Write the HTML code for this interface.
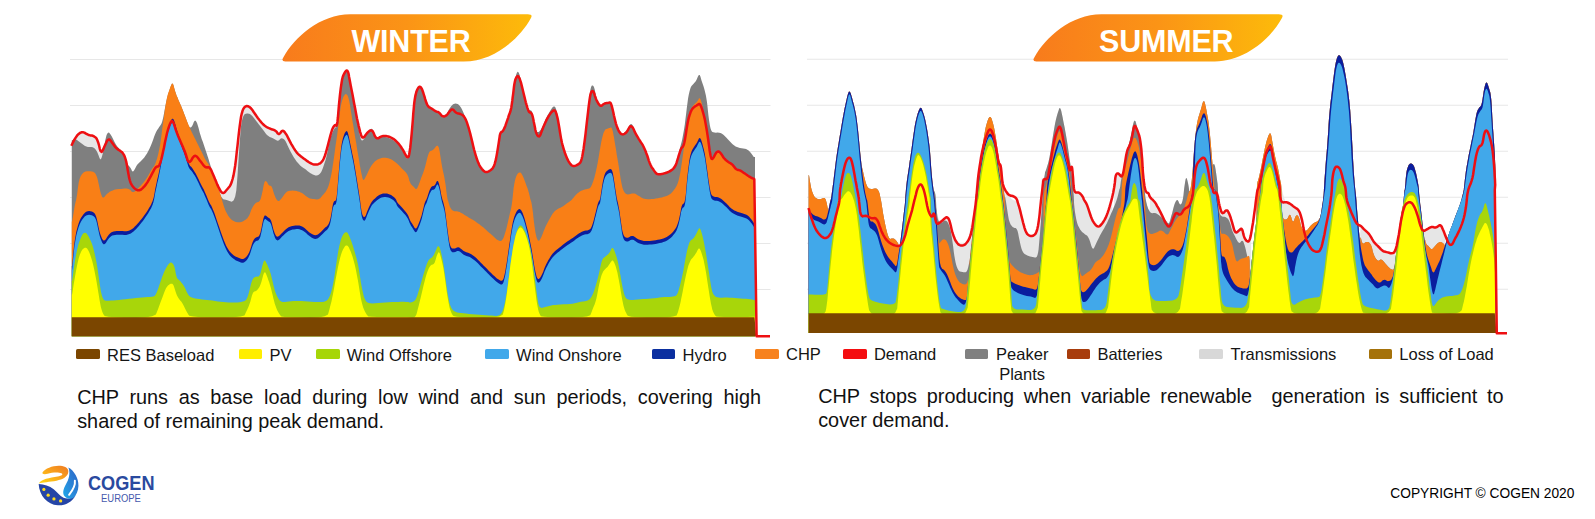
<!DOCTYPE html>
<html><head><meta charset="utf-8"><title>CHP seasonal dispatch</title>
<style>
html,body{margin:0;padding:0;background:#fff;}
body{width:1595px;height:519px;position:relative;overflow:hidden;font-family:"Liberation Sans",sans-serif;color:#111;}
svg{position:absolute;left:0;top:0;}
.ttl{position:absolute;color:#fff;font-weight:bold;font-size:30.5px;line-height:1;white-space:nowrap;letter-spacing:-0.2px;}
.sw{position:absolute;width:23.4px;height:9.4px;border-radius:1.6px;}
.lt{position:absolute;font-size:16.5px;line-height:1;white-space:nowrap;color:#151515;}
.para{position:absolute;font-size:19.88px;line-height:24.1px;text-align:justify;color:#111;}
.para span{display:block;text-align:justify;text-align-last:justify;white-space:nowrap;}
.para span.last{text-align-last:left;}
.cogen{position:absolute;left:88.2px;top:472.6px;font-size:20.3px;font-weight:bold;color:#2a4a9f;line-height:1;transform-origin:0 0;transform:scaleX(0.894);}
.europe{position:absolute;left:101.4px;top:493.6px;font-size:10px;color:#4558ad;line-height:1;transform-origin:0 0;transform:scaleX(0.945);}
.copy{position:absolute;left:1390.3px;top:487.2px;font-size:13.76px;line-height:1;color:#000;white-space:nowrap;}
</style></head><body>
<svg width="1595" height="519" viewBox="0 0 1595 519">
<line x1="70" x2="770.5" y1="59.5" y2="59.5" stroke="#e7e7e7" stroke-width="1.1"/>
<line x1="807" x2="1508" y1="59.2" y2="59.2" stroke="#e7e7e7" stroke-width="1.1"/>
<line x1="70" x2="770.5" y1="105.5" y2="105.5" stroke="#e7e7e7" stroke-width="1.1"/>
<line x1="807" x2="1508" y1="105.2" y2="105.2" stroke="#e7e7e7" stroke-width="1.1"/>
<line x1="70" x2="770.5" y1="151.5" y2="151.5" stroke="#e7e7e7" stroke-width="1.1"/>
<line x1="807" x2="1508" y1="151.2" y2="151.2" stroke="#e7e7e7" stroke-width="1.1"/>
<line x1="70" x2="770.5" y1="197.5" y2="197.5" stroke="#e7e7e7" stroke-width="1.1"/>
<line x1="807" x2="1508" y1="197.2" y2="197.2" stroke="#e7e7e7" stroke-width="1.1"/>
<line x1="70" x2="770.5" y1="243.5" y2="243.5" stroke="#e7e7e7" stroke-width="1.1"/>
<line x1="807" x2="1508" y1="243.2" y2="243.2" stroke="#e7e7e7" stroke-width="1.1"/>
<line x1="70" x2="770.5" y1="289.5" y2="289.5" stroke="#e7e7e7" stroke-width="1.1"/>
<line x1="807" x2="1508" y1="289.2" y2="289.2" stroke="#e7e7e7" stroke-width="1.1"/>
<g id="winter">
<polygon points="71.8,336.2 71.8,146.3 71.8,146.3 71.8,145.7 72.2,144.5 73.1,142.6 74.4,140.2 75.7,138.1 77.0,136.2 78.4,134.7 79.9,133.5 81.4,132.8 82.9,132.7 84.4,133.1 86.0,134.1 87.5,134.9 88.9,135.5 90.3,135.9 91.7,136.0 92.9,136.3 94.1,136.9 95.2,137.7 96.3,138.7 97.2,140.4 98.1,142.7 99.0,145.7 99.8,149.3 100.6,151.6 101.5,152.4 102.3,151.8 103.2,149.9 104.1,147.8 105.0,145.8 106.0,143.7 107.0,141.5 108.0,140.3 109.0,139.9 110.0,140.4 111.1,141.8 112.1,143.2 113.1,144.6 114.1,146.0 115.1,147.3 116.2,148.5 117.5,149.6 118.8,150.5 120.3,151.4 121.7,152.4 122.9,153.8 123.9,155.4 124.8,157.3 125.6,159.8 126.4,162.9 127.1,166.7 127.8,171.0 128.5,174.8 129.1,178.1 129.8,180.8 130.5,182.9 131.4,184.9 132.6,186.8 134.0,188.4 135.7,189.9 137.4,190.7 139.1,190.8 140.8,190.2 142.4,188.9 144.1,187.2 145.8,185.1 147.5,182.6 149.2,179.6 150.7,176.9 152.0,174.4 153.2,172.2 154.2,170.1 155.2,168.6 156.1,167.6 157.0,167.1 157.9,167.1 158.8,166.4 159.6,165.0 160.4,162.9 161.3,160.0 162.1,156.6 163.0,152.6 164.0,148.0 165.0,142.8 166.0,138.3 166.9,134.3 167.8,130.8 168.7,128.0 169.5,125.6 170.3,123.8 171.0,122.4 171.7,121.6 172.4,121.6 173.1,122.6 173.9,124.5 174.8,127.2 175.7,130.1 176.8,133.1 178.0,136.2 179.4,139.4 180.6,142.3 181.8,145.0 182.9,147.6 183.9,149.9 184.9,152.3 185.8,155.0 186.7,157.8 187.6,160.8 188.6,162.3 189.8,162.4 191.1,161.1 192.6,158.4 194.0,156.8 195.4,156.3 196.8,157.0 198.2,158.8 199.5,160.6 200.9,162.3 202.2,164.1 203.6,165.9 204.8,167.1 206.0,167.8 207.1,168.0 208.2,167.6 209.2,168.0 210.2,169.0 211.2,170.6 212.2,172.9 213.2,175.2 214.2,177.6 215.2,180.1 216.3,182.6 217.3,185.1 218.4,187.4 219.6,189.6 220.8,191.8 222.0,193.1 223.2,193.5 224.3,193.1 225.5,191.8 226.6,190.5 227.7,189.2 228.7,188.0 229.8,186.7 230.8,184.9 231.7,182.5 232.6,179.5 233.5,175.9 234.3,171.5 235.2,166.0 236.0,159.6 236.8,152.2 237.6,145.3 238.3,138.7 239.0,132.5 239.7,126.6 240.4,121.7 241.0,117.5 241.7,114.3 242.4,111.8 243.1,109.9 244.0,108.4 244.9,107.4 245.9,106.8 246.9,106.6 247.9,106.7 248.9,107.2 250.0,107.9 251.1,109.0 252.3,110.4 253.5,112.2 254.9,114.2 256.3,116.3 257.8,118.4 259.4,120.5 261.1,122.6 262.8,124.5 264.5,126.0 266.2,127.2 267.8,128.2 269.5,128.9 271.0,129.5 272.4,130.0 273.7,130.3 274.9,130.9 276.0,131.7 276.9,132.7 277.8,134.0 278.6,134.5 279.4,134.4 280.3,133.6 281.2,132.2 282.1,131.4 283.0,131.3 284.0,131.9 285.0,133.1 286.1,134.7 287.3,136.7 288.5,139.1 289.9,141.8 291.2,144.3 292.6,146.7 293.9,148.9 295.3,151.0 296.6,152.8 298.0,154.3 299.3,155.6 300.7,156.7 302.1,157.8 303.6,158.9 305.2,160.1 307.0,161.4 308.6,162.5 310.1,163.4 311.5,164.1 312.9,164.7 314.2,165.0 315.6,165.1 316.9,165.0 318.2,164.7 319.5,164.2 320.6,163.4 321.7,162.3 322.8,160.9 323.8,159.0 324.8,156.5 325.8,153.4 326.8,149.8 327.8,146.1 328.7,142.5 329.6,139.0 330.5,135.5 331.4,132.5 332.2,130.0 333.0,128.2 333.9,126.8 334.6,125.9 335.3,125.5 335.9,125.6 336.4,126.2 336.9,125.1 337.4,122.4 337.9,118.0 338.4,111.9 338.9,105.9 339.5,100.0 340.1,94.2 340.8,88.4 341.5,83.7 342.1,80.0 342.8,77.3 343.5,75.5 344.2,74.1 344.9,72.8 345.7,71.8 346.6,71.0 347.3,71.2 348.0,72.3 348.6,74.4 349.1,77.5 349.7,80.6 350.3,83.8 350.9,87.1 351.6,90.5 352.4,94.4 353.2,98.8 354.1,103.8 355.2,109.3 356.1,114.3 357.0,118.9 357.9,123.0 358.7,126.6 359.5,129.8 360.2,132.6 360.9,134.9 361.6,136.9 362.4,137.9 363.3,138.0 364.4,137.2 365.6,135.5 366.8,133.9 368.0,132.7 369.2,131.6 370.5,130.9 371.6,130.9 372.7,131.8 373.7,133.6 374.7,136.2 375.8,137.9 377.0,138.8 378.4,138.7 380.0,137.6 381.6,136.9 383.2,136.5 384.8,136.4 386.5,136.6 388.2,137.0 389.9,137.5 391.5,138.3 393.3,139.3 394.9,140.5 396.6,142.1 398.3,143.9 400.0,146.0 401.6,148.3 403.1,150.7 404.5,153.3 405.9,156.0 407.0,157.5 408.0,157.8 408.7,156.9 409.2,154.7 409.7,151.7 410.3,147.7 410.8,142.9 411.4,137.2 411.9,131.4 412.4,125.5 412.9,119.6 413.3,113.6 413.8,108.4 414.2,103.9 414.7,100.2 415.2,97.2 415.8,94.6 416.4,92.3 417.2,90.3 418.1,88.7 418.9,87.6 419.7,87.2 420.4,87.4 421.1,88.1 421.8,89.3 422.4,90.8 423.1,92.7 423.8,95.0 424.5,97.2 425.1,99.4 425.8,101.5 426.5,103.6 427.2,105.3 428.1,106.6 429.0,107.6 430.1,108.2 431.1,108.8 432.1,109.4 433.1,110.1 434.1,110.8 435.1,111.4 436.0,111.9 436.9,112.2 437.8,112.4 438.7,112.9 439.5,113.5 440.3,114.4 441.2,115.6 442.0,116.4 442.9,116.8 443.9,116.9 444.9,116.7 445.9,116.2 446.8,115.5 447.7,114.5 448.6,113.3 449.4,112.2 450.2,111.3 450.9,110.6 451.6,110.0 452.3,109.9 453.0,110.1 453.8,110.8 454.6,111.8 455.5,112.7 456.4,113.3 457.3,113.7 458.4,113.9 459.4,114.2 460.4,114.5 461.4,115.0 462.4,115.5 463.4,116.4 464.3,117.5 465.1,118.9 466.0,120.6 466.8,122.6 467.6,125.1 468.5,127.8 469.4,131.0 470.3,134.4 471.2,138.1 472.2,142.1 473.2,146.5 474.2,150.5 475.2,154.1 476.2,157.5 477.3,160.6 478.2,163.1 479.2,165.3 480.1,167.0 481.0,168.2 481.8,169.3 482.7,170.3 483.5,171.2 484.3,171.9 485.2,172.4 486.1,172.6 487.0,172.5 488.1,172.1 489.1,171.6 490.1,171.0 491.1,170.3 492.1,169.4 493.0,168.2 493.9,166.6 494.6,164.6 495.3,162.2 496.0,159.4 496.6,156.1 497.3,152.2 498.0,147.9 498.6,144.1 499.1,140.8 499.5,138.2 499.8,136.0 500.2,134.4 500.7,133.2 501.3,132.4 502.0,132.2 502.7,131.6 503.3,130.7 504.0,129.4 504.7,127.9 505.4,126.2 506.0,124.4 506.7,122.4 507.4,120.3 508.1,118.3 508.7,116.3 509.4,114.5 510.1,112.8 510.7,110.7 511.3,108.0 511.8,104.8 512.3,101.2 512.7,97.6 513.2,94.1 513.6,90.6 514.0,87.2 514.4,84.4 514.9,82.1 515.3,80.3 515.8,79.1 516.3,78.1 516.7,77.4 517.2,76.9 517.7,76.7 518.2,76.8 518.7,77.4 519.2,78.3 519.8,79.6 520.3,81.1 520.9,82.8 521.4,84.8 521.9,86.9 522.5,89.2 523.1,91.7 523.7,94.3 524.4,97.1 525.1,100.0 525.8,102.8 526.6,105.7 527.5,108.6 528.3,110.8 529.1,112.3 529.9,113.0 530.7,113.1 531.4,113.8 532.1,115.1 532.7,117.1 533.3,119.8 533.8,122.5 534.4,125.2 534.9,127.8 535.4,130.5 536.0,132.7 536.7,134.5 537.4,135.8 538.2,136.7 539.0,136.9 539.7,136.4 540.4,135.3 541.1,133.4 541.9,131.4 542.7,129.3 543.6,126.9 544.7,124.5 545.7,122.2 546.7,120.1 547.7,118.3 548.7,116.6 549.7,115.1 550.6,113.8 551.4,112.8 552.3,111.9 553.0,111.3 553.7,111.0 554.3,110.9 554.8,111.0 555.4,111.7 556.0,113.1 556.6,115.0 557.3,117.6 558.0,120.7 558.6,124.2 559.3,128.3 560.0,132.8 560.7,136.9 561.3,140.4 562.0,143.5 562.7,146.2 563.5,148.8 564.3,151.5 565.2,154.3 566.3,157.0 567.3,159.4 568.3,161.4 569.3,163.1 570.3,164.4 571.2,165.4 572.1,166.1 573.0,166.4 573.8,166.5 574.6,166.4 575.5,166.2 576.3,165.9 577.2,165.4 578.1,164.9 578.9,164.3 579.6,163.7 580.3,163.0 581.0,161.6 581.6,159.5 582.3,156.7 582.9,153.2 583.6,149.2 584.2,144.6 584.9,139.5 585.6,133.9 586.2,128.4 586.8,123.1 587.4,118.0 588.0,113.0 588.5,108.5 589.0,104.4 589.5,100.6 590.0,97.4 590.5,94.8 591.1,93.0 591.7,91.9 592.4,91.6 593.0,91.8 593.6,92.6 594.2,93.9 594.7,95.8 595.3,97.5 595.9,99.2 596.5,100.6 597.2,102.0 597.9,103.2 598.5,104.3 599.2,105.2 599.9,105.9 600.6,106.3 601.3,106.3 602.1,105.9 603.0,105.1 603.8,104.5 604.7,104.0 605.7,103.7 606.7,103.6 607.6,103.5 608.5,103.3 609.2,103.1 609.9,102.9 610.6,103.5 611.2,104.8 611.9,107.0 612.6,109.9 613.3,112.8 613.9,115.8 614.6,118.7 615.3,121.6 616.0,124.3 616.8,126.7 617.6,128.9 618.5,130.8 619.3,132.3 620.2,133.5 621.0,134.3 621.9,134.7 622.7,134.9 623.6,134.7 624.6,134.3 625.6,133.6 626.5,132.6 627.4,131.5 628.1,130.2 628.8,128.8 629.5,127.7 630.1,127.0 630.8,126.8 631.5,126.9 632.2,127.4 632.8,128.2 633.5,129.5 634.2,131.1 634.9,132.7 635.8,134.3 636.7,136.0 637.7,137.6 638.7,139.3 639.7,140.9 640.7,142.5 641.8,144.1 642.8,145.7 643.7,147.5 644.6,149.5 645.5,151.5 646.3,153.7 647.2,156.0 648.0,158.5 648.8,161.1 649.7,163.4 650.6,165.5 651.5,167.4 652.6,168.9 653.5,170.3 654.4,171.6 655.1,172.6 655.8,173.5 656.5,174.1 657.4,174.6 658.3,174.8 659.3,174.8 660.4,174.7 661.6,174.6 662.8,174.3 664.2,173.9 665.5,173.5 666.9,173.0 668.2,172.5 669.6,171.9 670.8,171.1 672.0,170.3 673.1,169.3 674.1,168.2 675.0,166.8 675.9,165.1 676.6,163.2 677.3,160.9 678.0,158.7 678.6,156.5 679.3,154.3 680.0,152.1 680.7,150.3 681.3,149.0 682.0,148.0 682.7,147.4 683.3,146.4 683.9,144.8 684.4,142.8 684.9,140.2 685.4,137.4 685.9,134.2 686.4,130.8 687.0,127.1 687.6,123.7 688.2,120.7 688.8,118.1 689.5,115.8 690.2,113.8 690.8,112.1 691.5,110.7 692.2,109.6 692.9,108.7 693.8,107.9 694.7,107.1 695.7,106.5 696.6,106.0 697.5,105.4 698.2,104.9 698.9,104.5 699.6,104.6 700.2,105.2 700.9,106.5 701.6,108.3 702.3,110.3 702.9,112.5 703.6,115.0 704.3,117.6 705.0,120.7 705.6,124.1 706.3,127.9 707.0,132.1 707.6,136.1 708.2,140.0 708.7,143.8 709.2,147.5 709.6,150.7 710.1,153.4 710.5,155.7 710.9,157.4 711.3,158.7 711.8,159.4 712.2,159.5 712.7,159.1 713.2,158.5 713.8,157.6 714.4,156.4 715.1,155.0 715.8,153.9 716.4,153.0 717.1,152.4 717.8,152.1 718.5,152.0 719.1,152.2 719.8,152.7 720.5,153.5 721.2,154.4 721.8,155.3 722.5,156.4 723.2,157.5 723.9,158.5 724.8,159.5 725.7,160.4 726.7,161.3 727.7,162.1 728.7,162.8 729.7,163.4 730.8,163.9 731.8,164.7 732.8,165.7 733.8,166.8 734.8,168.2 735.8,169.3 736.8,170.0 737.8,170.5 738.9,170.6 739.9,170.9 740.9,171.4 741.9,172.0 742.9,172.7 743.9,173.4 744.9,174.1 745.9,174.8 747.0,175.5 748.0,176.2 748.9,176.8 749.8,177.3 750.7,177.9 751.5,178.3 752.2,178.7 752.8,178.9 753.3,179.1 753.7,179.3 754.0,179.4 754.1,179.4 755.0,179.4 755.0,336.2" fill="#e6e6e6" />
<polygon points="71.8,336.2 71.8,140.9 71.8,140.9 71.8,140.8 71.8,140.6 72.1,140.3 72.7,140.0 73.3,139.7 73.9,139.5 74.5,139.3 75.2,139.3 76.0,139.6 77.0,140.1 78.2,140.9 79.6,142.1 80.9,143.1 82.3,144.1 83.6,145.0 85.0,145.9 86.4,146.5 87.9,146.9 89.5,147.1 91.2,146.9 92.7,147.2 94.1,147.9 95.2,148.9 96.3,150.4 97.2,152.0 98.0,153.9 98.8,155.9 99.5,158.1 100.2,159.2 100.8,159.2 101.5,158.1 102.1,155.9 102.8,153.3 103.4,150.3 104.1,146.9 104.8,143.0 105.4,139.8 106.0,137.2 106.6,135.1 107.2,133.7 107.8,132.9 108.5,132.6 109.2,132.8 110.0,133.7 110.9,134.9 111.8,136.4 112.7,138.3 113.8,140.6 114.9,142.8 116.1,144.7 117.3,146.4 118.7,147.9 119.9,149.4 121.1,150.7 122.2,152.0 123.2,153.2 124.1,154.7 125.0,156.5 125.7,158.6 126.4,161.0 127.1,163.0 127.9,164.6 128.6,165.7 129.5,166.5 130.2,167.4 130.9,168.5 131.5,169.7 132.0,171.1 132.7,171.6 133.4,171.2 134.3,170.0 135.4,167.9 136.4,166.1 137.4,164.6 138.4,163.5 139.4,162.6 140.5,161.5 141.7,160.3 142.9,158.9 144.3,157.4 145.6,155.5 147.0,153.4 148.3,151.0 149.7,148.2 150.9,145.4 152.1,142.5 153.2,139.6 154.2,136.6 155.2,134.0 156.2,131.7 157.2,129.9 158.3,128.4 159.2,127.1 160.1,125.8 160.8,124.7 161.5,123.6 162.2,121.4 163.1,118.1 164.0,113.5 165.0,107.9 166.0,102.8 167.0,98.3 168.0,94.5 169.1,91.2 170.0,88.5 170.7,86.4 171.4,84.8 171.9,83.7 172.5,83.5 173.1,84.3 173.7,86.0 174.4,88.7 175.1,91.2 175.9,93.5 176.6,95.7 177.5,97.6 178.3,99.7 179.2,101.8 180.2,104.0 181.2,106.3 182.2,108.7 183.2,111.2 184.2,113.9 185.3,116.7 186.2,119.2 187.0,121.5 187.8,123.5 188.4,125.3 189.1,126.5 189.7,127.3 190.4,127.5 191.1,127.3 191.8,126.6 192.4,125.5 193.1,124.0 193.8,122.0 194.5,120.9 195.1,120.5 195.8,120.9 196.5,122.0 197.2,123.6 197.8,125.5 198.5,127.8 199.2,130.5 199.9,133.2 200.8,136.0 201.7,138.9 202.8,141.8 203.8,144.8 204.8,147.8 205.8,150.8 206.8,153.8 207.7,156.6 208.6,159.2 209.3,161.7 210.0,163.9 210.7,166.2 211.3,168.4 212.0,170.7 212.7,172.9 213.4,175.2 214.3,177.7 215.2,180.2 216.3,182.8 217.3,185.6 218.3,188.4 219.3,191.4 220.3,194.4 221.3,196.7 222.3,198.3 223.3,199.2 224.4,199.4 225.7,199.7 227.4,200.2 229.4,200.9 231.8,201.8 233.7,200.3 235.2,196.5 236.3,190.4 237.0,181.9 237.7,172.8 238.3,163.2 239.0,153.0 239.7,142.2 240.4,133.4 241.0,126.6 241.7,121.8 242.4,118.9 243.1,116.7 244.0,115.1 244.9,114.1 245.9,113.8 246.9,113.6 247.9,113.6 248.9,113.8 250.0,114.1 251.1,114.9 252.3,116.0 253.5,117.4 254.9,119.2 256.2,121.0 257.6,122.8 258.9,124.5 260.3,126.3 261.6,128.0 263.0,129.8 264.3,131.6 265.7,133.4 267.0,134.9 268.4,136.1 269.7,136.9 271.1,137.4 272.4,138.0 273.8,138.7 275.1,139.5 276.4,140.3 277.6,140.7 278.6,140.6 279.4,140.0 280.1,139.0 280.9,138.4 281.7,138.2 282.6,138.4 283.7,139.0 284.7,140.1 285.7,141.6 286.7,143.4 287.7,145.7 288.8,148.1 290.0,150.4 291.2,152.8 292.6,155.2 293.9,157.5 295.3,159.5 296.6,161.4 298.0,163.1 299.3,164.6 300.7,165.9 302.0,167.0 303.4,167.9 304.7,168.8 306.1,169.8 307.4,170.9 308.8,172.0 310.1,172.9 311.5,173.8 312.8,174.5 314.2,175.1 315.4,175.4 316.6,175.5 317.7,175.2 318.7,174.7 319.6,174.0 320.5,173.1 321.2,171.9 321.9,170.5 322.6,168.7 323.5,166.3 324.4,163.5 325.5,160.2 326.4,156.7 327.2,153.2 328.0,149.5 328.7,145.7 329.4,142.4 330.0,139.5 330.7,137.1 331.4,135.2 332.1,133.5 332.7,131.9 333.4,130.4 334.1,129.2 334.7,128.2 335.3,127.6 335.9,127.2 336.4,127.2 336.9,125.7 337.4,122.7 337.9,118.2 338.4,112.2 338.8,106.6 339.2,101.3 339.6,96.4 340.0,91.8 340.5,87.7 341.2,84.0 342.0,80.8 343.0,78.0 344.0,75.5 344.9,73.5 345.7,71.9 346.6,70.7 347.4,70.6 348.1,71.7 348.9,73.9 349.6,77.2 350.4,80.9 351.1,84.8 351.9,89.0 352.8,93.5 353.6,97.9 354.3,102.2 355.0,106.4 355.7,110.4 356.4,114.6 357.0,118.8 357.7,123.1 358.4,127.5 359.1,131.3 359.7,134.6 360.4,137.4 361.0,139.6 361.9,140.6 362.9,140.3 364.0,138.9 365.4,136.2 366.7,133.9 368.0,131.9 369.2,130.3 370.5,129.0 371.6,128.7 372.6,129.4 373.5,131.2 374.3,134.0 375.3,136.0 376.6,137.3 378.0,137.7 379.8,137.3 381.4,137.0 383.1,137.0 384.8,137.1 386.5,137.3 388.2,137.8 389.9,138.4 391.5,139.2 393.3,140.2 394.9,141.4 396.6,143.0 398.3,144.8 400.0,146.8 401.6,149.1 403.1,151.7 404.5,154.4 405.9,157.3 407.0,158.5 408.0,157.8 408.7,155.3 409.2,151.0 409.7,146.4 410.3,141.5 410.8,136.3 411.4,130.8 411.9,125.2 412.4,119.5 412.9,113.6 413.3,107.5 413.8,102.4 414.2,98.3 414.7,95.2 415.2,93.1 415.8,91.2 416.4,89.5 417.2,88.2 418.1,87.0 418.9,86.4 419.7,86.2 420.4,86.4 421.1,87.1 421.8,88.2 422.4,89.7 423.1,91.6 423.8,93.9 424.5,96.1 425.1,98.3 425.8,100.3 426.5,102.3 427.2,104.0 428.1,105.4 429.0,106.4 430.1,107.1 431.1,107.8 432.1,108.5 433.1,109.2 434.1,109.8 435.1,110.4 436.0,110.8 436.9,111.0 437.8,111.2 438.7,111.7 439.5,112.7 440.3,114.0 441.2,115.8 442.0,116.9 442.9,117.3 443.9,117.0 444.9,115.9 445.9,114.8 446.8,113.4 447.7,111.9 448.6,110.2 449.4,108.7 450.3,107.4 451.1,106.3 451.9,105.4 452.8,104.6 453.7,104.1 454.6,103.8 455.7,103.6 456.6,103.7 457.6,104.0 458.5,104.6 459.4,105.4 460.2,106.4 461.1,107.7 461.9,109.2 462.7,111.0 463.5,112.8 464.3,114.7 465.1,116.8 466.0,118.9 466.8,121.3 467.6,124.0 468.5,127.0 469.4,130.3 470.3,133.9 471.2,137.7 472.2,141.7 473.2,146.0 474.2,150.0 475.2,153.6 476.2,157.0 477.3,160.1 478.2,162.6 479.2,164.8 480.1,166.5 481.0,167.7 481.8,168.8 482.7,169.8 483.5,170.7 484.3,171.4 485.2,171.9 486.1,172.1 487.0,172.0 488.1,171.6 489.1,171.1 490.1,170.5 491.1,169.8 492.1,168.9 493.0,167.7 493.9,166.1 494.6,164.1 495.3,161.7 496.0,158.9 496.6,155.6 497.3,151.7 498.0,147.4 498.6,143.6 499.1,140.3 499.5,137.7 499.8,135.5 500.2,133.9 500.7,132.7 501.3,131.9 502.0,131.7 502.7,131.1 503.3,130.2 504.0,128.9 504.7,127.4 505.4,125.7 506.0,123.9 506.7,121.9 507.4,119.8 508.1,117.8 508.7,115.9 509.4,114.1 510.1,112.5 510.7,110.2 511.3,107.3 511.8,103.8 512.3,99.6 512.8,95.5 513.3,91.4 513.8,87.4 514.4,83.4 515.0,79.9 515.6,76.9 516.2,74.5 516.9,72.7 517.6,71.8 518.2,71.9 518.9,72.9 519.6,75.0 520.2,77.2 520.8,79.7 521.4,82.3 521.9,85.2 522.5,88.0 523.1,90.7 523.7,93.5 524.4,96.2 525.1,99.0 525.8,101.7 526.6,104.4 527.5,107.2 528.3,109.1 529.1,110.3 529.9,110.6 530.7,110.2 531.4,110.7 532.1,112.0 532.7,114.3 533.3,117.5 533.8,120.5 534.4,123.3 534.9,125.9 535.4,128.4 536.0,130.2 536.6,131.5 537.2,132.1 537.9,132.1 538.6,131.9 539.3,131.4 540.1,130.6 540.9,129.5 541.8,128.1 542.7,126.3 543.6,124.1 544.7,121.5 545.7,119.1 546.7,117.0 547.7,115.1 548.7,113.4 549.7,111.7 550.7,110.1 551.7,108.6 552.8,107.1 553.7,106.4 554.5,106.5 555.3,107.3 556.0,109.0 556.6,110.9 557.1,113.1 557.5,115.6 557.8,118.2 558.2,121.3 558.7,124.8 559.3,128.6 560.0,132.8 560.7,136.6 561.3,140.0 562.0,143.0 562.7,145.7 563.5,148.3 564.3,151.0 565.2,153.8 566.3,156.5 567.3,158.9 568.3,160.9 569.3,162.6 570.3,163.9 571.2,164.9 572.1,165.6 573.0,165.9 573.8,166.0 574.6,165.9 575.5,165.7 576.3,165.4 577.2,164.9 578.1,164.4 578.9,163.8 579.6,163.2 580.3,162.5 581.0,161.1 581.6,159.0 582.3,156.2 582.9,152.7 583.6,148.7 584.2,144.2 584.9,139.1 585.6,133.5 586.2,128.0 586.8,122.6 587.4,117.3 588.0,112.1 588.5,107.0 589.0,102.1 589.5,97.3 590.0,92.7 590.5,89.2 591.2,86.8 591.9,85.6 592.7,85.5 593.4,86.1 594.1,87.5 594.7,89.6 595.3,92.5 595.8,95.1 596.4,97.3 596.9,99.3 597.4,100.9 598.0,102.3 598.6,103.4 599.2,104.3 599.9,105.0 600.6,105.3 601.3,105.3 602.1,104.8 603.0,104.0 603.8,103.4 604.7,102.9 605.7,102.7 606.7,102.6 607.6,102.5 608.5,102.3 609.2,102.1 609.9,101.8 610.6,102.4 611.2,103.8 611.9,106.1 612.6,109.2 613.3,112.3 613.9,115.3 614.6,118.3 615.3,121.2 616.0,123.8 616.8,126.2 617.6,128.2 618.5,129.9 619.3,131.3 620.2,132.4 621.0,133.2 621.9,133.6 622.7,133.6 623.6,133.3 624.6,132.6 625.6,131.5 626.6,130.3 627.5,128.9 628.4,127.3 629.3,125.5 630.1,124.4 631.0,124.0 631.8,124.3 632.6,125.3 633.3,126.4 633.9,127.7 634.3,129.2 634.7,130.8 635.2,132.5 635.9,134.1 636.7,135.7 637.7,137.3 638.7,138.8 639.7,140.4 640.7,142.0 641.8,143.6 642.8,145.2 643.7,147.0 644.6,149.0 645.5,151.0 646.3,153.2 647.2,155.5 648.0,158.0 648.8,160.6 649.7,162.9 650.6,165.0 651.5,166.9 652.6,168.4 653.5,169.8 654.4,171.1 655.1,172.1 655.8,173.0 656.5,173.6 657.4,174.1 658.3,174.3 659.3,174.3 660.4,174.2 661.6,174.1 662.8,173.8 664.2,173.4 665.5,173.0 666.9,172.5 668.2,172.0 669.6,171.4 670.8,170.7 672.0,169.8 673.1,168.9 674.1,167.8 675.0,166.4 675.9,164.6 676.6,162.4 677.3,159.8 677.9,157.5 678.4,155.3 678.8,153.3 679.2,151.5 679.6,149.6 680.1,147.4 680.7,145.2 681.4,142.7 682.1,139.9 682.7,136.7 683.4,133.0 684.1,129.0 684.8,124.4 685.4,119.4 686.1,113.9 686.8,107.9 687.5,102.7 688.1,98.2 688.8,94.4 689.5,91.4 690.2,89.0 690.8,87.2 691.5,85.9 692.2,85.2 692.9,84.5 693.6,83.7 694.4,82.8 695.2,81.9 696.0,80.7 696.8,79.3 697.5,77.6 698.3,75.8 699.0,74.9 699.7,75.0 700.3,76.2 700.9,78.3 701.5,80.4 702.2,82.4 702.8,84.3 703.5,86.2 704.1,88.2 704.7,90.5 705.3,92.9 705.9,95.4 706.4,98.6 707.0,102.3 707.5,106.6 708.0,111.5 708.5,115.9 709.0,119.7 709.5,123.1 710.0,125.9 710.5,128.2 711.1,130.0 711.7,131.2 712.4,131.9 713.3,132.3 714.5,132.6 715.9,132.7 717.6,132.6 719.1,132.7 720.5,133.0 721.6,133.5 722.7,134.2 723.7,135.0 724.7,135.9 725.7,136.9 726.7,138.0 727.8,139.2 729.0,140.4 730.2,141.8 731.6,143.3 732.9,144.5 734.3,145.5 735.6,146.4 737.0,147.0 738.4,147.5 739.9,147.9 741.6,148.2 743.2,148.4 744.8,148.7 746.1,149.1 747.3,149.7 748.3,150.3 749.3,151.2 750.3,152.2 751.3,153.5 752.4,154.9 753.1,156.0 753.6,156.7 753.9,157.1 755.0,157.1 755.0,336.2" fill="#7f7f7f" />
<polygon points="71.8,336.2 71.8,221.6 72.1,221.6 72.2,221.1 72.4,220.1 72.6,218.6 73.0,216.6 73.3,214.4 73.7,212.2 74.1,209.8 74.5,207.3 74.9,205.1 75.3,203.2 75.7,201.6 76.1,200.3 76.5,198.1 77.0,195.1 77.5,191.3 78.1,186.6 78.7,182.5 79.5,179.3 80.4,176.7 81.4,174.9 82.6,173.4 83.9,172.3 85.5,171.6 87.2,171.3 88.8,171.2 90.3,171.2 91.7,171.4 93.1,171.8 94.3,172.5 95.3,173.5 96.1,174.9 96.8,176.6 97.5,178.7 98.1,181.3 98.8,184.4 99.5,187.9 100.2,190.9 100.8,193.3 101.5,195.3 102.1,196.7 102.9,197.4 103.7,197.4 104.6,196.7 105.7,195.3 106.9,194.0 108.2,192.9 109.7,191.8 111.4,190.9 113.2,190.2 115.0,189.6 116.9,189.3 119.0,189.1 120.9,188.9 122.8,188.7 124.6,188.6 126.2,188.5 127.8,188.7 129.1,189.3 130.3,190.1 131.3,191.3 132.3,192.0 133.3,192.1 134.3,191.8 135.4,190.9 136.4,190.0 137.4,189.1 138.4,188.1 139.4,187.1 140.5,185.9 141.7,184.6 142.9,183.2 144.3,181.6 145.6,179.7 147.0,177.7 148.3,175.4 149.7,172.9 150.9,170.7 152.1,168.8 153.2,167.2 154.2,165.9 155.2,164.0 156.2,161.3 157.2,157.9 158.3,153.8 159.2,149.5 160.1,144.9 160.8,140.0 161.5,134.9 162.2,129.3 163.1,123.1 164.0,116.4 165.0,109.1 166.0,102.9 167.0,97.8 168.0,93.8 169.1,90.8 170.0,88.3 170.7,86.3 171.4,84.8 171.9,83.7 172.5,83.5 173.1,84.3 173.7,86.0 174.4,88.7 175.1,91.2 175.9,93.5 176.6,95.7 177.5,97.6 178.3,99.7 179.2,101.8 180.2,104.0 181.2,106.3 182.2,108.7 183.2,111.2 184.2,113.9 185.3,116.7 186.3,119.4 187.3,122.0 188.3,124.4 189.3,126.8 190.3,129.0 191.3,131.2 192.3,133.3 193.3,135.3 194.4,137.4 195.6,139.7 196.8,142.3 198.2,145.0 199.5,147.7 200.9,150.4 202.2,153.1 203.6,155.9 204.8,158.4 206.0,160.5 207.1,162.3 208.2,163.8 209.2,165.5 210.2,167.5 211.2,169.7 212.2,172.1 213.2,174.7 214.2,177.2 215.2,179.8 216.3,182.5 217.2,185.2 218.2,187.9 219.1,190.6 220.0,193.3 220.7,195.6 221.3,197.5 221.7,198.9 222.0,199.9 222.3,201.1 222.7,202.4 223.2,204.0 223.7,205.8 224.4,207.7 225.1,209.7 226.0,211.7 227.1,213.8 228.2,215.7 229.3,217.3 230.6,218.7 231.9,219.9 233.2,220.8 234.6,221.5 235.9,222.0 237.3,222.2 238.6,222.3 240.0,222.2 241.3,221.9 242.7,221.4 243.9,220.8 245.1,220.0 246.2,219.2 247.3,218.3 248.2,217.1 249.1,215.6 249.8,213.9 250.5,211.9 251.2,210.1 252.1,208.3 253.0,206.6 254.0,205.0 255.0,203.7 256.1,202.8 257.2,202.2 258.4,202.0 259.4,201.3 260.2,200.0 260.9,198.2 261.5,195.8 262.0,193.4 262.6,190.9 263.1,188.3 263.6,185.6 264.1,183.5 264.6,182.0 265.1,181.2 265.6,181.0 266.1,181.2 266.7,181.7 267.3,182.6 268.0,183.9 268.7,184.9 269.3,185.5 270.0,185.8 270.7,185.8 271.4,186.3 272.0,187.5 272.7,189.3 273.4,191.7 274.1,194.0 274.9,196.0 275.7,197.9 276.6,199.5 277.4,200.6 278.3,201.1 279.1,201.0 279.9,200.3 280.8,199.3 281.9,197.9 283.1,196.2 284.5,194.2 285.8,192.7 287.2,191.6 288.5,190.9 289.9,190.8 291.2,190.7 292.6,190.6 293.9,190.7 295.3,190.8 296.6,191.1 298.0,191.4 299.3,191.8 300.7,192.4 302.0,193.1 303.4,194.0 304.7,195.0 306.1,196.2 307.4,197.1 308.8,197.9 310.1,198.4 311.5,198.7 312.8,198.9 314.2,199.1 315.5,199.3 316.9,199.4 318.1,199.2 319.3,198.7 320.4,197.9 321.4,196.7 322.4,195.6 323.4,194.4 324.4,193.2 325.5,192.0 326.4,190.6 327.2,189.0 328.0,187.2 328.7,185.3 329.4,182.9 330.0,180.3 330.7,177.2 331.4,173.9 332.1,170.1 332.7,165.9 333.4,161.4 334.1,156.4 334.8,151.6 335.4,146.8 336.1,142.1 336.8,137.5 337.5,132.5 338.1,127.2 338.8,121.6 339.5,115.6 340.2,110.5 340.8,106.3 341.5,102.9 342.2,100.3 342.9,98.2 343.6,96.5 344.4,95.2 345.2,94.3 346.0,94.1 346.7,94.4 347.4,95.3 348.1,96.8 348.7,98.9 349.3,101.5 349.9,104.7 350.5,108.4 351.1,112.2 351.7,116.0 352.3,120.0 353.0,124.0 353.7,128.1 354.3,132.1 355.0,136.2 355.7,140.2 356.4,144.3 357.0,148.4 357.7,152.5 358.4,156.6 359.1,160.6 359.7,164.4 360.4,168.0 361.0,171.4 361.6,174.3 362.1,176.5 362.5,178.2 362.9,179.3 363.3,179.9 363.8,179.8 364.4,179.2 365.1,178.0 365.8,176.6 366.7,174.9 367.6,172.9 368.6,170.7 369.7,168.6 370.9,166.6 372.1,164.8 373.5,163.0 374.8,161.6 376.2,160.4 377.5,159.5 378.9,158.9 380.2,158.4 381.6,158.1 382.9,157.8 384.3,157.7 385.6,157.7 387.0,157.9 388.3,158.2 389.7,158.7 391.0,159.3 392.4,160.1 393.7,161.0 395.1,162.0 396.4,163.1 397.8,164.3 399.1,165.6 400.5,167.0 401.8,168.4 403.2,169.8 404.5,171.1 405.9,172.5 407.0,174.1 408.0,175.9 408.7,177.9 409.2,180.2 409.9,182.1 410.6,183.6 411.5,184.8 412.5,185.7 413.4,186.5 414.3,187.4 415.0,188.2 415.7,189.1 416.4,189.0 417.3,188.0 418.2,186.0 419.3,183.2 420.3,180.4 421.3,177.6 422.3,175.0 423.3,172.4 424.3,169.4 425.3,165.9 426.3,162.0 427.4,157.6 428.4,154.3 429.4,152.0 430.4,150.9 431.4,150.7 432.4,150.3 433.4,149.5 434.4,148.4 435.5,147.0 436.4,146.1 437.1,145.7 437.8,145.8 438.3,146.5 438.9,148.1 439.5,150.7 440.1,154.3 440.8,158.8 441.5,163.2 442.2,167.3 443.0,171.2 443.9,174.9 444.6,178.8 445.3,182.9 445.9,187.1 446.4,191.6 446.9,195.1 447.3,197.7 447.6,199.4 447.9,200.2 448.2,201.1 448.5,202.2 448.9,203.5 449.3,205.0 449.8,206.4 450.4,207.7 451.1,208.8 451.9,209.9 452.8,210.6 453.7,211.1 454.6,211.3 455.7,211.2 456.7,211.3 457.7,211.4 458.7,211.7 459.7,212.1 460.8,212.7 462.0,213.3 463.2,214.1 464.6,214.9 465.9,215.8 467.3,216.6 468.6,217.4 470.0,218.2 471.3,219.0 472.7,219.8 474.0,220.6 475.4,221.5 476.7,222.4 478.1,223.4 479.4,224.3 480.8,225.4 482.1,226.4 483.5,227.6 484.8,228.7 486.2,230.0 487.5,231.2 488.9,232.4 490.2,233.5 491.6,234.7 492.8,235.8 494.0,236.9 495.1,237.9 496.1,238.9 497.1,239.7 498.1,240.3 499.1,240.8 500.2,241.1 501.1,240.9 501.9,240.3 502.7,239.3 503.4,237.9 504.1,236.2 504.7,234.3 505.4,232.1 506.1,229.7 506.8,227.1 507.4,224.3 508.1,221.3 508.8,218.2 509.4,215.4 510.0,212.8 510.6,210.5 511.1,208.5 511.6,205.7 512.1,202.1 512.6,197.8 513.1,192.8 513.6,188.3 514.2,184.5 514.8,181.2 515.5,178.6 516.2,176.4 517.0,174.7 517.8,173.5 518.7,172.8 519.5,172.5 520.3,172.6 521.0,173.1 521.7,174.0 522.4,175.2 523.0,176.5 523.7,178.1 524.4,179.9 525.1,181.8 525.8,183.8 526.6,186.0 527.5,188.3 528.2,190.5 528.8,192.5 529.3,194.5 529.7,196.3 530.1,197.9 530.4,199.2 530.7,200.2 531.0,201.0 531.3,202.1 531.6,203.5 531.9,205.2 532.2,207.3 532.6,209.9 533.0,213.1 533.4,217.0 533.9,221.5 534.4,225.5 534.9,229.1 535.4,232.2 536.0,235.0 536.5,237.2 537.1,238.8 537.6,240.0 538.1,240.6 538.7,240.7 539.3,240.5 539.9,239.7 540.6,238.6 541.3,237.2 542.0,235.5 542.8,233.5 543.6,231.3 544.5,229.2 545.4,227.1 546.3,225.0 547.4,223.0 548.4,221.1 549.4,219.2 550.4,217.4 551.4,215.7 552.4,214.1 553.4,212.7 554.4,211.6 555.5,210.6 556.6,209.7 557.8,208.9 559.0,208.3 560.4,207.7 561.7,207.1 563.1,206.3 564.4,205.3 565.8,204.3 567.0,203.3 568.2,202.5 569.3,201.7 570.3,201.0 571.3,200.2 572.3,199.1 573.3,197.9 574.4,196.6 575.5,195.3 576.7,194.1 577.9,193.0 579.3,192.0 580.6,191.1 582.0,190.4 583.3,189.9 584.6,189.6 585.9,189.2 587.0,189.0 588.1,188.7 589.2,188.5 590.2,187.7 591.2,186.2 592.2,184.1 593.2,181.3 594.2,178.2 595.1,174.7 596.0,170.9 596.9,166.7 597.8,162.2 598.6,157.5 599.4,152.6 600.3,147.4 601.1,142.8 601.9,138.9 602.7,135.7 603.5,133.1 604.3,131.2 605.2,129.8 606.0,129.0 606.9,128.9 607.8,128.6 608.6,128.3 609.5,127.9 610.4,127.4 611.2,127.6 611.8,128.3 612.4,129.7 612.9,131.8 613.4,134.4 614.0,137.5 614.6,141.2 615.3,145.4 616.0,149.6 616.6,153.7 617.3,157.8 618.0,161.8 618.7,166.0 619.3,170.2 620.0,174.5 620.7,178.9 621.4,182.7 622.0,185.8 622.7,188.4 623.4,190.3 624.1,191.8 625.0,193.0 625.9,193.8 626.9,194.2 628.0,194.4 629.2,194.3 630.4,194.1 631.8,193.6 633.1,193.5 634.5,193.6 635.8,194.1 637.2,195.0 638.5,195.8 639.9,196.6 641.2,197.4 642.6,198.2 644.1,198.7 645.8,199.1 647.6,199.3 649.7,199.2 651.7,199.1 653.7,198.9 655.7,198.6 657.8,198.2 659.8,197.8 661.8,197.4 663.8,196.8 665.9,196.3 667.7,195.5 669.4,194.5 670.9,193.4 672.3,192.1 673.5,190.6 674.7,189.0 675.8,187.3 676.8,185.5 677.7,183.2 678.6,180.6 679.3,177.5 680.0,174.0 680.7,170.2 681.3,166.0 682.0,161.4 682.7,156.4 683.4,151.5 684.0,146.6 684.7,141.7 685.4,136.9 686.1,132.2 686.7,127.6 687.4,123.1 688.1,118.7 688.9,114.9 689.7,111.9 690.6,109.5 691.7,107.8 692.7,106.2 693.7,105.0 694.7,103.9 695.7,103.1 696.6,102.2 697.5,101.1 698.2,99.9 698.9,98.6 699.6,98.2 700.2,98.8 700.9,100.3 701.6,102.7 702.3,105.4 702.9,108.3 703.6,111.5 704.3,114.9 705.0,118.6 705.6,122.5 706.3,126.8 707.0,131.3 707.6,135.5 708.2,139.6 708.7,143.4 709.2,147.0 709.6,150.2 710.1,152.9 710.5,155.2 710.9,156.9 711.3,158.2 711.8,158.9 712.2,159.0 712.7,158.6 713.2,158.0 713.8,157.1 714.4,155.9 715.1,154.5 715.8,153.4 716.4,152.5 717.1,151.9 717.8,151.6 718.5,151.5 719.1,151.7 719.8,152.2 720.5,153.0 721.2,153.9 721.8,154.8 722.5,155.9 723.2,157.0 723.9,158.0 724.8,159.0 725.7,159.9 726.7,160.8 727.7,161.6 728.7,162.3 729.7,162.9 730.8,163.4 731.8,164.2 732.8,165.2 733.8,166.3 734.8,167.7 735.8,168.8 736.8,169.5 737.8,170.0 738.9,170.1 739.9,170.4 740.9,170.9 741.9,171.5 742.9,172.2 743.9,172.9 744.9,173.6 745.9,174.3 747.0,175.0 748.0,175.7 748.9,176.3 749.8,176.8 750.7,177.4 751.5,177.8 752.2,178.2 752.8,178.4 753.3,178.6 753.7,178.8 754.0,178.9 754.1,178.9 755.0,178.9 755.0,336.2" fill="#f97f16" />
<polygon points="71.8,336.2 71.8,266.1 72.1,266.1 72.3,264.4 72.6,260.9 73.1,255.6 73.8,248.6 74.5,242.3 75.4,236.7 76.3,231.8 77.4,227.5 78.5,223.8 79.7,220.6 80.9,218.0 82.3,215.9 83.5,214.2 84.7,212.9 85.8,212.0 86.8,211.5 87.9,211.2 89.1,211.1 90.3,211.2 91.7,211.5 92.9,212.0 93.9,212.7 94.7,213.6 95.4,214.7 96.1,216.4 96.7,218.6 97.4,221.6 98.1,225.1 98.8,228.3 99.4,231.1 100.1,233.5 100.8,235.6 101.5,237.3 102.1,238.7 102.8,239.8 103.5,240.5 104.2,240.6 105.1,240.1 106.0,239.0 107.0,237.3 108.0,235.8 109.0,234.5 110.0,233.5 111.1,232.6 112.2,231.9 113.6,231.5 115.1,231.2 116.8,231.0 118.5,231.0 120.4,231.0 122.3,231.1 124.4,231.2 126.2,231.2 127.9,230.9 129.4,230.4 130.8,229.8 132.1,228.9 133.5,227.9 134.8,226.6 136.2,225.2 137.5,223.8 138.9,222.2 140.2,220.6 141.6,218.9 142.9,217.2 144.3,215.3 145.6,213.4 147.0,211.4 148.2,209.5 149.3,207.6 150.3,205.9 151.2,204.2 151.9,202.6 152.5,201.2 153.0,199.8 153.4,198.5 153.8,196.9 154.2,195.0 154.6,192.8 155.0,190.3 155.6,187.3 156.4,183.8 157.2,179.8 158.3,175.2 159.3,170.4 160.3,165.3 161.3,159.8 162.3,154.1 163.3,148.7 164.3,143.7 165.3,139.0 166.4,134.6 167.3,130.9 168.2,127.9 168.9,125.4 169.6,123.7 170.2,122.1 170.8,120.9 171.4,119.8 171.9,119.0 172.4,118.7 172.9,118.7 173.4,119.2 173.9,120.1 174.4,121.4 175.0,123.2 175.6,125.3 176.3,128.0 177.1,130.6 177.9,133.2 178.8,135.8 179.9,138.4 180.9,141.0 181.9,143.6 182.9,146.2 183.9,148.8 184.9,151.5 185.8,154.4 186.7,157.3 187.6,160.3 188.4,162.7 189.3,164.6 190.1,165.9 190.9,166.6 191.8,167.6 192.7,168.8 193.6,170.2 194.7,171.9 195.7,173.6 196.7,175.5 197.7,177.5 198.7,179.6 199.7,181.7 200.7,183.7 201.7,185.7 202.8,187.7 203.8,189.6 204.7,191.7 205.6,193.7 206.5,195.8 207.2,197.5 207.8,199.0 208.3,200.2 208.6,201.0 209.1,202.0 209.6,203.1 210.3,204.3 211.2,205.6 212.0,207.3 212.9,209.4 213.9,211.8 214.9,214.6 215.9,217.4 216.9,220.4 217.9,223.4 219.0,226.5 220.0,229.5 221.0,232.5 222.0,235.3 223.0,238.1 224.0,240.7 225.0,243.1 226.0,245.4 227.1,247.5 228.2,249.3 229.3,251.0 230.6,252.5 231.9,253.8 233.2,254.9 234.6,255.9 235.9,256.7 237.3,257.3 238.5,257.8 239.7,258.3 240.8,258.7 241.9,259.0 242.9,259.0 243.9,258.7 244.9,258.1 245.9,257.2 246.8,256.2 247.7,255.0 248.4,253.8 249.1,252.4 249.8,250.8 250.4,249.0 251.1,246.9 251.8,244.6 252.5,242.6 253.1,241.0 253.8,239.7 254.5,238.8 255.2,238.0 256.1,237.4 257.0,237.0 258.1,236.7 259.0,235.9 259.7,234.6 260.4,232.8 260.9,230.6 261.5,228.1 262.0,225.3 262.6,222.3 263.3,219.1 263.9,216.9 264.7,215.6 265.5,215.4 266.4,216.1 267.2,216.8 268.1,217.4 268.9,218.0 269.7,218.4 270.4,219.4 271.1,220.8 271.7,222.7 272.3,225.1 272.9,227.4 273.4,229.5 274.1,231.4 274.7,233.3 275.4,234.7 276.0,235.8 276.7,236.4 277.4,236.7 278.1,236.6 279.0,236.1 279.9,235.3 281.0,234.1 282.1,232.9 283.3,231.7 284.5,230.5 285.9,229.2 287.2,228.2 288.6,227.3 289.9,226.7 291.3,226.3 292.6,225.9 294.0,225.7 295.3,225.5 296.7,225.4 298.0,225.4 299.4,225.6 300.7,226.0 302.1,226.6 303.4,227.3 304.8,228.3 306.1,229.4 307.5,230.7 308.8,231.9 310.2,232.9 311.5,233.8 312.9,234.6 314.1,235.0 315.3,235.2 316.4,235.1 317.4,234.7 318.5,234.1 319.7,233.1 320.9,231.9 322.3,230.5 323.5,229.2 324.7,228.1 325.8,227.1 326.8,226.4 327.7,225.3 328.6,223.9 329.3,222.3 330.0,220.3 330.6,217.8 331.2,214.8 331.8,211.2 332.4,207.1 333.0,204.0 333.7,202.0 334.4,201.0 335.2,201.0 335.9,200.0 336.5,197.9 336.9,194.8 337.3,190.6 337.7,185.9 338.1,180.6 338.6,174.8 339.1,168.4 339.6,162.6 340.1,157.3 340.6,152.5 341.1,148.3 341.6,144.6 342.2,141.4 342.8,138.7 343.5,136.4 344.2,134.6 344.8,133.1 345.5,132.0 346.2,131.2 346.8,131.1 347.4,131.7 347.9,133.0 348.4,134.9 348.9,137.0 349.4,139.4 349.9,142.0 350.5,144.8 351.1,147.7 351.7,150.7 352.3,153.9 353.0,157.1 353.7,160.6 354.3,164.3 355.0,168.2 355.7,172.4 356.3,176.3 356.9,180.1 357.5,183.7 358.0,187.0 358.5,190.0 358.9,192.5 359.2,194.6 359.5,196.2 359.7,197.9 360.0,199.5 360.2,201.3 360.4,203.0 360.6,204.9 360.9,206.9 361.2,209.0 361.5,211.2 361.9,213.1 362.4,214.7 363.0,216.0 363.7,216.9 364.4,217.1 365.0,216.6 365.7,215.4 366.4,213.6 367.1,211.6 368.0,209.5 368.9,207.3 370.0,205.0 371.0,203.0 372.0,201.4 373.0,200.2 374.0,199.3 375.0,198.4 376.0,197.5 377.0,196.6 378.1,195.7 379.2,195.0 380.4,194.4 381.6,193.9 383.0,193.6 384.3,193.4 385.7,193.4 387.0,193.5 388.4,193.9 389.7,194.4 391.1,195.0 392.4,195.9 393.8,196.9 394.9,198.0 395.7,199.0 396.3,200.0 396.6,201.0 397.1,202.0 397.8,203.0 398.6,204.1 399.7,205.1 400.8,206.3 402.2,207.8 403.7,209.5 405.4,211.4 406.8,213.3 407.9,215.0 408.7,216.7 409.2,218.2 409.8,219.6 410.4,220.9 411.0,222.0 411.7,223.0 412.4,224.0 413.1,225.2 413.9,226.5 414.7,227.9 415.5,228.5 416.4,228.2 417.2,227.0 418.1,225.1 418.9,223.1 419.7,221.1 420.4,219.0 421.1,217.0 421.8,214.7 422.4,212.2 423.1,209.5 423.8,206.5 424.4,204.1 425.0,202.3 425.5,201.0 426.0,200.3 426.5,199.3 427.0,198.0 427.5,196.4 428.1,194.5 428.7,192.8 429.3,191.1 429.9,189.6 430.6,188.2 431.3,187.1 432.0,186.4 432.8,186.1 433.6,186.0 434.4,185.6 435.1,184.7 435.8,183.4 436.5,181.7 437.1,180.9 437.7,180.9 438.3,181.7 438.9,183.4 439.4,185.4 440.0,187.8 440.5,190.5 441.0,193.5 441.5,196.0 442.0,198.0 442.4,199.6 442.8,200.7 443.2,202.0 443.6,203.5 444.0,205.2 444.5,207.1 444.9,209.6 445.4,212.7 445.9,216.4 446.4,220.7 446.9,224.9 447.4,228.8 447.9,232.6 448.4,236.2 448.9,239.3 449.3,242.0 449.8,244.1 450.3,245.7 450.9,247.0 451.5,247.9 452.3,248.5 453.2,248.6 454.1,248.6 455.0,248.4 456.0,248.0 457.0,247.4 458.1,247.3 459.3,247.6 460.5,248.4 461.9,249.6 463.3,250.7 464.8,251.6 466.4,252.3 468.1,252.8 469.8,253.4 471.3,254.2 472.7,255.2 474.1,256.2 475.4,257.3 476.8,258.6 478.1,259.9 479.5,261.3 480.8,262.7 482.2,264.1 483.5,265.4 484.9,266.8 486.2,268.1 487.6,269.5 488.9,270.9 490.3,272.3 491.6,273.6 493.0,274.9 494.3,276.1 495.6,277.3 496.9,278.4 498.2,279.3 499.4,280.1 500.7,280.8 501.7,280.8 502.6,280.2 503.4,278.9 504.0,276.9 504.6,274.4 505.3,271.3 505.9,267.6 506.6,263.4 507.3,259.0 507.9,254.4 508.6,249.7 509.3,244.7 510.0,240.0 510.6,235.4 511.3,230.9 512.0,226.6 512.7,222.8 513.5,219.5 514.3,216.7 515.2,214.4 516.1,212.5 516.9,211.1 517.8,210.0 518.7,209.3 519.5,209.1 520.3,209.4 521.0,210.0 521.7,211.2 522.4,212.5 523.0,214.1 523.7,215.9 524.4,218.0 525.1,220.4 525.8,223.1 526.6,226.2 527.5,229.5 528.3,233.1 529.1,236.8 529.9,240.7 530.7,244.7 531.5,248.8 532.2,253.0 532.9,257.2 533.6,261.5 534.2,265.4 534.8,268.8 535.4,271.8 536.0,274.3 536.5,276.3 537.1,277.7 537.6,278.6 538.1,279.0 538.7,278.9 539.4,278.5 540.1,277.7 540.9,276.5 541.7,275.1 542.4,273.6 543.1,271.9 543.8,270.0 544.5,268.1 545.4,266.1 546.3,264.1 547.4,262.0 548.4,260.1 549.4,258.4 550.4,256.7 551.4,255.3 552.5,253.8 553.7,252.5 554.9,251.3 556.3,250.1 557.7,248.9 559.2,247.7 560.9,246.4 562.6,245.0 564.2,243.7 565.9,242.5 567.6,241.3 569.3,240.3 571.0,239.1 572.7,238.0 574.4,236.7 576.1,235.4 577.7,234.3 579.2,233.3 580.6,232.5 581.9,231.8 583.2,231.2 584.6,230.8 585.9,230.6 587.3,230.5 588.5,230.1 589.5,229.6 590.3,228.9 591.0,227.9 591.7,226.6 592.3,224.8 593.0,222.7 593.7,220.2 594.4,217.6 595.0,214.9 595.7,212.2 596.4,209.4 597.0,207.0 597.5,205.1 597.9,203.6 598.3,202.6 598.6,201.8 599.0,201.1 599.3,200.6 599.6,200.3 600.0,199.3 600.4,197.4 600.8,194.8 601.3,191.4 601.8,188.2 602.3,185.0 602.8,182.0 603.4,179.2 604.0,176.7 604.6,174.8 605.2,173.2 605.9,172.1 606.6,171.2 607.5,170.4 608.4,169.7 609.4,169.2 610.3,169.0 611.0,169.2 611.6,169.7 612.1,170.7 612.6,172.3 613.1,174.6 613.6,177.5 614.2,181.2 614.7,184.8 615.2,188.2 615.7,191.5 616.2,194.6 616.6,197.2 617.0,199.1 617.3,200.5 617.5,201.2 617.8,202.5 618.2,204.2 618.6,206.4 619.1,209.1 619.6,212.0 620.0,215.2 620.5,218.6 621.0,222.3 621.5,225.6 621.9,228.5 622.4,231.0 622.9,233.1 623.5,234.8 624.1,236.1 624.9,237.0 625.8,237.6 626.8,237.8 627.9,237.7 629.1,237.2 630.5,236.3 631.8,236.0 633.2,236.1 634.5,236.7 635.9,237.8 637.3,238.7 638.8,239.5 640.4,240.1 642.1,240.6 643.9,241.0 645.7,241.1 647.6,241.1 649.7,240.9 651.7,240.7 653.7,240.5 655.7,240.2 657.8,239.8 659.7,239.4 661.6,239.0 663.4,238.4 665.1,237.8 666.7,237.0 668.2,236.1 669.6,235.1 670.9,234.0 672.2,232.7 673.3,231.4 674.4,230.1 675.5,228.6 676.4,227.0 677.2,225.0 678.0,222.8 678.7,220.4 679.3,217.8 679.9,215.0 680.5,212.0 681.0,208.9 681.6,206.5 682.3,204.8 683.0,203.8 683.9,203.6 684.6,201.8 685.3,198.6 685.9,193.8 686.4,187.6 686.9,181.8 687.4,176.6 687.9,171.9 688.4,167.7 688.9,163.9 689.3,160.7 689.8,157.9 690.3,155.5 690.9,153.4 691.5,151.5 692.3,149.8 693.2,148.3 694.0,147.0 694.8,145.8 695.5,144.7 696.2,143.7 696.9,142.7 697.5,141.4 698.2,140.1 698.9,138.6 699.6,138.0 700.2,138.2 700.9,139.3 701.6,141.2 702.3,143.4 702.9,145.9 703.6,148.6 704.3,151.5 705.0,155.0 705.6,159.1 706.3,163.7 707.0,168.8 707.7,173.7 708.3,178.5 709.0,183.1 709.7,187.5 710.4,191.0 711.0,193.5 711.7,195.1 712.4,195.8 713.2,196.3 714.2,196.7 715.4,197.0 716.8,197.1 718.0,197.3 719.1,197.7 720.1,198.2 721.0,198.7 721.7,199.3 722.3,199.7 722.7,200.1 723.0,200.4 723.4,200.8 724.0,201.3 724.7,202.0 725.6,202.8 726.5,203.6 727.4,204.6 728.4,205.6 729.4,206.7 730.5,207.8 731.7,208.7 732.9,209.6 734.3,210.4 735.7,211.1 737.2,211.7 738.8,212.2 740.6,212.7 742.2,213.2 743.7,213.7 745.1,214.2 746.5,214.8 747.7,215.6 748.9,216.6 750.0,217.7 751.0,219.0 751.9,220.1 752.7,221.2 753.3,222.2 753.9,223.0 754.3,223.7 754.6,224.1 754.7,224.3 755.0,224.3 755.0,336.2" fill="#0a1e9e" />
<polygon points="71.8,336.2 71.8,269.8 72.1,269.8 72.3,268.1 72.6,264.6 73.1,259.3 73.8,252.3 74.5,246.0 75.4,240.4 76.3,235.5 77.4,231.2 78.5,227.5 79.7,224.3 80.9,221.7 82.3,219.6 83.5,217.9 84.7,216.6 85.8,215.7 86.8,215.2 87.9,214.9 89.1,214.8 90.3,214.9 91.7,215.2 92.9,215.7 93.9,216.4 94.7,217.3 95.4,218.4 96.1,220.1 96.7,222.3 97.4,225.3 98.1,228.8 98.8,232.0 99.4,234.8 100.1,237.2 100.8,239.3 101.5,241.0 102.1,242.4 102.8,243.5 103.5,244.2 104.2,244.3 105.1,243.8 106.0,242.7 107.0,241.0 108.0,239.5 109.0,238.2 110.0,237.2 111.1,236.3 112.2,235.6 113.6,235.2 115.1,234.9 116.8,234.7 118.5,234.7 120.4,234.7 122.3,234.8 124.4,234.9 126.2,234.9 127.9,234.6 129.4,234.1 130.8,233.5 132.1,232.6 133.5,231.6 134.8,230.3 136.2,228.9 137.5,227.5 138.9,225.9 140.2,224.3 141.6,222.6 142.9,220.9 144.3,219.0 145.6,217.1 147.0,215.1 148.2,213.2 149.3,211.3 150.3,209.6 151.2,207.9 151.9,206.3 152.5,204.9 153.0,203.5 153.4,202.2 153.8,200.6 154.2,198.7 154.6,196.5 155.0,194.0 155.6,191.0 156.4,187.5 157.2,183.5 158.3,178.9 159.3,174.1 160.3,169.0 161.3,163.5 162.3,157.8 163.3,152.4 164.3,147.4 165.3,142.7 166.4,138.3 167.3,134.6 168.2,131.6 168.9,129.1 169.6,127.4 170.2,125.8 170.8,124.6 171.4,123.5 171.9,122.7 172.4,122.4 172.9,122.4 173.4,122.9 173.9,123.8 174.4,125.1 175.0,126.9 175.6,129.0 176.3,131.7 177.1,134.3 177.9,136.9 178.8,139.5 179.9,142.1 180.9,144.7 181.9,147.3 182.9,149.9 183.9,152.5 184.9,155.2 185.8,158.1 186.7,161.0 187.6,164.0 188.4,166.4 189.3,168.3 190.1,169.6 190.9,170.3 191.8,171.3 192.7,172.5 193.6,173.9 194.7,175.6 195.7,177.3 196.7,179.2 197.7,181.2 198.7,183.3 199.7,185.4 200.7,187.4 201.7,189.4 202.8,191.4 203.8,193.3 204.7,195.4 205.6,197.4 206.5,199.5 207.2,201.2 207.8,202.7 208.3,203.9 208.6,204.7 209.1,205.7 209.6,206.8 210.3,208.0 211.2,209.3 212.0,211.0 212.9,213.1 213.9,215.5 214.9,218.3 215.9,221.1 216.9,224.1 217.9,227.1 219.0,230.2 220.0,233.2 221.0,236.2 222.0,239.0 223.0,241.8 224.0,244.4 225.0,246.8 226.0,249.1 227.1,251.2 228.2,253.0 229.3,254.7 230.6,256.2 231.9,257.5 233.2,258.6 234.6,259.6 235.9,260.4 237.3,261.0 238.5,261.5 239.7,262.0 240.8,262.4 241.9,262.7 242.9,262.7 243.9,262.4 244.9,261.8 245.9,260.9 246.8,259.9 247.7,258.7 248.4,257.5 249.1,256.1 249.8,254.5 250.4,252.7 251.1,250.6 251.8,248.3 252.5,246.3 253.1,244.7 253.8,243.4 254.5,242.5 255.2,241.7 256.1,241.1 257.0,240.7 258.1,240.4 259.0,239.6 259.7,238.3 260.4,236.5 260.9,234.3 261.5,231.8 262.0,229.0 262.6,226.0 263.3,222.8 263.9,220.6 264.7,219.3 265.5,219.1 266.4,219.8 267.2,220.5 268.1,221.1 268.9,221.7 269.7,222.1 270.4,223.1 271.1,224.5 271.7,226.4 272.3,228.8 272.9,231.1 273.4,233.2 274.1,235.1 274.7,237.0 275.4,238.4 276.0,239.5 276.7,240.1 277.4,240.4 278.1,240.3 279.0,239.8 279.9,239.0 281.0,237.8 282.1,236.6 283.3,235.4 284.5,234.2 285.9,232.9 287.2,231.9 288.6,231.0 289.9,230.4 291.3,230.0 292.6,229.6 294.0,229.4 295.3,229.2 296.7,229.1 298.0,229.1 299.4,229.3 300.7,229.7 302.1,230.3 303.4,231.0 304.8,232.0 306.1,233.1 307.5,234.4 308.8,235.6 310.2,236.6 311.5,237.5 312.9,238.3 314.1,238.7 315.3,238.9 316.4,238.8 317.4,238.4 318.5,237.8 319.7,236.8 320.9,235.6 322.3,234.2 323.5,232.9 324.7,231.8 325.8,230.8 326.8,230.1 327.7,229.0 328.6,227.6 329.3,226.0 330.0,224.0 330.6,221.5 331.2,218.5 331.8,214.9 332.4,210.8 333.0,207.7 333.7,205.7 334.4,204.7 335.2,204.7 335.9,203.7 336.5,201.6 336.9,198.5 337.3,194.3 337.7,189.6 338.1,184.3 338.6,178.5 339.1,172.1 339.6,166.3 340.1,161.0 340.6,156.2 341.1,152.0 341.6,148.3 342.2,145.1 342.8,142.4 343.5,140.1 344.2,138.3 344.8,136.8 345.5,135.7 346.2,134.9 346.8,134.8 347.4,135.4 347.9,136.7 348.4,138.6 348.9,140.7 349.4,143.1 349.9,145.7 350.5,148.5 351.1,151.4 351.7,154.4 352.3,157.6 353.0,160.8 353.7,164.3 354.3,168.0 355.0,171.9 355.7,176.1 356.3,180.0 356.9,183.8 357.5,187.4 358.0,190.7 358.5,193.7 358.9,196.2 359.2,198.3 359.5,199.9 359.7,201.6 360.0,203.2 360.2,205.0 360.4,206.7 360.6,208.6 360.9,210.6 361.2,212.7 361.5,214.9 361.9,216.8 362.4,218.4 363.0,219.7 363.7,220.6 364.4,220.8 365.0,220.3 365.7,219.1 366.4,217.3 367.1,215.3 368.0,213.2 368.9,211.0 370.0,208.7 371.0,206.7 372.0,205.1 373.0,203.9 374.0,203.0 375.0,202.1 376.0,201.2 377.0,200.3 378.1,199.4 379.2,198.7 380.4,198.1 381.6,197.6 383.0,197.3 384.3,197.1 385.7,197.1 387.0,197.2 388.4,197.6 389.7,198.1 391.1,198.7 392.4,199.6 393.8,200.6 394.9,201.7 395.7,202.7 396.3,203.7 396.6,204.7 397.1,205.7 397.8,206.7 398.6,207.8 399.7,208.8 400.8,210.0 402.2,211.5 403.7,213.2 405.4,215.1 406.8,217.0 407.9,218.7 408.7,220.4 409.2,221.9 409.8,223.3 410.4,224.6 411.0,225.7 411.7,226.7 412.4,227.7 413.1,228.9 413.9,230.2 414.7,231.6 415.5,232.2 416.4,231.9 417.2,230.7 418.1,228.8 418.9,226.8 419.7,224.8 420.4,222.7 421.1,220.7 421.8,218.4 422.4,215.9 423.1,213.2 423.8,210.2 424.4,207.8 425.0,206.0 425.5,204.7 426.0,204.0 426.5,203.0 427.0,201.7 427.5,200.1 428.1,198.2 428.7,196.5 429.3,194.8 429.9,193.3 430.6,191.9 431.3,190.8 432.0,190.1 432.8,189.8 433.6,189.7 434.4,189.3 435.1,188.4 435.8,187.1 436.5,185.4 437.1,184.6 437.7,184.6 438.3,185.4 438.9,187.1 439.4,189.1 440.0,191.5 440.5,194.2 441.0,197.2 441.5,199.7 442.0,201.7 442.4,203.3 442.8,204.4 443.2,205.7 443.6,207.2 444.0,208.9 444.5,210.8 444.9,213.3 445.4,216.4 445.9,220.1 446.4,224.4 446.9,228.6 447.4,232.5 447.9,236.3 448.4,239.9 448.9,243.0 449.3,245.7 449.8,247.8 450.3,249.4 450.9,250.7 451.5,251.6 452.3,252.2 453.2,252.3 454.1,252.3 455.0,252.1 456.0,251.7 457.0,251.1 458.1,251.0 459.3,251.3 460.5,252.1 461.9,253.3 463.3,254.4 464.8,255.3 466.4,256.0 468.1,256.5 469.8,257.1 471.3,257.9 472.7,258.9 474.1,259.9 475.4,261.0 476.8,262.3 478.1,263.6 479.5,265.0 480.8,266.4 482.2,267.8 483.5,269.1 484.9,270.5 486.2,271.8 487.6,273.2 488.9,274.6 490.3,276.0 491.6,277.3 493.0,278.6 494.3,279.8 495.6,281.0 496.9,282.1 498.2,283.0 499.4,283.8 500.7,284.5 501.7,284.5 502.6,283.9 503.4,282.6 504.0,280.6 504.6,278.1 505.3,275.0 505.9,271.3 506.6,267.1 507.3,262.7 507.9,258.1 508.6,253.4 509.3,248.4 510.0,243.7 510.6,239.1 511.3,234.6 512.0,230.3 512.7,226.5 513.5,223.2 514.3,220.4 515.2,218.1 516.1,216.2 516.9,214.8 517.8,213.7 518.7,213.0 519.5,212.8 520.3,213.1 521.0,213.7 521.7,214.9 522.4,216.2 523.0,217.8 523.7,219.6 524.4,221.7 525.1,224.1 525.8,226.8 526.6,229.9 527.5,233.2 528.3,236.8 529.1,240.5 529.9,244.4 530.7,248.4 531.5,252.5 532.2,256.7 532.9,260.9 533.6,265.2 534.2,269.1 534.8,272.5 535.4,275.5 536.0,278.0 536.5,280.0 537.1,281.4 537.6,282.3 538.1,282.7 538.7,282.6 539.4,282.2 540.1,281.4 540.9,280.2 541.7,278.8 542.4,277.3 543.1,275.6 543.8,273.7 544.5,271.8 545.4,269.8 546.3,267.8 547.4,265.7 548.4,263.8 549.4,262.1 550.4,260.4 551.4,259.0 552.5,257.5 553.7,256.2 554.9,255.0 556.3,253.8 557.7,252.6 559.2,251.4 560.9,250.1 562.6,248.7 564.2,247.4 565.9,246.2 567.6,245.0 569.3,244.0 571.0,242.8 572.7,241.7 574.4,240.4 576.1,239.1 577.7,238.0 579.2,237.0 580.6,236.2 581.9,235.5 583.2,234.9 584.6,234.5 585.9,234.3 587.3,234.2 588.5,233.8 589.5,233.3 590.3,232.6 591.0,231.6 591.7,230.3 592.3,228.5 593.0,226.4 593.7,223.9 594.4,221.3 595.0,218.6 595.7,215.9 596.4,213.1 597.0,210.7 597.5,208.8 597.9,207.3 598.3,206.3 598.6,205.5 599.0,204.8 599.3,204.3 599.6,204.0 600.0,203.0 600.4,201.1 600.8,198.5 601.3,195.1 601.8,191.9 602.3,188.7 602.8,185.7 603.4,182.9 604.0,180.4 604.6,178.5 605.2,176.9 605.9,175.8 606.6,174.9 607.5,174.1 608.4,173.4 609.4,172.9 610.3,172.7 611.0,172.9 611.6,173.4 612.1,174.4 612.6,176.0 613.1,178.3 613.6,181.2 614.2,184.9 614.7,188.5 615.2,191.9 615.7,195.2 616.2,198.3 616.6,200.9 617.0,202.8 617.3,204.2 617.5,204.9 617.8,206.2 618.2,207.9 618.6,210.1 619.1,212.8 619.6,215.7 620.0,218.9 620.5,222.3 621.0,226.0 621.5,229.3 621.9,232.2 622.4,234.7 622.9,236.8 623.5,238.5 624.1,239.8 624.9,240.7 625.8,241.3 626.8,241.5 627.9,241.4 629.1,240.9 630.5,240.0 631.8,239.7 633.2,239.8 634.5,240.4 635.9,241.5 637.3,242.4 638.8,243.2 640.4,243.8 642.1,244.3 643.9,244.7 645.7,244.8 647.6,244.8 649.7,244.6 651.7,244.4 653.7,244.2 655.7,243.9 657.8,243.5 659.7,243.1 661.6,242.7 663.4,242.1 665.1,241.5 666.7,240.7 668.2,239.8 669.6,238.8 670.9,237.7 672.2,236.4 673.3,235.1 674.4,233.8 675.5,232.3 676.4,230.7 677.2,228.7 678.0,226.5 678.7,224.1 679.3,221.5 679.9,218.7 680.5,215.7 681.0,212.6 681.6,210.2 682.3,208.5 683.0,207.5 683.9,207.3 684.6,205.5 685.3,202.3 685.9,197.5 686.4,191.3 686.9,185.5 687.4,180.3 687.9,175.6 688.4,171.4 688.9,167.6 689.3,164.4 689.8,161.6 690.3,159.2 690.9,157.1 691.5,155.2 692.3,153.5 693.2,152.0 694.0,150.7 694.8,149.5 695.5,148.4 696.2,147.4 696.9,146.4 697.5,145.1 698.2,143.8 698.9,142.3 699.6,141.7 700.2,141.9 700.9,143.0 701.6,144.9 702.3,147.1 702.9,149.6 703.6,152.3 704.3,155.2 705.0,158.7 705.6,162.8 706.3,167.4 707.0,172.5 707.7,177.4 708.3,182.2 709.0,186.8 709.7,191.2 710.4,194.7 711.0,197.2 711.7,198.8 712.4,199.5 713.2,200.0 714.2,200.4 715.4,200.7 716.8,200.8 718.0,201.0 719.1,201.4 720.1,201.9 721.0,202.4 721.7,203.0 722.3,203.4 722.7,203.8 723.0,204.1 723.4,204.5 724.0,205.0 724.7,205.7 725.6,206.5 726.5,207.3 727.4,208.3 728.4,209.3 729.4,210.4 730.5,211.5 731.7,212.4 732.9,213.3 734.3,214.1 735.7,214.8 737.2,215.4 738.8,215.9 740.6,216.4 742.2,216.9 743.7,217.4 745.1,217.9 746.5,218.5 747.7,219.3 748.9,220.3 750.0,221.4 751.0,222.7 751.9,223.8 752.7,224.9 753.3,225.9 753.9,226.7 754.3,227.4 754.6,227.8 754.7,228.0 755.0,228.0 755.0,336.2" fill="#41a8ea" />
<polygon points="71.8,336.2 71.8,280.9 72.1,280.9 72.4,279.1 72.9,275.4 73.6,269.9 74.7,262.6 75.8,256.1 77.0,250.3 78.2,245.3 79.6,241.1 80.8,237.7 82.0,235.3 83.1,233.6 84.1,232.9 85.1,232.7 86.1,233.1 87.1,234.2 88.2,235.8 89.2,237.7 90.2,239.8 91.2,242.1 92.2,244.6 93.2,247.8 94.2,251.7 95.2,256.2 96.3,261.4 97.2,266.6 98.0,271.9 98.8,277.2 99.5,282.5 100.2,287.0 100.8,290.9 101.5,293.9 102.1,296.2 102.8,298.0 103.4,299.3 104.1,300.1 104.8,300.5 105.8,300.7 107.1,300.8 108.8,300.8 110.9,300.6 113.2,300.4 115.9,300.2 119.0,299.9 122.3,299.5 125.7,299.2 129.1,298.8 132.5,298.5 135.8,298.1 139.0,297.8 142.1,297.5 145.0,297.3 147.7,297.1 149.9,296.9 151.8,296.7 153.2,296.4 154.2,296.2 155.2,295.2 156.2,293.6 157.2,291.2 158.3,288.2 159.3,285.2 160.3,282.3 161.3,279.4 162.3,276.5 163.3,273.9 164.3,271.5 165.3,269.4 166.4,267.5 167.3,265.9 168.3,264.6 169.2,263.5 170.1,262.8 170.9,262.5 171.8,262.7 172.6,263.4 173.4,264.5 174.1,266.1 174.8,268.2 175.3,270.7 175.8,273.7 176.4,276.1 177.0,277.9 177.8,279.1 178.7,279.8 179.6,280.6 180.6,281.6 181.5,282.7 182.6,283.9 183.6,285.5 184.6,287.3 185.6,289.3 186.6,291.7 187.6,293.6 188.6,295.2 189.6,296.3 190.6,297.0 191.9,297.6 193.4,298.1 195.1,298.5 197.2,298.8 199.4,299.1 201.7,299.4 204.2,299.7 207.0,299.9 209.7,300.2 212.3,300.5 215.0,300.9 217.8,301.4 220.5,301.8 223.2,302.1 225.9,302.3 228.5,302.4 231.1,302.5 233.4,302.5 235.6,302.5 237.7,302.4 239.5,302.2 241.2,301.9 242.7,301.6 244.1,301.3 245.3,300.6 246.3,299.5 247.1,298.1 247.8,296.3 248.5,294.0 249.2,291.4 250.0,288.3 250.8,284.8 251.6,281.9 252.5,279.8 253.3,278.3 254.2,277.6 255.1,277.0 256.0,276.7 257.0,276.6 258.1,276.7 259.0,276.1 259.9,274.8 260.6,272.7 261.3,270.0 261.9,267.5 262.5,265.3 263.1,263.3 263.6,261.7 264.2,260.8 264.8,260.6 265.4,261.1 266.1,262.4 266.8,263.8 267.6,265.4 268.3,267.2 269.2,269.2 269.9,271.4 270.7,273.8 271.4,276.5 272.1,279.4 272.8,282.2 273.4,284.9 274.1,287.5 274.7,290.0 275.5,292.4 276.3,294.6 277.2,296.6 278.3,298.4 279.3,299.9 280.3,300.9 281.3,301.6 282.3,301.9 283.6,302.0 285.1,301.9 286.8,301.8 288.9,301.4 291.1,301.2 293.4,301.1 295.9,301.0 298.6,301.0 301.5,301.1 304.6,301.2 307.8,301.4 311.1,301.7 314.3,301.9 317.1,302.0 319.7,302.1 322.1,302.0 324.1,301.7 325.8,301.1 327.1,300.2 328.2,299.0 329.2,297.3 330.2,294.9 331.2,291.9 332.2,288.2 333.2,283.6 334.2,278.0 335.2,271.3 336.3,263.7 337.3,256.9 338.3,251.1 339.3,246.1 340.3,242.0 341.3,238.6 342.4,236.0 343.5,234.0 344.7,232.7 345.8,232.2 346.8,232.3 347.7,233.1 348.6,234.7 349.5,236.6 350.4,238.9 351.4,241.6 352.5,244.7 353.5,248.0 354.5,251.3 355.5,254.7 356.5,258.3 357.4,262.1 358.3,266.1 359.0,270.3 359.7,274.7 360.4,278.9 361.0,282.9 361.7,286.7 362.4,290.2 363.1,293.3 363.7,295.9 364.4,297.9 365.1,299.6 365.8,300.9 366.7,301.9 367.6,302.6 368.6,303.1 370.2,303.3 372.4,303.4 375.2,303.2 378.5,302.9 381.9,302.7 385.3,302.4 388.7,302.2 392.0,302.1 395.2,301.9 398.3,301.9 401.1,301.8 403.9,301.8 406.0,301.9 407.6,302.0 408.7,302.1 409.2,302.4 409.9,302.5 410.6,302.5 411.5,302.3 412.5,302.0 413.4,301.6 414.3,301.0 415.0,300.2 415.7,299.3 416.4,297.7 417.3,295.5 418.2,292.6 419.3,289.0 420.3,285.5 421.3,281.9 422.3,278.4 423.3,274.9 424.3,271.7 425.2,268.7 426.1,265.9 427.0,263.4 427.9,261.4 428.9,259.8 430.0,258.7 431.2,258.1 432.2,257.2 433.1,256.1 433.9,254.8 434.6,253.3 435.3,251.8 435.9,250.2 436.6,248.7 437.3,247.0 438.0,246.2 438.6,246.3 439.3,247.1 440.0,248.8 440.7,251.0 441.3,253.5 442.0,256.6 442.7,260.0 443.4,263.9 444.0,268.1 444.7,272.8 445.4,277.9 446.1,282.7 446.7,287.4 447.4,291.9 448.1,296.2 448.8,299.8 449.4,302.7 450.1,305.1 450.8,306.7 451.5,308.2 452.4,309.4 453.3,310.4 454.3,311.2 455.6,311.8 457.1,312.4 458.8,312.8 460.9,313.0 463.2,313.3 465.9,313.6 469.0,313.9 472.3,314.2 475.7,314.5 479.1,314.8 482.5,315.0 485.8,315.2 488.9,315.4 491.6,315.5 493.9,315.7 496.0,315.9 497.7,315.7 499.1,315.3 500.3,314.6 501.2,313.6 502.0,312.3 502.7,310.7 503.4,308.8 504.0,306.7 504.6,304.0 505.3,300.9 505.9,297.3 506.6,293.2 507.3,288.7 507.9,284.0 508.6,279.0 509.3,273.7 510.0,268.5 510.6,263.6 511.3,259.0 512.0,254.5 512.7,250.3 513.3,246.3 514.0,242.7 514.7,239.2 515.4,236.2 516.0,233.6 516.7,231.5 517.4,229.8 518.0,228.3 518.6,227.2 519.2,226.3 519.8,225.7 520.4,225.5 521.0,225.5 521.6,225.9 522.3,226.6 523.0,227.7 523.8,229.0 524.6,230.7 525.5,232.6 526.4,235.0 527.3,237.7 528.2,240.8 529.2,244.3 530.1,248.1 530.9,252.1 531.7,256.5 532.4,261.2 533.1,266.0 533.8,271.0 534.5,276.1 535.2,281.4 535.8,286.4 536.4,291.0 537.0,295.4 537.6,299.5 538.1,302.6 538.7,304.9 539.2,306.3 539.7,306.9 540.2,307.3 540.7,307.6 541.1,307.8 541.5,307.9 542.3,307.8 543.5,307.6 545.1,307.1 547.2,306.5 549.2,305.9 551.2,305.5 553.2,305.1 555.3,304.9 557.6,304.7 560.3,304.5 563.4,304.3 566.7,304.2 569.8,304.0 572.5,303.7 574.8,303.2 576.9,302.7 578.9,302.2 580.9,301.8 582.9,301.5 585.0,301.3 586.7,300.8 588.2,300.2 589.5,299.3 590.5,298.2 591.5,296.8 592.4,295.0 593.3,292.9 594.2,290.5 595.0,287.9 595.9,285.1 596.7,282.2 597.6,279.1 598.4,275.8 599.2,272.4 600.0,268.7 600.8,264.9 601.6,261.8 602.5,259.6 603.3,258.1 604.2,257.5 605.1,256.7 606.0,256.0 607.0,255.2 608.1,254.3 609.0,253.2 609.9,251.9 610.6,250.5 611.3,248.9 612.0,248.0 612.6,247.9 613.3,248.5 614.0,249.8 614.7,251.5 615.4,253.5 616.2,255.8 617.0,258.5 617.8,261.5 618.5,264.8 619.2,268.4 619.9,272.4 620.6,276.3 621.2,280.1 621.9,283.8 622.6,287.4 623.3,290.5 623.9,293.2 624.6,295.3 625.3,296.9 626.1,298.2 627.0,299.1 628.1,299.6 629.3,299.8 630.9,299.9 632.8,299.9 635.1,299.8 637.9,299.5 640.5,299.3 643.2,299.1 645.9,299.0 648.6,298.8 651.4,298.5 654.1,298.3 656.8,297.9 659.5,297.6 662.1,297.3 664.6,297.1 667.0,296.9 669.4,296.9 671.4,296.8 673.1,296.6 674.4,296.3 675.5,296.0 676.4,295.2 677.2,294.0 678.0,292.3 678.7,290.1 679.4,287.6 680.1,284.9 680.9,281.8 681.7,278.5 682.5,274.7 683.4,270.4 684.2,265.7 685.1,260.5 686.0,255.9 686.8,251.7 687.7,248.1 688.6,245.1 689.4,242.6 690.3,240.9 691.1,239.9 692.0,239.5 692.8,238.9 693.6,238.0 694.4,237.0 695.2,235.7 696.0,234.3 696.8,232.8 697.5,231.2 698.3,229.4 699.0,228.4 699.7,228.3 700.3,229.0 700.9,230.6 701.5,232.4 702.1,234.4 702.6,236.6 703.2,239.0 703.8,241.8 704.4,244.8 705.0,248.2 705.7,252.0 706.4,255.9 707.0,260.1 707.7,264.4 708.4,269.0 709.1,273.4 709.7,277.7 710.4,281.9 711.0,285.9 711.7,289.2 712.3,291.7 713.0,293.6 713.7,294.7 714.5,295.6 715.3,296.4 716.2,297.0 717.3,297.3 718.6,297.6 720.3,297.7 722.3,297.8 724.7,297.6 727.1,297.6 729.6,297.7 732.2,297.8 734.9,298.1 737.6,298.3 740.4,298.5 743.1,298.7 745.8,298.8 748.1,299.0 750.0,299.3 751.6,299.5 752.9,299.8 753.8,300.1 754.4,300.2 754.7,300.3 755.0,300.3 755.0,336.2" fill="#a8d60a" />
<polygon points="71.8,336.2 71.8,294.4 72.1,294.4 72.4,292.8 72.9,289.6 73.6,284.8 74.7,278.4 75.7,272.6 76.7,267.3 77.7,262.5 78.7,258.3 79.8,254.7 81.0,251.9 82.2,249.8 83.6,248.4 84.8,247.7 86.0,247.8 87.1,248.6 88.2,250.2 89.2,252.3 90.2,254.7 91.2,257.7 92.2,261.1 93.2,265.0 94.2,269.5 95.2,274.6 96.3,280.2 97.2,285.6 98.0,290.6 98.8,295.3 99.5,299.8 100.2,303.6 100.8,306.8 101.5,309.3 102.1,311.2 102.8,312.9 103.4,314.2 104.1,315.3 104.8,316.1 108.3,316.8 114.7,317.3 124.0,317.7 136.2,317.9 145.5,317.5 152.1,316.3 155.9,314.5 156.9,312.0 157.9,309.4 158.9,306.7 159.9,304.0 161.0,301.1 162.0,298.4 163.0,295.7 164.0,293.0 165.0,290.5 166.0,288.3 167.0,286.7 168.0,285.5 169.1,284.7 170.0,284.1 170.8,283.8 171.6,283.7 172.3,283.7 173.0,284.4 173.6,285.6 174.3,287.4 175.0,289.8 175.7,292.0 176.3,293.8 177.0,295.4 177.7,296.7 178.4,298.0 179.3,299.2 180.2,300.5 181.2,301.6 182.2,303.1 183.2,304.8 184.2,306.8 185.3,309.0 186.3,311.0 187.3,312.8 188.3,314.4 189.3,315.7 193.3,316.6 200.4,317.3 210.5,317.6 223.7,317.6 233.7,317.3 240.6,316.6 244.4,315.6 245.1,314.2 245.8,312.6 246.7,310.8 247.6,308.7 248.6,306.4 249.5,304.0 250.4,301.5 251.1,298.8 251.8,296.0 252.6,293.8 253.4,292.3 254.3,291.4 255.4,291.3 256.4,290.7 257.4,289.8 258.4,288.6 259.4,286.9 260.4,284.8 261.3,282.2 262.2,279.1 263.1,275.5 263.9,273.2 264.7,272.2 265.4,272.4 266.1,274.0 266.8,275.8 267.6,277.8 268.3,279.9 269.2,282.3 269.9,284.7 270.7,287.3 271.4,290.1 272.1,293.0 272.8,295.7 273.4,298.4 274.1,301.0 274.7,303.5 275.5,305.8 276.3,308.1 277.2,310.2 278.3,312.2 279.2,313.8 280.1,315.0 280.8,315.9 281.5,316.4 284.8,316.9 290.7,317.2 299.2,317.6 310.3,317.9 318.8,317.4 324.7,316.3 328.0,314.5 328.7,312.0 329.4,309.4 330.0,306.9 330.7,304.3 331.4,301.7 332.1,298.3 333.0,294.1 333.9,289.2 334.9,283.5 335.9,278.0 336.9,272.7 337.9,267.5 339.0,262.5 340.0,258.3 341.0,254.7 342.0,251.8 343.0,249.6 343.9,247.9 344.8,246.6 345.5,245.8 346.2,245.4 346.9,245.4 347.5,245.8 348.2,246.5 348.9,247.6 349.6,249.2 350.5,251.1 351.4,253.6 352.5,256.5 353.5,259.9 354.5,263.8 355.5,268.1 356.5,273.0 357.4,277.8 358.3,282.4 359.0,287.0 359.7,291.4 360.4,295.4 361.0,298.9 361.7,302.1 362.4,304.8 363.1,307.3 364.0,309.5 364.9,311.5 365.9,313.3 366.8,314.7 367.7,315.8 368.4,316.4 369.1,316.6 372.0,316.8 377.0,316.9 384.3,316.9 393.7,316.9 401.3,316.9 406.9,317.1 410.7,317.4 412.6,317.7 414.2,317.4 415.4,316.3 416.4,314.5 417.1,312.0 417.8,309.1 418.7,305.8 419.6,302.0 420.6,297.9 421.6,293.7 422.6,289.4 423.6,285.2 424.7,280.9 425.7,277.1 426.7,273.7 427.7,270.9 428.7,268.5 429.7,266.7 430.7,265.5 431.7,264.8 432.8,264.6 433.7,263.9 434.6,262.7 435.3,260.8 436.0,258.4 436.6,256.3 437.2,254.7 437.8,253.4 438.3,252.6 438.8,252.3 439.3,252.7 439.8,253.6 440.3,255.2 440.8,257.0 441.4,259.2 442.0,261.8 442.7,264.7 443.4,268.1 444.0,272.1 444.7,276.6 445.4,281.8 446.1,286.7 446.7,291.4 447.4,295.9 448.1,300.1 448.8,303.8 449.4,306.9 450.1,309.4 450.8,311.2 451.5,312.9 452.1,314.2 452.8,315.3 453.5,316.1 456.9,316.8 463.2,317.3 472.2,317.7 484.0,317.9 493.0,317.5 499.3,316.5 502.7,314.8 503.4,312.6 504.1,309.8 504.7,306.6 505.4,302.9 506.1,298.8 506.8,294.3 507.4,289.3 508.1,284.0 508.8,278.3 509.5,272.7 510.1,267.5 510.8,262.4 511.5,257.5 512.2,253.1 512.8,249.0 513.5,245.2 514.2,241.9 514.9,238.9 515.5,236.3 516.2,234.0 516.9,232.1 517.6,230.6 518.2,229.4 518.9,228.5 519.6,227.9 520.3,227.6 520.9,227.6 521.6,227.9 522.3,228.6 523.0,229.5 523.7,230.8 524.5,232.3 525.3,234.2 526.1,236.4 527.0,238.9 527.8,241.8 528.7,245.0 529.5,248.6 530.3,252.7 531.0,257.2 531.7,262.2 532.4,267.3 533.0,272.6 533.7,278.0 534.4,283.6 535.0,288.7 535.6,293.3 536.1,297.3 536.6,300.9 537.1,304.1 537.6,306.8 538.1,309.2 538.6,311.2 539.2,312.9 539.8,314.3 540.4,315.4 541.1,316.2 544.5,316.8 550.8,317.3 559.8,317.6 571.6,317.7 580.6,317.3 586.9,316.5 590.3,315.2 591.0,313.4 591.8,311.5 592.6,309.3 593.5,307.0 594.6,304.6 595.5,301.8 596.4,298.6 597.1,295.2 597.8,291.4 598.5,287.8 599.2,284.3 600.0,281.0 600.8,277.8 601.6,275.1 602.5,273.0 603.3,271.3 604.2,270.2 605.0,269.3 605.8,268.4 606.5,267.7 607.2,267.2 607.9,266.5 608.5,265.6 609.2,264.6 609.9,263.5 610.5,262.5 611.1,261.7 611.6,261.1 612.1,260.6 612.6,260.5 613.1,260.8 613.6,261.5 614.2,262.5 614.8,263.9 615.4,265.5 616.0,267.5 616.7,269.9 617.4,272.6 618.0,275.7 618.7,279.2 619.4,283.1 620.1,287.0 620.7,291.0 621.4,294.9 622.1,298.9 622.8,302.3 623.4,305.3 624.1,307.7 624.7,309.7 625.4,311.5 626.2,313.1 626.9,314.5 627.8,315.7 631.3,316.7 637.5,317.3 646.5,317.7 658.1,317.8 667.0,317.4 673.2,316.6 676.6,315.4 677.3,313.8 678.0,311.9 678.6,309.7 679.3,307.2 680.0,304.4 680.7,301.5 681.3,298.3 682.0,295.0 682.7,291.4 683.4,287.7 684.2,283.8 685.0,279.8 685.9,275.5 686.8,271.7 687.6,268.4 688.4,265.6 689.3,263.3 690.1,261.4 690.9,259.8 691.7,258.7 692.5,257.9 693.3,257.0 694.0,256.1 694.7,255.2 695.4,254.1 696.1,253.0 696.7,251.9 697.4,250.6 698.1,249.3 698.7,248.6 699.3,248.5 699.9,249.0 700.5,250.2 701.1,251.7 701.7,253.4 702.3,255.4 703.0,257.7 703.7,260.3 704.3,263.4 705.0,266.9 705.7,270.7 706.4,274.7 707.0,279.0 707.7,283.4 708.4,288.0 709.1,292.4 709.7,296.4 710.4,300.3 711.0,303.8 711.7,306.8 712.3,309.4 713.0,311.4 713.7,313.0 714.4,314.3 715.0,315.3 715.7,316.0 716.4,316.5 719.2,316.8 724.2,317.0 731.4,317.0 740.7,316.9 747.7,316.9 752.4,316.8 754.7,316.8 755.0,316.8 755.0,336.2" fill="#ffff00" />
<polygon points="71.8,317.3 754.5,317.3 756.2,336.2 71.8,336.2" fill="#7b4600"/>
<polyline points="71.3,145.8 71.6,145.2 72.2,144.0 73.1,142.1 74.4,139.7 75.7,137.6 77.0,135.7 78.4,134.2 79.9,133.0 81.4,132.3 82.9,132.2 84.4,132.6 86.0,133.6 87.5,134.4 88.9,135.0 90.3,135.4 91.7,135.5 92.9,135.8 94.1,136.4 95.2,137.2 96.3,138.2 97.2,139.9 98.1,142.2 99.0,145.2 99.8,148.8 100.6,151.1 101.5,151.9 102.3,151.3 103.2,149.4 104.1,147.3 105.0,145.3 106.0,143.2 107.0,141.0 108.0,139.8 109.0,139.4 110.0,139.9 111.1,141.3 112.1,142.7 113.1,144.1 114.1,145.5 115.1,146.8 116.2,148.0 117.5,149.1 118.8,150.0 120.3,150.9 121.7,151.9 122.9,153.3 123.9,154.9 124.8,156.8 125.6,159.3 126.4,162.4 127.1,166.2 127.8,170.5 128.5,174.3 129.1,177.6 129.8,180.3 130.5,182.4 131.4,184.4 132.6,186.3 134.0,187.9 135.7,189.4 137.4,190.2 139.1,190.3 140.8,189.7 142.4,188.4 144.1,186.7 145.8,184.6 147.5,182.1 149.2,179.1 150.7,176.4 152.0,173.9 153.2,171.7 154.2,169.6 155.2,168.1 156.1,167.1 157.0,166.6 157.9,166.6 158.8,165.9 159.6,164.5 160.4,162.4 161.3,159.5 162.1,156.1 163.0,152.1 164.0,147.5 165.0,142.3 166.0,137.8 166.9,133.8 167.8,130.3 168.7,127.5 169.5,125.1 170.3,123.3 171.0,121.9 171.7,121.1 172.4,121.1 173.1,122.1 173.9,124.0 174.8,126.7 175.7,129.6 176.8,132.6 178.0,135.7 179.4,138.9 180.6,141.8 181.8,144.5 182.9,147.1 183.9,149.4 184.9,151.8 185.8,154.5 186.7,157.3 187.6,160.3 188.6,161.8 189.8,161.9 191.1,160.6 192.6,157.9 194.0,156.3 195.4,155.8 196.8,156.5 198.2,158.3 199.5,160.1 200.9,161.8 202.2,163.6 203.6,165.4 204.8,166.6 206.0,167.3 207.1,167.5 208.2,167.1 209.2,167.5 210.2,168.5 211.2,170.1 212.2,172.4 213.2,174.7 214.2,177.1 215.2,179.6 216.3,182.1 217.3,184.6 218.4,186.9 219.6,189.1 220.8,191.3 222.0,192.6 223.2,193.0 224.3,192.6 225.5,191.3 226.6,190.0 227.7,188.7 228.7,187.5 229.8,186.2 230.8,184.4 231.7,182.0 232.6,179.0 233.5,175.4 234.3,171.0 235.2,165.5 236.0,159.1 236.8,151.7 237.6,144.8 238.3,138.2 239.0,132.0 239.7,126.1 240.4,121.2 241.0,117.0 241.7,113.8 242.4,111.3 243.1,109.4 244.0,107.9 244.9,106.9 245.9,106.3 246.9,106.1 247.9,106.2 248.9,106.7 250.0,107.4 251.1,108.5 252.3,109.9 253.5,111.7 254.9,113.7 256.3,115.8 257.8,117.9 259.4,120.0 261.1,122.1 262.8,124.0 264.5,125.5 266.2,126.7 267.8,127.7 269.5,128.4 271.0,129.0 272.4,129.5 273.7,129.8 274.9,130.4 276.0,131.2 276.9,132.2 277.8,133.5 278.6,134.0 279.4,133.9 280.3,133.1 281.2,131.7 282.1,130.9 283.0,130.8 284.0,131.4 285.0,132.6 286.1,134.2 287.3,136.2 288.5,138.6 289.9,141.3 291.2,143.8 292.6,146.2 293.9,148.4 295.3,150.5 296.6,152.3 298.0,153.8 299.3,155.1 300.7,156.2 302.1,157.3 303.6,158.4 305.2,159.6 307.0,160.9 308.6,162.0 310.1,162.9 311.5,163.6 312.9,164.2 314.2,164.5 315.6,164.6 316.9,164.5 318.2,164.2 319.5,163.7 320.6,162.9 321.7,161.8 322.8,160.4 323.8,158.5 324.8,156.0 325.8,152.9 326.8,149.3 327.8,145.6 328.7,142.0 329.6,138.5 330.5,135.0 331.4,132.0 332.2,129.5 333.0,127.7 333.9,126.3 334.6,125.4 335.3,125.0 335.9,125.1 336.4,125.7 336.9,124.6 337.4,121.9 337.9,117.5 338.4,111.4 338.9,105.4 339.5,99.5 340.1,93.7 340.8,87.9 341.5,83.2 342.1,79.5 342.8,76.8 343.5,75.0 344.2,73.6 344.9,72.3 345.7,71.3 346.6,70.5 347.3,70.7 348.0,71.8 348.6,73.9 349.1,77.0 349.7,80.1 350.3,83.3 350.9,86.6 351.6,90.0 352.4,93.9 353.2,98.3 354.1,103.3 355.2,108.8 356.1,113.8 357.0,118.4 357.9,122.5 358.7,126.1 359.5,129.3 360.2,132.1 360.9,134.4 361.6,136.4 362.4,137.4 363.3,137.5 364.4,136.7 365.6,135.0 366.8,133.4 368.0,132.2 369.2,131.1 370.5,130.4 371.6,130.4 372.7,131.3 373.7,133.1 374.7,135.7 375.8,137.4 377.0,138.3 378.4,138.2 380.0,137.1 381.6,136.4 383.2,136.0 384.8,135.9 386.5,136.1 388.2,136.5 389.9,137.0 391.5,137.8 393.3,138.8 394.9,140.0 396.6,141.6 398.3,143.4 400.0,145.5 401.6,147.8 403.1,150.2 404.5,152.8 405.9,155.5 407.0,157.0 408.0,157.3 408.7,156.4 409.2,154.2 409.7,151.2 410.3,147.2 410.8,142.4 411.4,136.7 411.9,130.9 412.4,125.0 412.9,119.1 413.3,113.1 413.8,107.9 414.2,103.4 414.7,99.7 415.2,96.7 415.8,94.1 416.4,91.8 417.2,89.8 418.1,88.2 418.9,87.1 419.7,86.7 420.4,86.9 421.1,87.6 421.8,88.8 422.4,90.3 423.1,92.2 423.8,94.5 424.5,96.7 425.1,98.9 425.8,101.0 426.5,103.1 427.2,104.8 428.1,106.1 429.0,107.1 430.1,107.7 431.1,108.3 432.1,108.9 433.1,109.6 434.1,110.3 435.1,110.9 436.0,111.4 436.9,111.7 437.8,111.9 438.7,112.4 439.5,113.0 440.3,113.9 441.2,115.1 442.0,115.9 442.9,116.3 443.9,116.4 444.9,116.2 445.9,115.7 446.8,115.0 447.7,114.0 448.6,112.8 449.4,111.7 450.2,110.8 450.9,110.1 451.6,109.5 452.3,109.4 453.0,109.6 453.8,110.3 454.6,111.3 455.5,112.2 456.4,112.8 457.3,113.2 458.4,113.4 459.4,113.7 460.4,114.0 461.4,114.5 462.4,115.0 463.4,115.9 464.3,117.0 465.1,118.4 466.0,120.1 466.8,122.1 467.6,124.6 468.5,127.3 469.4,130.5 470.3,133.9 471.2,137.6 472.2,141.6 473.2,146.0 474.2,150.0 475.2,153.6 476.2,157.0 477.3,160.1 478.2,162.6 479.2,164.8 480.1,166.5 481.0,167.7 481.8,168.8 482.7,169.8 483.5,170.7 484.3,171.4 485.2,171.9 486.1,172.1 487.0,172.0 488.1,171.6 489.1,171.1 490.1,170.5 491.1,169.8 492.1,168.9 493.0,167.7 493.9,166.1 494.6,164.1 495.3,161.7 496.0,158.9 496.6,155.6 497.3,151.7 498.0,147.4 498.6,143.6 499.1,140.3 499.5,137.7 499.8,135.5 500.2,133.9 500.7,132.7 501.3,131.9 502.0,131.7 502.7,131.1 503.3,130.2 504.0,128.9 504.7,127.4 505.4,125.7 506.0,123.9 506.7,121.9 507.4,119.8 508.1,117.8 508.7,115.8 509.4,114.0 510.1,112.3 510.7,110.2 511.3,107.5 511.8,104.3 512.3,100.7 512.7,97.1 513.2,93.6 513.6,90.1 514.0,86.7 514.4,83.9 514.9,81.6 515.3,79.8 515.8,78.6 516.3,77.6 516.7,76.9 517.2,76.4 517.7,76.2 518.2,76.3 518.7,76.9 519.2,77.8 519.8,79.1 520.3,80.6 520.9,82.3 521.4,84.3 521.9,86.4 522.5,88.7 523.1,91.2 523.7,93.8 524.4,96.6 525.1,99.5 525.8,102.3 526.6,105.2 527.5,108.1 528.3,110.3 529.1,111.8 529.9,112.5 530.7,112.6 531.4,113.3 532.1,114.6 532.7,116.6 533.3,119.3 533.8,122.0 534.4,124.7 534.9,127.3 535.4,130.0 536.0,132.2 536.7,134.0 537.4,135.3 538.2,136.2 539.0,136.4 539.7,135.9 540.4,134.8 541.1,132.9 541.9,130.9 542.7,128.8 543.6,126.4 544.7,124.0 545.7,121.7 546.7,119.6 547.7,117.8 548.7,116.1 549.7,114.6 550.6,113.3 551.4,112.3 552.3,111.4 553.0,110.8 553.7,110.5 554.3,110.4 554.8,110.5 555.4,111.2 556.0,112.6 556.6,114.5 557.3,117.1 558.0,120.2 558.6,123.7 559.3,127.8 560.0,132.3 560.7,136.4 561.3,139.9 562.0,143.0 562.7,145.7 563.5,148.3 564.3,151.0 565.2,153.8 566.3,156.5 567.3,158.9 568.3,160.9 569.3,162.6 570.3,163.9 571.2,164.9 572.1,165.6 573.0,165.9 573.8,166.0 574.6,165.9 575.5,165.7 576.3,165.4 577.2,164.9 578.1,164.4 578.9,163.8 579.6,163.2 580.3,162.5 581.0,161.1 581.6,159.0 582.3,156.2 582.9,152.7 583.6,148.7 584.2,144.1 584.9,139.0 585.6,133.4 586.2,127.9 586.8,122.6 587.4,117.5 588.0,112.5 588.5,108.0 589.0,103.9 589.5,100.1 590.0,96.9 590.5,94.3 591.1,92.5 591.7,91.4 592.4,91.1 593.0,91.3 593.6,92.1 594.2,93.4 594.7,95.3 595.3,97.0 595.9,98.7 596.5,100.1 597.2,101.5 597.9,102.7 598.5,103.8 599.2,104.7 599.9,105.4 600.6,105.8 601.3,105.8 602.1,105.4 603.0,104.6 603.8,104.0 604.7,103.5 605.7,103.2 606.7,103.1 607.6,103.0 608.5,102.8 609.2,102.6 609.9,102.4 610.6,103.0 611.2,104.3 611.9,106.5 612.6,109.4 613.3,112.3 613.9,115.3 614.6,118.2 615.3,121.1 616.0,123.8 616.8,126.2 617.6,128.4 618.5,130.3 619.3,131.8 620.2,133.0 621.0,133.8 621.9,134.2 622.7,134.4 623.6,134.2 624.6,133.8 625.6,133.1 626.5,132.1 627.4,131.0 628.1,129.7 628.8,128.3 629.5,127.2 630.1,126.5 630.8,126.2 631.5,126.4 632.2,126.9 632.8,127.7 633.5,129.0 634.2,130.6 634.9,132.2 635.8,133.8 636.7,135.5 637.7,137.1 638.7,138.8 639.7,140.4 640.7,142.0 641.8,143.6 642.8,145.2 643.7,147.0 644.6,149.0 645.5,151.0 646.3,153.2 647.2,155.5 648.0,158.0 648.8,160.6 649.7,162.9 650.6,165.0 651.5,166.9 652.6,168.4 653.5,169.8 654.4,171.1 655.1,172.1 655.8,173.0 656.5,173.6 657.4,174.1 658.3,174.3 659.3,174.3 660.4,174.2 661.6,174.1 662.8,173.8 664.2,173.4 665.5,173.0 666.9,172.5 668.2,172.0 669.6,171.4 670.8,170.6 672.0,169.8 673.1,168.8 674.1,167.7 675.0,166.3 675.9,164.6 676.6,162.7 677.3,160.4 678.0,158.2 678.6,156.0 679.3,153.8 680.0,151.6 680.7,149.8 681.3,148.5 682.0,147.5 682.7,146.9 683.3,145.9 683.9,144.3 684.4,142.3 684.9,139.7 685.4,136.9 685.9,133.7 686.4,130.3 687.0,126.6 687.6,123.2 688.2,120.2 688.8,117.6 689.5,115.3 690.2,113.3 690.8,111.6 691.5,110.2 692.2,109.1 692.9,108.2 693.8,107.4 694.7,106.6 695.7,106.0 696.6,105.5 697.5,104.9 698.2,104.4 698.9,104.0 699.6,104.1 700.2,104.7 700.9,106.0 701.6,107.8 702.3,109.8 702.9,112.0 703.6,114.5 704.3,117.1 705.0,120.2 705.6,123.6 706.3,127.4 707.0,131.6 707.6,135.6 708.2,139.5 708.7,143.3 709.2,147.0 709.6,150.2 710.1,152.9 710.5,155.2 710.9,156.9 711.3,158.2 711.8,158.9 712.2,159.0 712.7,158.6 713.2,158.0 713.8,157.1 714.4,155.9 715.1,154.5 715.8,153.4 716.4,152.5 717.1,151.9 717.8,151.6 718.5,151.5 719.1,151.7 719.8,152.2 720.5,153.0 721.2,153.9 721.8,154.8 722.5,155.9 723.2,157.0 723.9,158.0 724.8,159.0 725.7,159.9 726.7,160.8 727.7,161.6 728.7,162.3 729.7,162.9 730.8,163.4 731.8,164.2 732.8,165.2 733.8,166.3 734.8,167.7 735.8,168.8 736.8,169.5 737.8,170.0 738.9,170.1 739.9,170.4 740.9,170.9 741.9,171.5 742.9,172.2 743.9,172.9 744.9,173.6 745.9,174.3 747.0,175.0 748.0,175.7 748.9,176.3 749.8,176.8 750.7,177.4 751.5,177.8 752.2,178.2 752.8,178.4 753.3,178.6 753.7,178.8 754.0,178.9 754.1,178.9 754.3,179.0 756.6,336.2 770.0,336.2" fill="none" stroke="#ee0f12" stroke-width="2.5" stroke-linejoin="round" stroke-linecap="butt"/>
</g>
<g id="summer">
<polygon points="808.6,333.0 808.6,209.4 808.6,209.4 808.6,206.9 808.6,201.8 808.6,194.2 808.6,184.0 808.6,177.6 808.6,174.8 809.1,175.8 809.8,180.5 810.5,184.5 811.1,187.8 811.8,190.5 812.5,192.6 813.2,194.3 813.8,195.6 814.5,196.7 815.2,197.4 815.9,198.0 816.8,198.5 817.7,198.9 818.7,199.2 819.7,199.2 820.7,199.1 821.7,198.8 822.8,198.3 823.6,198.0 824.4,198.1 825.0,198.5 825.5,199.3 826.0,200.4 826.4,201.9 826.9,203.9 827.3,206.3 827.7,208.3 827.9,209.7 828.0,210.7 828.0,211.2 828.0,211.6 828.1,211.7 828.1,211.6 828.2,211.3 828.4,210.5 828.6,209.1 829.0,207.2 829.5,204.7 829.9,202.8 830.2,201.4 830.5,200.5 830.7,200.1 831.0,198.5 831.5,195.7 832.0,191.8 832.7,186.6 833.4,181.4 834.0,176.0 834.7,170.4 835.4,164.8 836.1,159.2 836.9,153.8 837.7,148.4 838.6,143.2 839.4,138.1 840.3,133.0 841.1,128.1 841.9,123.3 842.7,118.6 843.5,114.2 844.3,109.8 845.2,105.7 846.0,102.0 846.8,98.6 847.5,95.6 848.3,92.9 849.0,91.6 849.8,91.7 850.6,93.1 851.4,95.8 852.2,98.5 852.9,101.2 853.6,103.8 854.3,106.4 854.9,109.2 855.5,112.2 856.1,115.3 856.6,118.6 857.1,122.4 857.6,126.5 858.1,131.1 858.6,136.1 859.1,141.2 859.6,146.4 860.1,151.7 860.7,157.1 861.1,161.2 861.4,163.9 861.5,165.2 861.5,165.2 861.6,165.5 861.7,166.2 862.0,167.2 862.3,168.6 862.7,170.1 863.1,171.8 863.5,173.8 864.0,175.9 864.5,178.1 865.1,180.2 865.7,182.4 866.4,184.6 867.1,186.3 868.0,187.6 868.9,188.4 870.0,188.8 871.1,188.9 872.3,189.0 873.5,188.8 874.9,188.6 876.1,188.6 877.1,189.1 877.9,189.9 878.6,191.1 879.2,192.4 879.6,193.7 880.0,195.2 880.2,196.7 880.5,198.0 880.6,199.0 880.8,199.8 881.0,200.3 881.2,201.5 881.5,203.3 881.9,205.9 882.4,209.1 882.9,212.4 883.5,215.7 884.1,219.1 884.8,222.6 885.5,225.9 886.2,229.1 887.0,232.2 887.8,235.1 888.7,237.2 889.5,238.5 890.5,238.9 891.5,238.5 892.5,238.4 893.5,238.6 894.5,239.1 895.6,240.0 896.5,240.9 897.2,241.9 897.8,242.9 898.3,244.0 898.6,245.2 898.9,246.5 899.0,247.9 899.0,249.4 899.0,250.2 899.2,250.2 899.3,249.6 899.5,248.1 899.8,246.0 900.1,243.3 900.6,240.0 901.1,236.0 901.6,231.9 902.1,227.9 902.6,223.8 903.1,219.7 903.5,215.9 903.9,212.3 904.3,209.1 904.7,206.1 904.9,203.7 905.1,201.8 905.2,200.5 905.2,199.7 905.3,198.2 905.4,195.8 905.7,192.8 906.0,188.9 906.4,184.9 906.9,180.7 907.5,176.4 908.2,171.9 908.9,167.4 909.5,162.8 910.2,158.1 910.9,153.4 911.6,148.6 912.2,143.7 912.9,138.8 913.6,133.8 914.3,129.3 914.9,125.3 915.6,121.8 916.3,118.8 917.0,116.0 917.7,113.5 918.5,111.2 919.4,109.1 920.2,108.0 920.9,107.8 921.7,108.6 922.4,110.4 923.1,112.4 923.8,114.6 924.5,117.1 925.2,119.8 925.8,122.7 926.4,125.8 927.0,129.0 927.6,132.4 928.1,135.9 928.6,139.5 929.1,143.3 929.6,147.2 930.0,151.5 930.4,156.2 930.8,161.2 931.1,166.5 931.5,171.5 931.9,176.0 932.3,180.2 932.8,183.9 933.1,186.6 933.4,188.5 933.5,189.4 933.5,189.4 933.6,189.7 933.9,190.5 934.3,191.5 934.9,192.9 935.3,194.6 935.7,196.5 935.9,198.7 936.0,201.2 936.1,203.0 936.2,204.3 936.2,204.9 936.2,204.9 936.3,205.6 936.4,207.2 936.7,209.5 937.0,212.6 937.5,215.3 938.2,217.6 939.0,219.6 940.1,221.2 941.1,221.9 942.1,221.7 943.1,220.7 944.1,218.8 945.1,217.6 946.0,217.1 946.9,217.2 947.8,218.1 948.6,219.4 949.4,221.2 950.1,223.4 950.8,226.1 951.5,228.8 952.2,231.4 953.0,233.9 953.9,236.5 954.7,238.7 955.6,240.7 956.6,242.3 957.6,243.7 958.6,244.7 959.6,245.2 960.6,245.4 961.7,245.1 962.7,244.7 963.7,244.2 964.7,243.6 965.7,242.9 966.6,241.8 967.5,240.2 968.2,238.1 968.9,235.6 969.5,233.0 970.0,230.2 970.4,227.2 970.8,224.2 971.0,223.7 971.2,225.8 971.3,230.5 971.3,237.7 971.3,242.6 971.4,245.2 971.5,245.3 971.6,243.2 971.8,240.4 972.1,237.0 972.5,233.1 973.0,228.5 973.4,223.8 973.9,218.9 974.3,214.0 974.7,208.8 975.0,204.5 975.3,201.1 975.5,198.5 975.6,196.8 975.8,195.0 976.1,192.9 976.4,190.6 976.9,188.2 977.4,185.0 977.9,180.9 978.5,176.1 979.2,170.4 979.9,164.8 980.6,159.3 981.4,153.8 982.2,148.4 983.0,143.4 983.7,138.7 984.4,134.4 985.1,130.5 985.8,126.9 986.7,123.7 987.6,120.8 988.6,118.2 989.6,117.0 990.5,117.0 991.4,118.3 992.3,120.9 993.1,123.8 993.9,127.0 994.6,130.6 995.3,134.4 996.0,138.6 996.6,143.0 997.3,147.7 998.0,152.7 998.6,157.1 999.2,161.1 999.7,164.5 1000.2,167.4 1000.5,169.3 1000.8,170.2 1000.9,170.1 1000.9,169.0 1001.0,169.0 1001.3,170.2 1001.6,172.5 1002.1,176.0 1002.6,179.7 1003.1,183.7 1003.6,188.0 1004.2,192.5 1004.6,195.7 1004.9,197.5 1005.0,198.0 1005.0,197.1 1005.0,196.6 1005.1,196.6 1005.1,196.9 1005.2,197.7 1005.2,197.8 1005.3,197.3 1005.3,196.0 1005.3,194.0 1005.5,192.9 1006.0,192.6 1006.7,193.0 1007.7,194.3 1008.6,195.6 1009.6,196.8 1010.6,197.9 1011.6,199.0 1012.6,199.8 1013.6,200.3 1014.6,200.6 1015.7,200.5 1016.6,201.0 1017.5,202.1 1018.2,203.7 1018.9,205.9 1019.6,208.3 1020.2,210.9 1020.9,213.6 1021.6,216.5 1022.3,219.4 1023.0,222.3 1023.8,225.2 1024.6,228.1 1025.4,230.5 1026.3,232.4 1027.1,233.8 1028.0,234.7 1028.9,235.3 1029.8,235.7 1030.8,236.0 1031.9,236.0 1032.8,235.8 1033.7,235.3 1034.6,234.7 1035.4,233.9 1036.1,232.6 1036.8,230.7 1037.4,228.4 1038.0,225.6 1038.5,222.4 1039.0,218.8 1039.4,214.7 1039.8,210.3 1040.1,208.6 1040.3,209.8 1040.4,213.9 1040.4,220.7 1040.5,225.2 1040.6,227.2 1040.8,226.8 1041.0,224.0 1041.2,219.2 1041.3,212.3 1041.4,203.4 1041.4,192.4 1041.5,184.4 1041.6,179.4 1041.9,177.3 1042.2,178.3 1042.6,178.6 1043.1,178.3 1043.7,177.4 1044.4,175.8 1044.9,174.7 1045.2,173.9 1045.4,173.5 1045.4,173.5 1045.5,173.2 1045.7,172.5 1045.9,171.4 1046.3,170.0 1046.7,168.3 1047.2,166.4 1047.8,164.2 1048.5,161.7 1049.2,158.8 1049.8,155.4 1050.5,151.6 1051.2,147.3 1051.9,143.0 1052.5,138.8 1053.2,134.5 1053.9,130.2 1054.6,126.3 1055.2,122.9 1055.9,119.8 1056.6,117.1 1057.3,114.6 1057.9,112.4 1058.6,110.4 1059.2,108.6 1059.9,108.0 1060.5,108.8 1061.2,110.7 1061.9,114.0 1062.6,117.3 1063.2,120.6 1063.9,123.9 1064.6,127.3 1065.2,130.7 1065.8,134.1 1066.4,137.5 1067.0,140.9 1067.5,144.3 1068.0,147.7 1068.5,151.2 1069.0,154.7 1069.4,157.9 1069.9,161.0 1070.3,163.8 1070.7,166.4 1071.0,168.8 1071.3,170.9 1071.5,172.8 1071.6,174.5 1071.7,175.1 1071.8,174.6 1071.8,173.1 1071.8,170.5 1071.9,169.1 1072.0,168.9 1072.2,169.8 1072.5,172.0 1072.7,174.4 1073.0,177.1 1073.2,180.0 1073.4,183.3 1073.6,186.0 1073.9,188.2 1074.2,189.9 1074.6,191.1 1075.1,192.0 1075.8,192.5 1076.6,192.6 1077.6,192.4 1078.6,192.6 1079.6,193.2 1080.6,194.2 1081.7,195.7 1082.4,196.6 1082.9,196.9 1083.2,196.6 1083.2,195.7 1083.2,195.3 1083.2,195.5 1083.2,196.3 1083.3,197.6 1083.5,198.9 1084.0,200.2 1084.8,201.5 1085.8,202.8 1086.8,204.6 1087.8,207.0 1088.8,210.0 1089.9,213.4 1090.9,216.5 1091.9,219.0 1092.9,221.1 1093.9,222.7 1094.9,224.0 1095.8,225.1 1096.6,225.9 1097.5,226.4 1098.3,226.6 1099.2,226.4 1100.0,225.9 1100.9,225.0 1101.8,223.9 1102.7,222.7 1103.7,221.2 1104.7,219.6 1105.7,217.7 1106.7,215.3 1107.7,212.5 1108.8,209.4 1109.6,206.4 1110.4,203.4 1111.0,200.6 1111.5,197.9 1111.8,197.0 1112.1,198.1 1112.2,201.1 1112.2,206.0 1112.3,209.5 1112.6,211.5 1113.0,212.0 1113.5,211.1 1113.8,208.5 1114.1,204.2 1114.2,198.2 1114.2,190.4 1114.3,184.4 1114.4,180.1 1114.7,177.4 1115.0,176.5 1115.4,175.7 1115.9,174.9 1116.5,174.2 1117.2,173.6 1118.0,173.3 1118.8,173.2 1119.7,173.4 1120.8,173.8 1121.5,174.1 1122.0,174.3 1122.3,174.4 1122.3,174.4 1122.4,174.0 1122.5,173.2 1122.8,172.0 1123.1,170.3 1123.6,168.1 1124.1,165.1 1124.8,161.6 1125.7,157.4 1126.5,153.5 1127.4,149.8 1128.2,146.4 1129.1,143.2 1130.0,139.5 1130.9,135.2 1131.9,130.4 1132.9,124.9 1133.9,121.6 1134.8,120.5 1135.6,121.4 1136.4,124.5 1137.2,127.7 1137.9,130.9 1138.6,134.1 1139.3,137.4 1139.9,141.0 1140.5,145.1 1141.1,149.5 1141.7,154.4 1142.2,159.2 1142.7,164.1 1143.1,169.0 1143.5,173.9 1143.9,178.8 1144.3,183.7 1144.6,188.7 1145.0,193.7 1145.5,198.2 1146.3,202.3 1147.2,206.0 1148.3,209.3 1149.2,210.5 1149.7,209.7 1150.0,206.9 1150.0,202.0 1150.3,198.8 1150.8,197.2 1151.6,197.2 1152.7,198.8 1153.8,200.4 1154.9,202.1 1156.0,203.9 1157.0,205.8 1158.1,207.7 1159.2,209.8 1160.3,212.0 1161.4,214.4 1162.4,216.3 1163.3,217.8 1164.1,218.8 1164.8,219.4 1165.5,220.0 1166.1,220.5 1166.7,221.1 1167.2,221.6 1167.5,221.9 1167.8,222.2 1167.9,222.3 1167.9,222.3 1168.0,222.4 1168.1,222.6 1168.2,222.9 1168.5,223.2 1168.8,223.0 1169.3,222.0 1169.9,220.4 1170.6,218.2 1171.3,215.8 1172.1,213.3 1172.8,210.6 1173.5,207.7 1174.2,205.3 1174.9,203.3 1175.6,201.7 1176.4,200.5 1177.1,200.0 1177.8,200.3 1178.5,201.4 1179.2,203.2 1179.9,204.2 1180.6,204.5 1181.3,204.0 1181.9,202.7 1182.5,200.8 1183.0,198.2 1183.5,195.0 1183.9,191.0 1184.3,187.5 1184.8,184.3 1185.2,181.5 1185.7,179.1 1186.2,178.1 1186.8,178.5 1187.4,180.4 1188.1,183.6 1188.6,186.3 1188.9,188.3 1189.1,189.7 1189.1,190.5 1189.2,191.0 1189.4,191.2 1189.6,191.2 1190.0,190.9 1190.4,189.6 1190.8,187.3 1191.3,184.0 1191.8,179.7 1192.3,174.6 1192.8,168.6 1193.3,161.7 1193.8,154.0 1194.3,146.9 1194.9,140.3 1195.5,134.3 1196.2,128.9 1196.9,124.2 1197.7,120.2 1198.5,116.9 1199.4,114.3 1200.2,111.6 1201.1,108.8 1201.9,105.8 1202.7,102.7 1203.5,101.2 1204.2,101.3 1204.9,103.0 1205.6,106.2 1206.3,109.6 1206.9,113.1 1207.6,116.8 1208.3,120.6 1208.9,125.1 1209.5,130.3 1210.1,136.1 1210.7,142.7 1211.2,148.3 1211.6,153.2 1211.9,157.2 1212.2,160.3 1212.4,162.7 1212.5,164.2 1212.6,165.0 1212.6,165.0 1212.7,164.9 1213.0,164.7 1213.4,164.3 1213.9,163.9 1214.4,164.6 1215.0,166.3 1215.5,169.1 1216.1,173.1 1216.6,176.5 1217.0,179.4 1217.3,181.8 1217.6,183.7 1217.8,186.4 1218.0,189.9 1218.1,194.2 1218.1,199.2 1218.2,203.3 1218.4,206.2 1218.6,208.2 1218.9,209.0 1219.1,209.3 1219.2,208.9 1219.3,207.8 1219.3,206.1 1219.5,205.5 1219.8,206.1 1220.4,207.8 1221.1,210.6 1221.9,212.4 1222.8,213.1 1223.9,212.7 1225.0,211.3 1226.0,210.5 1226.9,210.4 1227.7,210.9 1228.4,212.1 1229.1,213.6 1229.8,215.3 1230.6,217.4 1231.2,219.7 1232.0,222.1 1232.7,224.6 1233.4,227.1 1234.1,229.7 1234.9,231.4 1235.7,232.3 1236.6,232.4 1237.6,231.7 1238.5,230.9 1239.3,230.2 1240.1,229.5 1240.8,228.7 1241.5,228.8 1242.1,229.5 1242.7,231.1 1243.2,233.4 1243.7,235.4 1244.3,237.2 1245.0,238.7 1245.7,239.8 1246.4,240.6 1247.2,241.0 1247.9,241.0 1248.6,240.6 1249.2,239.5 1249.8,237.8 1250.2,235.4 1250.6,232.3 1250.8,232.8 1251.0,236.9 1251.1,244.5 1251.1,255.6 1251.2,263.0 1251.3,266.5 1251.5,266.3 1251.8,262.2 1252.2,257.8 1252.7,253.0 1253.2,248.0 1253.7,242.7 1254.3,238.1 1254.8,234.3 1255.3,231.2 1255.8,228.9 1256.1,224.6 1256.4,218.4 1256.5,210.3 1256.5,200.3 1256.7,192.2 1257.0,186.1 1257.5,182.0 1258.2,180.0 1258.9,177.5 1259.5,174.8 1260.2,171.7 1260.9,168.4 1261.6,165.0 1262.2,161.5 1262.9,158.1 1263.6,154.6 1264.3,151.3 1264.9,148.1 1265.6,145.1 1266.3,142.2 1267.0,139.7 1267.8,137.4 1268.5,135.4 1269.4,133.7 1270.1,133.3 1270.8,134.1 1271.4,136.2 1271.9,139.5 1272.5,142.8 1273.1,146.2 1273.7,149.7 1274.4,153.1 1275.1,156.4 1275.7,159.3 1276.4,162.0 1277.1,164.5 1277.7,167.0 1278.3,169.7 1278.8,172.4 1279.3,175.1 1279.7,177.8 1280.2,180.3 1280.6,182.7 1280.9,184.9 1281.2,186.6 1281.4,187.8 1281.5,188.3 1281.5,188.3 1281.8,189.3 1282.3,191.3 1283.1,194.2 1284.2,198.2 1285.3,201.1 1286.3,203.0 1287.4,203.9 1288.5,203.8 1289.6,204.0 1290.7,204.4 1291.8,205.0 1292.8,205.9 1293.9,206.8 1295.0,207.6 1296.1,208.3 1297.2,209.0 1298.1,209.9 1298.9,211.0 1299.5,212.3 1300.0,213.9 1300.4,215.6 1300.7,217.6 1300.8,219.7 1300.8,222.1 1300.9,224.0 1301.0,225.5 1301.1,226.5 1301.4,227.1 1301.8,227.8 1302.5,228.6 1303.3,229.4 1304.4,230.3 1305.5,230.7 1306.6,230.4 1307.7,229.6 1308.8,228.1 1309.8,226.8 1310.9,225.6 1312.0,224.6 1313.1,223.6 1314.1,222.9 1315.0,222.3 1315.8,221.9 1316.5,221.7 1317.2,221.4 1317.7,221.0 1318.2,220.5 1318.7,219.8 1319.0,219.4 1319.2,219.0 1319.3,218.9 1319.3,218.9 1319.4,218.7 1319.5,218.4 1319.8,218.0 1320.1,217.4 1320.4,216.1 1320.9,214.0 1321.4,211.1 1321.9,207.6 1322.4,204.2 1322.9,201.1 1323.2,198.3 1323.5,195.7 1323.7,193.5 1323.8,191.8 1323.9,190.6 1323.9,189.7 1324.0,187.9 1324.2,184.9 1324.4,180.9 1324.8,175.8 1325.2,170.4 1325.6,164.7 1326.1,158.6 1326.7,152.1 1327.2,145.5 1327.7,138.6 1328.2,131.4 1328.6,124.0 1329.1,117.0 1329.7,110.5 1330.3,104.3 1331.0,98.6 1331.7,93.0 1332.3,87.3 1333.0,81.8 1333.7,76.2 1334.3,71.5 1334.9,67.5 1335.4,64.4 1335.9,62.0 1336.4,59.9 1336.9,58.2 1337.4,56.9 1338.0,55.9 1338.6,55.3 1339.2,55.2 1339.8,55.5 1340.5,56.2 1341.1,57.2 1341.7,58.4 1342.3,59.8 1342.8,61.5 1343.4,63.7 1344.0,66.4 1344.6,69.6 1345.3,73.4 1346.0,77.4 1346.6,81.5 1347.3,85.8 1348.0,90.3 1348.6,95.1 1349.2,100.0 1349.7,105.2 1350.2,110.6 1350.6,116.2 1351.0,122.1 1351.4,128.2 1351.8,134.6 1352.1,141.0 1352.5,147.4 1352.8,153.8 1353.1,160.3 1353.5,166.4 1353.8,172.0 1354.2,177.2 1354.6,182.1 1354.9,185.9 1355.2,188.7 1355.4,190.5 1355.5,191.3 1355.7,192.9 1355.9,195.1 1356.2,198.1 1356.5,201.8 1356.8,205.9 1357.1,210.3 1357.5,215.1 1358.0,220.4 1358.4,225.1 1358.8,229.5 1359.2,233.4 1359.5,236.9 1359.8,239.7 1360.0,242.0 1360.2,243.7 1360.2,244.8 1360.3,244.1 1360.3,241.7 1360.3,237.7 1360.3,231.9 1360.6,228.0 1361.2,226.0 1362.2,225.9 1363.4,227.7 1364.6,229.3 1365.8,230.7 1366.9,231.9 1368.0,232.9 1369.1,234.1 1370.1,235.6 1371.2,237.4 1372.3,239.4 1373.4,241.2 1374.5,242.7 1375.6,243.9 1376.6,244.9 1377.7,245.9 1378.8,247.0 1379.9,248.1 1381.0,249.4 1382.1,250.3 1383.1,251.1 1384.2,251.6 1385.3,251.8 1386.5,252.1 1387.7,252.4 1389.1,252.8 1390.5,253.2 1391.8,253.2 1392.9,252.9 1393.8,252.2 1394.5,251.2 1395.1,250.1 1395.6,248.9 1396.0,247.7 1396.3,246.3 1396.5,245.6 1396.6,245.5 1396.7,246.0 1396.7,247.2 1396.9,246.8 1397.2,244.8 1397.6,241.3 1398.2,236.3 1398.8,231.6 1399.4,227.3 1400.0,223.2 1400.5,219.6 1401.1,216.2 1401.6,213.1 1402.2,210.3 1402.7,207.8 1403.1,205.1 1403.4,202.2 1403.7,199.0 1404.0,195.6 1404.2,193.0 1404.4,191.2 1404.5,190.2 1404.7,190.0 1404.9,188.7 1405.1,186.5 1405.4,183.2 1405.7,178.9 1406.1,175.2 1406.5,172.1 1407.0,169.6 1407.6,167.8 1408.1,166.3 1408.7,165.1 1409.3,164.3 1409.9,163.8 1410.5,163.6 1411.2,163.6 1411.9,163.8 1412.7,164.3 1413.4,165.2 1414.1,166.5 1414.7,168.2 1415.3,170.4 1415.9,172.5 1416.4,174.7 1416.8,176.7 1417.2,178.8 1417.6,180.7 1417.9,182.6 1418.2,184.3 1418.5,185.9 1418.7,187.4 1418.9,188.9 1418.9,190.2 1419.0,191.5 1419.1,193.5 1419.4,196.2 1419.8,199.7 1420.2,203.9 1420.8,208.3 1421.3,212.9 1421.9,217.8 1422.4,222.9 1422.9,227.1 1423.3,230.3 1423.5,232.6 1423.7,233.8 1423.8,234.4 1423.9,234.3 1423.9,233.5 1423.9,232.0 1424.1,230.8 1424.6,230.0 1425.2,229.5 1426.1,229.3 1427.0,229.0 1428.0,228.6 1429.0,228.1 1430.1,227.5 1431.2,227.1 1432.2,227.0 1433.3,227.1 1434.4,227.5 1435.5,227.6 1436.6,227.2 1437.6,226.6 1438.8,225.6 1439.8,225.2 1440.7,225.4 1441.5,226.2 1442.2,227.7 1442.9,229.2 1443.5,230.8 1444.0,232.4 1444.5,234.1 1444.9,235.9 1445.2,237.9 1445.3,240.0 1445.3,242.3 1445.4,243.5 1445.7,243.6 1446.2,242.7 1446.7,240.6 1447.4,238.4 1448.3,235.9 1449.2,233.1 1450.3,230.1 1451.4,227.2 1452.5,224.2 1453.6,221.3 1454.6,218.4 1455.7,215.5 1456.8,212.7 1457.9,209.9 1459.0,207.1 1460.0,204.3 1460.9,201.5 1461.7,198.7 1462.4,195.8 1463.0,193.6 1463.4,191.8 1463.6,190.6 1463.8,190.0 1463.9,188.6 1464.2,186.3 1464.5,183.2 1464.9,179.2 1465.4,175.2 1465.9,171.3 1466.5,167.3 1467.2,163.4 1467.9,159.6 1468.5,156.0 1469.2,152.6 1469.9,149.3 1470.6,146.0 1471.2,142.8 1471.9,139.5 1472.6,136.2 1473.3,132.7 1473.9,128.7 1474.6,124.5 1475.3,120.0 1476.0,116.2 1476.6,113.2 1477.3,111.0 1478.0,109.6 1478.7,108.5 1479.3,107.5 1480.0,106.8 1480.7,106.3 1481.3,104.9 1481.9,102.7 1482.5,99.5 1483.1,95.5 1483.6,91.9 1484.2,88.8 1484.8,86.2 1485.4,84.0 1486.0,82.8 1486.6,82.5 1487.2,83.1 1487.8,84.6 1488.4,86.3 1489.0,88.2 1489.6,90.3 1490.3,92.5 1490.8,95.7 1491.3,99.9 1491.7,105.0 1492.0,111.2 1492.3,117.1 1492.7,122.8 1493.0,128.3 1493.4,133.5 1493.7,138.7 1494.1,143.7 1494.4,148.6 1494.7,153.3 1495.0,158.6 1495.2,164.5 1495.3,170.9 1495.3,177.9 1495.3,183.3 1495.3,187.1 1495.3,189.4 1495.3,190.1 1495.3,191.6 1495.3,194.0 1495.3,197.2 1495.3,201.2 1495.3,204.3 1495.3,206.3 1495.3,207.3 1495.3,207.3 1495.3,333.0" fill="#e6e6e6" />
<polygon points="808.6,333.0 808.6,209.4 808.6,209.4 808.6,206.9 808.6,201.8 808.6,194.2 808.6,184.0 808.6,177.6 808.6,174.8 809.1,175.8 809.8,180.5 810.5,184.5 811.1,187.8 811.8,190.5 812.5,192.6 813.2,194.3 813.8,195.6 814.5,196.7 815.2,197.4 815.9,198.0 816.8,198.5 817.7,198.9 818.7,199.2 819.7,199.2 820.7,199.1 821.7,198.8 822.8,198.3 823.6,198.0 824.4,198.1 825.0,198.5 825.5,199.3 826.0,200.4 826.4,201.9 826.9,203.9 827.3,206.3 827.7,208.3 827.9,209.7 828.0,210.7 828.0,211.2 828.0,211.6 828.1,211.7 828.1,211.6 828.2,211.3 828.4,210.5 828.6,209.1 829.0,207.2 829.5,204.7 829.9,202.8 830.2,201.4 830.5,200.5 830.7,200.1 831.0,198.5 831.5,195.7 832.0,191.8 832.7,186.6 833.4,181.4 834.0,176.0 834.7,170.4 835.4,164.8 836.1,159.2 836.9,153.8 837.7,148.4 838.6,143.2 839.4,138.1 840.3,133.0 841.1,128.1 841.9,123.3 842.7,118.6 843.5,114.2 844.3,109.8 845.2,105.7 846.0,102.0 846.8,98.6 847.5,95.6 848.3,92.9 849.0,91.6 849.8,91.7 850.6,93.1 851.4,95.8 852.2,98.5 852.9,101.2 853.6,103.8 854.3,106.4 854.9,109.2 855.5,112.2 856.1,115.3 856.6,118.6 857.1,122.4 857.6,126.5 858.1,131.1 858.6,136.1 859.1,141.2 859.6,146.4 860.1,151.7 860.7,157.1 861.1,161.2 861.4,163.9 861.5,165.2 861.5,165.2 861.6,165.5 861.7,166.2 862.0,167.2 862.3,168.6 862.7,170.1 863.1,171.8 863.5,173.8 864.0,175.9 864.5,178.1 865.1,180.2 865.7,182.4 866.4,184.6 867.1,186.3 868.0,187.6 868.9,188.4 870.0,188.8 871.1,188.9 872.3,189.0 873.5,188.8 874.9,188.6 876.1,188.6 877.1,189.1 877.9,189.9 878.6,191.1 879.2,192.4 879.6,193.7 880.0,195.2 880.2,196.7 880.5,198.0 880.6,199.0 880.8,199.8 881.0,200.3 881.2,201.5 881.5,203.3 881.9,205.9 882.4,209.1 882.9,212.4 883.5,215.7 884.1,219.1 884.8,222.6 885.5,225.9 886.2,229.1 887.0,232.2 887.8,235.1 888.7,237.2 889.5,238.5 890.5,238.9 891.5,238.5 892.5,238.4 893.5,238.6 894.5,239.1 895.6,240.0 896.5,240.9 897.2,241.9 897.8,242.9 898.3,244.0 898.6,245.2 898.9,246.5 899.0,247.9 899.0,249.4 899.0,250.2 899.2,250.2 899.3,249.6 899.5,248.1 899.8,246.0 900.1,243.3 900.6,240.0 901.1,236.0 901.6,231.9 902.1,227.9 902.6,223.8 903.1,219.7 903.5,215.9 903.9,212.3 904.3,209.1 904.7,206.1 904.9,203.7 905.1,201.8 905.2,200.5 905.2,199.7 905.3,198.2 905.4,195.8 905.7,192.8 906.0,188.9 906.4,184.9 906.9,180.7 907.5,176.4 908.2,171.9 908.9,167.4 909.5,162.8 910.2,158.1 910.9,153.4 911.6,148.6 912.2,143.7 912.9,138.8 913.6,133.8 914.3,129.3 914.9,125.3 915.6,121.8 916.3,118.8 917.0,116.0 917.7,113.5 918.5,111.2 919.4,109.1 920.2,108.0 920.9,107.8 921.7,108.6 922.4,110.4 923.1,112.4 923.8,114.6 924.5,117.1 925.2,119.8 925.8,122.7 926.4,125.8 927.0,129.0 927.6,132.4 928.1,135.9 928.6,139.5 929.1,143.3 929.6,147.2 930.0,151.5 930.4,156.2 930.8,161.2 931.1,166.5 931.5,171.5 931.9,176.0 932.3,180.2 932.8,183.9 933.1,186.6 933.4,188.5 933.5,189.4 933.5,189.4 933.6,189.7 933.9,190.2 934.3,191.1 934.9,192.2 935.4,194.4 935.8,197.8 936.1,202.3 936.3,207.9 936.5,210.6 936.6,210.1 936.7,206.7 936.7,200.2 936.7,196.9 936.7,196.9 936.7,200.2 936.7,206.8 936.9,212.2 937.4,216.4 938.0,219.5 938.9,221.4 939.9,222.5 941.0,222.9 942.2,222.4 943.6,221.1 944.8,220.5 946.0,220.7 947.1,221.6 948.2,223.2 949.1,225.3 950.0,227.9 950.7,231.0 951.4,234.5 952.0,238.3 952.6,242.4 953.2,246.7 953.7,251.3 954.3,255.6 955.0,259.5 955.7,263.0 956.6,266.2 957.5,268.6 958.6,270.4 959.8,271.4 961.2,271.8 962.4,272.1 963.6,272.2 964.7,272.3 965.7,272.2 966.6,271.4 967.5,269.7 968.2,267.2 968.9,264.0 969.4,261.6 969.7,259.9 969.9,259.1 969.9,259.1 970.0,257.9 970.3,255.5 970.6,251.9 971.1,247.1 971.6,242.3 972.0,237.6 972.5,233.0 973.0,228.5 973.4,223.8 973.9,218.9 974.3,214.0 974.7,208.8 975.0,204.5 975.3,201.1 975.5,198.5 975.6,196.8 975.8,195.0 976.1,192.9 976.4,190.6 976.9,188.2 977.4,185.0 977.9,180.9 978.5,176.1 979.2,170.4 979.9,164.8 980.6,159.3 981.4,153.8 982.2,148.4 983.0,143.4 983.7,138.7 984.4,134.4 985.1,130.5 985.8,126.9 986.7,123.7 987.6,120.8 988.6,118.2 989.6,117.0 990.5,117.0 991.4,118.3 992.3,120.9 993.1,123.8 993.9,127.0 994.6,130.6 995.3,134.4 996.0,138.6 996.6,143.0 997.3,147.7 998.0,152.7 998.6,157.1 999.2,161.1 999.7,164.5 1000.2,167.4 1000.5,169.3 1000.8,170.2 1000.9,170.1 1000.9,169.0 1001.0,169.0 1001.3,170.2 1001.6,172.5 1002.1,176.0 1002.6,179.7 1003.1,183.7 1003.6,188.0 1004.2,192.5 1004.6,195.7 1004.9,197.5 1005.0,198.0 1005.0,197.1 1005.1,197.0 1005.3,197.6 1005.5,198.9 1005.9,201.1 1006.3,203.8 1006.8,207.1 1007.4,211.1 1008.1,215.6 1008.8,219.4 1009.7,222.3 1010.6,224.5 1011.6,225.8 1012.6,226.9 1013.6,227.6 1014.6,228.0 1015.7,228.1 1016.6,229.0 1017.5,230.8 1018.2,233.6 1018.9,237.2 1019.6,240.5 1020.2,243.6 1020.9,246.4 1021.6,248.9 1022.4,251.0 1023.4,252.7 1024.6,254.0 1026.0,254.8 1027.3,255.5 1028.7,256.1 1030.0,256.5 1031.4,256.8 1032.6,257.1 1033.8,257.3 1034.9,257.5 1035.9,257.6 1036.8,256.8 1037.5,255.1 1038.1,252.6 1038.6,249.2 1039.2,242.3 1040.1,231.9 1041.1,218.0 1042.3,200.6 1043.4,187.2 1044.3,177.7 1045.1,172.1 1045.8,170.4 1046.5,168.5 1047.1,166.5 1047.8,164.2 1048.5,161.7 1049.2,158.8 1049.8,155.4 1050.5,151.6 1051.2,147.3 1051.9,143.0 1052.5,138.8 1053.2,134.5 1053.9,130.2 1054.6,126.3 1055.2,122.9 1055.9,119.8 1056.6,117.1 1057.3,114.6 1057.9,112.4 1058.6,110.4 1059.2,108.6 1059.9,108.0 1060.5,108.8 1061.2,110.7 1061.9,114.0 1062.6,117.3 1063.2,120.6 1063.9,123.9 1064.6,127.3 1065.2,130.7 1065.8,134.1 1066.4,137.5 1067.0,140.9 1067.5,144.3 1068.0,147.7 1068.5,151.2 1069.0,154.7 1069.4,157.9 1069.9,160.9 1070.3,163.6 1070.7,166.0 1071.1,168.9 1071.5,172.3 1071.9,176.1 1072.3,180.3 1072.7,184.2 1073.0,187.7 1073.3,190.9 1073.6,193.8 1073.8,196.3 1073.9,198.7 1074.0,200.7 1074.0,202.5 1074.2,204.9 1074.5,207.9 1074.9,211.6 1075.6,215.8 1076.3,219.6 1077.1,222.8 1078.0,225.4 1079.1,227.6 1080.1,229.4 1081.1,230.8 1082.1,232.0 1083.1,232.8 1084.1,233.6 1085.1,234.4 1086.1,235.1 1087.2,235.8 1088.2,237.2 1089.2,239.3 1090.2,242.0 1091.2,245.5 1092.1,247.7 1093.0,248.8 1093.7,248.6 1094.4,247.2 1095.2,245.4 1096.2,243.3 1097.4,240.8 1098.8,238.0 1100.1,235.3 1101.5,232.8 1102.8,230.5 1104.2,228.3 1105.5,225.8 1106.9,223.2 1108.2,220.3 1109.6,217.2 1110.9,214.1 1112.3,211.0 1113.6,207.7 1115.0,204.5 1116.2,201.3 1117.2,198.2 1118.0,195.2 1118.7,192.3 1119.2,190.2 1119.5,188.9 1119.7,188.5 1119.7,189.0 1119.8,188.8 1119.9,187.9 1120.2,186.4 1120.5,184.3 1120.8,181.8 1121.3,179.1 1121.9,176.1 1122.6,172.8 1123.3,169.3 1124.0,165.5 1124.8,161.6 1125.7,157.4 1126.5,153.5 1127.4,149.8 1128.2,146.4 1129.1,143.2 1130.0,139.5 1130.9,135.2 1131.9,130.4 1132.9,124.9 1133.9,121.6 1134.8,120.5 1135.6,121.4 1136.4,124.5 1137.2,127.7 1137.9,130.9 1138.6,134.1 1139.3,137.4 1139.9,141.0 1140.5,145.1 1141.1,149.5 1141.7,154.4 1142.2,159.2 1142.7,164.1 1143.1,169.0 1143.5,173.9 1143.9,178.8 1144.3,183.7 1144.6,188.7 1145.0,193.7 1145.5,198.2 1146.3,202.3 1147.2,205.8 1148.3,209.0 1149.5,211.2 1150.8,212.7 1152.2,213.3 1153.6,213.0 1155.1,213.1 1156.5,213.6 1158.0,214.4 1159.4,215.6 1160.8,216.7 1162.0,217.7 1163.2,218.5 1164.3,219.1 1165.3,219.9 1166.2,220.9 1167.0,222.0 1167.7,223.3 1168.4,223.5 1169.2,222.9 1169.9,221.3 1170.6,218.7 1171.3,216.1 1172.1,213.4 1172.8,210.6 1173.5,207.7 1174.2,205.3 1174.9,203.3 1175.6,201.7 1176.4,200.5 1177.1,200.0 1177.8,200.3 1178.5,201.4 1179.2,203.2 1179.9,204.2 1180.6,204.5 1181.3,204.0 1181.9,202.7 1182.5,200.8 1183.0,198.2 1183.5,195.0 1183.9,191.0 1184.3,187.5 1184.8,184.3 1185.2,181.5 1185.7,179.1 1186.2,178.1 1186.8,178.5 1187.4,180.4 1188.1,183.6 1188.6,186.3 1188.9,188.3 1189.1,189.7 1189.1,190.5 1189.2,191.0 1189.4,191.2 1189.6,191.2 1190.0,190.9 1190.4,189.6 1190.8,187.3 1191.3,184.0 1191.8,179.7 1192.3,174.6 1192.8,168.6 1193.3,161.7 1193.8,154.0 1194.3,146.9 1194.9,140.3 1195.5,134.3 1196.2,128.9 1196.9,124.2 1197.7,120.2 1198.5,116.9 1199.4,114.3 1200.2,111.6 1201.1,108.8 1201.9,105.8 1202.7,102.7 1203.5,101.2 1204.2,101.3 1204.9,103.0 1205.6,106.2 1206.3,109.6 1206.9,113.1 1207.6,116.8 1208.3,120.6 1208.9,125.1 1209.5,130.3 1210.1,136.1 1210.7,142.7 1211.2,148.3 1211.6,153.2 1211.9,157.2 1212.2,160.3 1212.4,162.7 1212.5,164.2 1212.6,165.0 1212.6,165.0 1212.7,164.9 1213.0,164.7 1213.4,164.3 1213.9,163.9 1214.4,164.6 1215.0,166.3 1215.5,169.1 1216.1,173.1 1216.6,176.5 1217.0,179.4 1217.3,181.8 1217.6,183.7 1217.8,186.4 1218.0,189.9 1218.1,194.2 1218.1,199.2 1218.3,203.7 1218.6,207.4 1219.1,210.5 1219.6,213.0 1220.4,214.9 1221.4,216.1 1222.7,216.8 1224.1,216.8 1225.4,217.1 1226.6,217.7 1227.6,218.5 1228.4,219.6 1229.2,221.1 1229.9,222.8 1230.6,224.8 1231.2,227.2 1231.9,229.4 1232.6,231.4 1233.4,233.2 1234.2,234.8 1235.1,236.5 1235.9,238.2 1236.8,239.9 1237.7,241.6 1238.6,242.6 1239.4,242.9 1240.3,242.4 1241.2,241.2 1242.0,240.7 1242.7,240.9 1243.4,241.8 1243.9,243.3 1244.5,245.1 1245.1,247.1 1245.7,249.3 1246.2,251.8 1246.7,253.7 1247.0,255.1 1247.1,256.1 1247.1,256.5 1247.1,256.8 1247.2,256.9 1247.3,256.9 1247.5,256.8 1247.7,256.6 1248.0,256.4 1248.5,256.2 1249.0,255.9 1249.3,257.4 1249.6,260.5 1249.7,265.3 1249.7,271.9 1249.7,276.5 1249.8,279.1 1249.8,279.9 1249.9,278.7 1250.1,276.5 1250.4,273.3 1250.9,269.1 1251.4,263.8 1252.0,258.6 1252.6,253.3 1253.2,248.0 1253.7,242.7 1254.3,238.1 1254.8,234.3 1255.3,231.2 1255.8,228.9 1256.1,224.6 1256.4,218.4 1256.5,210.3 1256.5,200.3 1256.7,192.2 1257.0,186.1 1257.5,182.0 1258.2,180.0 1258.9,177.5 1259.5,174.8 1260.2,171.7 1260.9,168.4 1261.6,165.0 1262.2,161.5 1262.9,158.1 1263.6,154.6 1264.3,151.3 1264.9,148.1 1265.6,145.1 1266.3,142.2 1267.0,139.7 1267.8,137.4 1268.5,135.4 1269.4,133.7 1270.1,133.3 1270.8,134.1 1271.4,136.2 1271.9,139.5 1272.5,142.8 1273.1,146.2 1273.7,149.7 1274.4,153.1 1275.1,156.4 1275.7,159.3 1276.4,162.0 1277.1,164.5 1277.7,167.0 1278.3,169.7 1278.8,172.4 1279.3,175.1 1279.7,177.7 1280.2,179.9 1280.6,181.8 1281.0,183.5 1281.3,186.2 1281.5,189.9 1281.6,194.6 1281.6,200.4 1281.7,205.3 1281.8,209.5 1282.1,212.8 1282.4,215.4 1282.9,217.3 1283.6,218.7 1284.5,219.4 1285.6,219.6 1286.6,219.2 1287.5,218.4 1288.3,217.1 1289.0,215.3 1289.7,214.7 1290.5,215.2 1291.2,216.9 1291.9,219.7 1292.6,221.3 1293.4,221.5 1294.1,220.5 1294.8,218.2 1295.5,216.6 1296.3,215.6 1297.0,215.2 1297.7,215.5 1298.4,216.5 1299.2,218.3 1299.9,220.8 1300.6,224.1 1301.4,226.7 1302.3,228.7 1303.3,230.0 1304.4,230.7 1305.5,230.8 1306.6,230.5 1307.7,229.6 1308.8,228.1 1309.8,226.8 1310.9,225.6 1312.0,224.6 1313.1,223.6 1314.1,222.9 1315.0,222.3 1315.8,221.9 1316.5,221.7 1317.2,221.4 1317.7,221.0 1318.2,220.5 1318.7,219.8 1319.0,219.4 1319.2,219.0 1319.3,218.9 1319.3,218.9 1319.4,218.7 1319.5,218.4 1319.8,218.0 1320.1,217.4 1320.4,216.1 1320.9,214.0 1321.4,211.1 1321.9,207.6 1322.4,204.2 1322.9,201.1 1323.2,198.3 1323.5,195.7 1323.7,193.5 1323.8,191.8 1323.9,190.6 1323.9,189.7 1324.0,187.9 1324.2,184.9 1324.4,180.9 1324.8,175.8 1325.2,170.4 1325.6,164.7 1326.1,158.6 1326.7,152.1 1327.2,145.5 1327.7,138.6 1328.2,131.4 1328.6,124.0 1329.1,117.0 1329.7,110.5 1330.3,104.3 1331.0,98.6 1331.7,93.0 1332.3,87.3 1333.0,81.8 1333.7,76.2 1334.3,71.5 1334.9,67.5 1335.4,64.4 1335.9,62.0 1336.4,59.9 1336.9,58.2 1337.4,56.9 1338.0,55.9 1338.6,55.3 1339.2,55.2 1339.8,55.5 1340.5,56.2 1341.1,57.2 1341.7,58.4 1342.3,59.8 1342.8,61.5 1343.4,63.7 1344.0,66.4 1344.6,69.6 1345.3,73.4 1346.0,77.4 1346.6,81.5 1347.3,85.8 1348.0,90.3 1348.6,95.1 1349.2,100.0 1349.7,105.2 1350.2,110.6 1350.6,116.2 1351.0,122.1 1351.4,128.2 1351.8,134.6 1352.1,141.0 1352.5,147.4 1352.8,153.8 1353.1,160.3 1353.5,166.4 1353.8,172.0 1354.2,177.2 1354.6,182.1 1354.9,185.9 1355.2,188.7 1355.4,190.5 1355.5,191.3 1355.7,192.9 1355.9,195.1 1356.2,198.1 1356.5,201.8 1356.8,205.9 1357.1,210.3 1357.5,215.1 1358.0,220.4 1358.4,225.1 1358.8,229.5 1359.2,233.4 1359.5,236.9 1359.8,239.6 1360.0,241.7 1360.2,243.1 1360.2,243.7 1360.3,243.6 1360.3,242.7 1360.3,241.0 1360.3,238.6 1360.4,237.4 1360.7,237.4 1361.1,238.7 1361.6,241.1 1362.3,242.8 1363.1,243.6 1364.0,243.5 1365.1,242.6 1366.2,242.1 1367.2,241.9 1368.3,242.1 1369.4,242.7 1370.4,243.9 1371.3,245.7 1372.1,248.2 1372.8,251.4 1373.6,254.1 1374.5,256.3 1375.6,258.2 1376.6,259.6 1377.6,260.4 1378.5,260.7 1379.3,260.5 1380.0,259.7 1380.8,259.5 1381.7,259.7 1382.8,260.5 1383.9,261.8 1384.9,263.0 1386.0,264.3 1387.1,265.5 1388.2,266.8 1389.3,267.8 1390.3,268.7 1391.4,269.3 1392.5,269.8 1393.4,269.4 1394.1,268.1 1394.7,265.9 1395.0,262.8 1395.3,260.5 1395.5,259.0 1395.6,258.2 1395.6,258.2 1395.7,257.6 1395.8,256.3 1396.0,254.4 1396.3,251.9 1396.6,248.8 1397.1,245.1 1397.6,240.9 1398.2,236.0 1398.8,231.5 1399.4,227.2 1400.0,223.2 1400.5,219.6 1401.1,216.2 1401.6,213.1 1402.2,210.3 1402.7,207.8 1403.1,205.1 1403.4,202.2 1403.7,199.0 1404.0,195.6 1404.2,193.0 1404.4,191.2 1404.5,190.2 1404.7,190.0 1404.9,188.7 1405.1,186.5 1405.4,183.2 1405.7,178.9 1406.1,175.2 1406.5,172.1 1407.0,169.6 1407.6,167.8 1408.1,166.3 1408.7,165.1 1409.3,164.3 1409.9,163.8 1410.5,163.6 1411.2,163.6 1411.9,163.8 1412.7,164.3 1413.4,165.2 1414.1,166.5 1414.7,168.2 1415.3,170.4 1415.9,172.5 1416.4,174.7 1416.8,176.7 1417.2,178.8 1417.6,180.7 1417.9,182.6 1418.2,184.3 1418.5,185.9 1418.7,187.4 1418.9,188.9 1418.9,190.2 1419.0,191.5 1419.1,193.5 1419.4,196.2 1419.8,199.7 1420.2,203.9 1420.8,208.3 1421.3,213.0 1421.9,217.9 1422.4,223.1 1423.0,227.9 1423.5,232.2 1424.0,236.1 1424.4,239.6 1424.8,241.8 1425.0,242.8 1425.1,242.4 1425.1,240.7 1425.1,239.9 1425.2,239.8 1425.4,240.5 1425.6,241.9 1425.9,243.1 1426.4,244.1 1427.0,244.9 1427.7,245.5 1428.4,246.1 1429.2,246.9 1429.9,247.7 1430.6,248.7 1431.4,249.1 1432.3,248.9 1433.3,248.1 1434.4,246.7 1435.5,245.5 1436.6,244.3 1437.6,243.3 1438.8,242.4 1439.8,241.9 1440.9,241.9 1442.0,242.4 1443.1,243.3 1443.9,244.1 1444.4,244.8 1444.7,245.4 1444.7,245.8 1444.9,245.6 1445.2,244.7 1445.8,243.2 1446.5,241.0 1447.3,238.5 1448.2,235.9 1449.2,233.1 1450.3,230.1 1451.4,227.2 1452.5,224.2 1453.6,221.3 1454.6,218.4 1455.7,215.5 1456.8,212.7 1457.9,209.9 1459.0,207.1 1460.0,204.3 1460.9,201.5 1461.7,198.7 1462.4,195.8 1463.0,193.6 1463.4,191.8 1463.6,190.6 1463.8,190.0 1463.9,188.6 1464.2,186.3 1464.5,183.2 1464.9,179.2 1465.4,175.2 1465.9,171.3 1466.5,167.3 1467.2,163.4 1467.9,159.6 1468.5,156.0 1469.2,152.6 1469.9,149.3 1470.6,146.0 1471.2,142.8 1471.9,139.5 1472.6,136.2 1473.3,132.7 1473.9,128.7 1474.6,124.5 1475.3,120.0 1476.0,116.2 1476.6,113.2 1477.3,111.0 1478.0,109.6 1478.7,108.5 1479.3,107.5 1480.0,106.8 1480.7,106.3 1481.3,104.9 1481.9,102.7 1482.5,99.5 1483.1,95.5 1483.6,91.9 1484.2,88.8 1484.8,86.2 1485.4,84.0 1486.0,82.8 1486.6,82.5 1487.2,83.1 1487.8,84.6 1488.4,86.3 1489.0,88.2 1489.6,90.3 1490.3,92.5 1490.8,95.7 1491.3,99.9 1491.7,105.0 1492.0,111.2 1492.3,117.1 1492.7,122.8 1493.0,128.3 1493.4,133.5 1493.7,138.7 1494.1,143.7 1494.4,148.6 1494.7,153.3 1495.0,158.6 1495.2,164.5 1495.3,170.9 1495.3,177.9 1495.3,183.3 1495.3,187.1 1495.3,189.4 1495.3,190.1 1495.3,191.6 1495.3,194.0 1495.3,197.2 1495.3,201.2 1495.3,204.3 1495.3,206.3 1495.3,207.3 1495.3,207.3 1495.3,333.0" fill="#7f7f7f" />
<polygon points="808.6,333.0 808.6,209.4 808.6,209.4 808.6,206.9 808.6,201.8 808.6,194.2 808.6,184.0 808.6,177.6 808.6,174.8 809.1,175.8 809.8,180.5 810.5,184.5 811.1,187.8 811.8,190.5 812.5,192.6 813.2,194.3 813.8,195.6 814.5,196.7 815.2,197.4 815.9,198.0 816.8,198.5 817.7,198.9 818.7,199.2 819.7,199.2 820.7,199.1 821.7,198.8 822.8,198.3 823.6,198.0 824.4,198.1 825.0,198.5 825.5,199.3 826.0,200.4 826.4,201.9 826.9,203.9 827.3,206.3 827.7,208.3 827.9,209.7 828.0,210.7 828.0,211.2 828.0,211.6 828.1,211.7 828.1,211.6 828.2,211.3 828.4,210.5 828.6,209.1 829.0,207.2 829.5,204.7 829.9,202.8 830.2,201.4 830.5,200.5 830.7,200.1 831.0,198.5 831.5,195.7 832.0,191.8 832.7,186.6 833.4,181.4 834.0,176.0 834.7,170.4 835.4,164.8 836.1,159.2 836.9,153.8 837.7,148.4 838.6,143.2 839.4,138.1 840.3,133.0 841.1,128.1 841.9,123.3 842.7,118.6 843.5,114.2 844.3,109.8 845.2,105.7 846.0,102.0 846.8,98.6 847.5,95.6 848.3,92.9 849.0,91.6 849.8,91.7 850.6,93.1 851.4,95.8 852.2,98.5 852.9,101.2 853.6,103.8 854.3,106.4 854.9,109.2 855.5,112.2 856.1,115.3 856.6,118.6 857.1,122.4 857.6,126.5 858.1,131.1 858.6,136.1 859.1,141.2 859.6,146.4 860.1,151.7 860.7,157.1 861.1,161.2 861.4,163.9 861.5,165.2 861.5,165.2 861.6,165.5 861.7,166.2 862.0,167.2 862.3,168.6 862.7,170.1 863.1,171.8 863.5,173.8 864.0,175.9 864.5,178.1 865.1,180.2 865.7,182.4 866.4,184.6 867.1,186.3 868.0,187.6 868.9,188.4 870.0,188.8 871.1,188.9 872.3,189.0 873.5,188.8 874.9,188.6 876.1,188.6 877.1,189.1 877.9,189.9 878.6,191.1 879.2,192.4 879.6,193.7 880.0,195.2 880.2,196.7 880.5,198.0 880.6,199.0 880.8,199.8 881.0,200.3 881.2,201.5 881.5,203.3 881.9,205.9 882.4,209.1 882.9,212.4 883.5,215.7 884.1,219.1 884.8,222.6 885.5,225.9 886.2,229.1 887.0,232.2 887.8,235.1 888.7,237.2 889.5,238.5 890.5,238.9 891.5,238.5 892.5,238.4 893.5,238.6 894.5,239.1 895.6,240.0 896.5,240.9 897.2,241.9 897.8,242.9 898.3,244.0 898.6,245.2 898.9,246.5 899.0,247.9 899.0,249.4 899.0,250.2 899.2,250.2 899.3,249.6 899.5,248.1 899.8,246.0 900.1,243.3 900.6,240.0 901.1,236.0 901.6,231.9 902.1,227.9 902.6,223.8 903.1,219.7 903.5,215.9 903.9,212.3 904.3,209.1 904.7,206.1 904.9,203.7 905.1,201.8 905.2,200.5 905.2,199.7 905.3,198.2 905.4,195.8 905.7,192.8 906.0,188.9 906.4,184.9 906.9,180.7 907.5,176.4 908.2,171.9 908.9,167.4 909.5,162.8 910.2,158.1 910.9,153.4 911.6,148.6 912.2,143.7 912.9,138.8 913.6,133.8 914.3,129.3 914.9,125.3 915.6,121.8 916.3,118.8 917.0,116.0 917.7,113.5 918.5,111.2 919.4,109.1 920.2,108.0 920.9,107.8 921.7,108.6 922.4,110.4 923.1,112.4 923.8,114.6 924.5,117.1 925.2,119.8 925.8,122.7 926.4,125.8 927.0,129.0 927.6,132.4 928.1,135.9 928.6,139.5 929.1,143.3 929.6,147.2 930.0,151.5 930.4,156.2 930.8,161.2 931.1,166.5 931.5,171.5 931.9,176.1 932.3,180.3 932.8,184.0 933.2,187.4 933.6,190.4 934.0,193.1 934.3,195.4 934.6,197.3 934.8,198.7 934.9,199.7 935.0,200.2 935.1,201.9 935.4,204.8 935.7,208.7 936.1,213.8 936.5,218.6 936.8,223.1 937.1,227.2 937.4,231.0 937.6,233.7 937.7,235.2 937.8,235.6 937.8,234.8 937.9,234.8 938.0,235.8 938.2,237.5 938.5,240.2 938.8,242.0 939.1,243.1 939.4,243.4 939.7,242.9 940.2,242.3 940.9,241.5 941.7,240.6 942.8,239.6 943.8,239.2 944.8,239.4 945.8,240.1 946.8,241.5 947.7,243.3 948.6,245.4 949.3,247.9 950.0,250.8 950.7,253.9 951.3,257.2 952.0,260.8 952.7,264.5 953.5,268.0 954.3,271.3 955.2,274.3 956.3,277.1 957.4,279.3 958.6,281.1 959.8,282.5 961.2,283.3 962.4,283.9 963.6,284.3 964.7,284.4 965.7,284.3 966.6,283.5 967.3,282.0 967.9,279.9 968.4,277.0 968.7,274.9 969.0,273.5 969.1,272.8 969.1,272.8 969.1,272.2 969.2,271.0 969.2,269.2 969.3,266.9 969.5,263.6 969.8,259.5 970.3,254.5 970.9,248.6 971.5,243.1 972.0,237.9 972.5,233.0 973.0,228.5 973.4,223.8 973.9,218.9 974.3,214.0 974.7,208.8 975.0,204.5 975.3,201.1 975.5,198.5 975.6,196.8 975.8,195.0 976.1,192.9 976.4,190.6 976.9,188.2 977.4,185.0 977.9,180.9 978.5,176.1 979.2,170.4 979.9,164.8 980.6,159.3 981.4,153.8 982.2,148.4 983.0,143.4 983.7,138.7 984.4,134.4 985.1,130.5 985.8,126.9 986.7,123.7 987.6,120.8 988.6,118.2 989.6,117.0 990.5,117.0 991.4,118.3 992.3,120.9 993.1,123.8 993.9,127.0 994.6,130.6 995.3,134.4 996.0,138.6 996.6,143.0 997.3,147.7 998.0,152.7 998.7,157.4 999.3,161.8 1000.0,165.9 1000.7,169.6 1001.3,173.5 1001.9,177.5 1002.4,181.7 1002.9,186.0 1003.3,189.5 1003.7,192.2 1004.0,193.9 1004.3,194.9 1004.5,197.0 1004.7,200.3 1004.8,204.7 1004.9,210.2 1005.1,215.6 1005.4,220.8 1005.8,225.7 1006.3,230.5 1006.8,235.4 1007.3,240.5 1007.8,245.6 1008.3,250.9 1008.7,255.2 1009.1,258.3 1009.3,260.4 1009.6,261.4 1010.0,262.4 1010.7,263.6 1011.6,264.8 1012.8,266.1 1014.0,267.3 1015.2,268.5 1016.5,269.6 1017.9,270.6 1019.3,271.5 1020.8,272.4 1022.4,273.1 1024.1,273.8 1025.7,274.3 1027.2,274.7 1028.6,275.0 1030.0,275.2 1031.3,275.1 1032.7,275.0 1034.0,274.6 1035.4,274.0 1036.5,273.5 1037.4,273.0 1038.0,272.5 1038.4,272.0 1038.7,271.9 1038.9,272.2 1039.0,272.9 1039.0,273.9 1039.1,273.7 1039.3,272.2 1039.6,269.4 1040.0,265.3 1040.4,260.9 1040.9,256.1 1041.5,250.9 1042.1,245.5 1042.6,241.3 1042.9,238.6 1043.2,237.1 1043.3,237.1 1043.4,234.3 1043.5,228.9 1043.5,220.7 1043.5,209.8 1043.7,201.2 1044.0,194.9 1044.4,191.0 1045.1,189.3 1045.7,187.2 1046.3,184.7 1047.0,181.7 1047.7,178.3 1048.4,175.0 1049.0,171.7 1049.7,168.6 1050.3,165.6 1051.0,162.5 1051.6,159.5 1052.3,156.4 1053.0,153.4 1053.7,150.4 1054.3,147.4 1055.0,144.5 1055.7,141.7 1056.4,139.0 1057.1,136.5 1057.8,134.2 1058.6,132.1 1059.3,131.2 1060.1,131.5 1060.9,133.1 1061.7,135.9 1062.5,138.9 1063.3,142.1 1064.0,145.5 1064.8,149.0 1065.5,152.4 1066.2,155.6 1066.9,158.5 1067.6,161.3 1068.2,164.3 1068.8,167.6 1069.3,171.1 1069.8,174.9 1070.2,178.9 1070.7,183.1 1071.1,187.6 1071.5,192.3 1071.9,197.1 1072.4,202.1 1073.0,207.3 1073.5,212.6 1074.1,217.8 1074.7,222.8 1075.2,227.6 1075.7,232.3 1076.2,236.8 1076.7,241.2 1077.1,245.6 1077.6,249.8 1078.0,254.3 1078.5,259.1 1079.1,264.2 1079.7,269.6 1080.5,273.4 1081.5,275.6 1082.6,276.2 1084.0,275.1 1085.3,274.1 1086.7,273.1 1088.0,272.1 1089.4,271.2 1090.6,269.9 1091.8,268.5 1092.9,266.7 1093.9,264.7 1095.0,263.0 1096.2,261.7 1097.4,260.7 1098.8,260.0 1100.1,259.0 1101.5,257.6 1102.8,256.0 1104.2,254.0 1105.4,251.8 1106.6,249.5 1107.7,247.0 1108.8,244.3 1109.8,241.2 1110.8,237.7 1111.8,233.8 1112.8,229.5 1113.8,225.2 1114.8,221.1 1115.8,217.1 1116.9,213.2 1117.8,210.3 1118.7,208.5 1119.4,207.7 1120.1,207.9 1120.7,206.0 1121.2,202.0 1121.5,195.8 1121.8,187.5 1122.3,180.7 1123.0,175.4 1123.8,171.5 1124.8,169.2 1125.8,166.3 1126.8,162.9 1127.8,159.1 1128.9,154.7 1129.9,150.6 1130.9,146.8 1131.9,143.3 1132.9,140.0 1133.9,138.1 1134.9,137.7 1135.9,138.6 1137.0,141.0 1137.9,143.8 1138.8,147.0 1139.5,150.7 1140.2,154.9 1140.8,159.3 1141.4,163.8 1141.9,168.6 1142.3,173.5 1142.8,178.3 1143.1,183.1 1143.5,187.7 1143.9,192.1 1144.2,195.9 1144.4,199.0 1144.6,201.4 1144.7,203.0 1144.9,205.8 1145.2,209.7 1145.6,214.7 1146.1,220.8 1146.6,225.7 1147.3,229.3 1148.0,231.6 1148.8,232.7 1149.8,233.5 1150.9,233.9 1152.2,233.9 1153.6,233.6 1155.1,233.1 1156.5,232.5 1158.0,231.7 1159.4,230.8 1160.9,230.5 1162.3,230.9 1163.7,231.8 1165.2,233.5 1166.4,234.3 1167.5,234.5 1168.4,234.0 1169.1,232.7 1169.9,231.1 1170.8,229.3 1171.9,227.2 1173.0,224.9 1174.0,222.8 1175.1,220.9 1176.2,219.3 1177.3,218.0 1178.4,216.7 1179.4,215.4 1180.5,214.1 1181.6,212.9 1182.6,211.4 1183.5,209.6 1184.3,207.6 1185.0,205.3 1185.7,202.9 1186.5,200.4 1187.2,197.8 1187.9,195.0 1188.6,193.0 1189.1,191.6 1189.6,190.8 1189.9,190.7 1190.3,189.6 1190.8,187.3 1191.3,184.1 1191.8,179.8 1192.3,174.6 1192.8,168.6 1193.3,161.7 1193.8,154.0 1194.3,146.9 1194.9,140.3 1195.5,134.3 1196.2,128.9 1196.9,124.2 1197.7,120.2 1198.5,116.9 1199.4,114.3 1200.2,111.6 1201.1,108.8 1201.9,105.8 1202.7,102.7 1203.5,101.2 1204.2,101.3 1204.9,103.0 1205.6,106.2 1206.3,109.6 1206.9,113.1 1207.6,116.8 1208.3,120.6 1208.9,125.1 1209.5,130.3 1210.1,136.1 1210.7,142.6 1211.2,148.8 1211.7,154.8 1212.2,160.4 1212.7,165.7 1213.1,170.8 1213.5,175.7 1213.8,180.3 1214.1,184.7 1214.4,187.8 1214.7,189.7 1215.0,190.3 1215.4,189.7 1215.7,189.9 1216.1,190.9 1216.5,192.8 1217.0,195.5 1217.4,198.3 1217.8,201.3 1218.2,204.4 1218.7,207.8 1219.1,211.6 1219.4,215.9 1219.8,220.7 1220.1,226.1 1220.5,230.0 1221.1,232.6 1221.8,233.9 1222.7,233.7 1223.6,233.8 1224.6,234.1 1225.7,234.6 1226.9,235.3 1228.0,236.3 1229.0,237.5 1229.9,238.9 1230.8,240.5 1231.6,242.5 1232.3,244.8 1233.0,247.5 1233.5,250.5 1234.1,253.2 1234.7,255.7 1235.3,257.9 1235.8,259.9 1236.5,261.1 1237.2,261.6 1238.0,261.3 1238.8,260.3 1239.8,259.5 1240.8,258.9 1241.9,258.5 1243.0,258.3 1244.1,258.0 1245.0,257.7 1245.9,257.3 1246.6,256.9 1247.3,256.5 1247.9,256.2 1248.5,256.0 1249.0,255.8 1249.3,257.3 1249.6,260.5 1249.7,265.3 1249.7,271.9 1249.7,276.5 1249.8,279.1 1249.8,279.9 1249.9,278.7 1250.1,276.5 1250.4,273.3 1250.9,269.1 1251.4,263.8 1252.0,258.6 1252.6,253.3 1253.2,248.0 1253.7,242.7 1254.3,238.1 1254.8,234.3 1255.3,231.2 1255.8,228.9 1256.1,224.6 1256.4,218.4 1256.5,210.3 1256.5,200.3 1256.7,192.2 1257.0,186.1 1257.5,182.0 1258.2,180.0 1258.9,177.5 1259.5,174.8 1260.2,171.7 1260.9,168.4 1261.6,165.0 1262.2,161.5 1262.9,158.1 1263.6,154.6 1264.3,151.3 1264.9,148.1 1265.6,145.1 1266.3,142.2 1267.0,139.7 1267.8,137.4 1268.5,135.4 1269.4,133.7 1270.1,133.3 1270.8,134.1 1271.4,136.2 1271.9,139.5 1272.5,142.8 1273.1,146.2 1273.7,149.7 1274.4,153.1 1275.1,156.4 1275.7,159.3 1276.4,162.0 1277.1,164.5 1277.7,167.0 1278.3,169.7 1278.8,172.4 1279.3,175.1 1279.7,177.7 1280.2,179.9 1280.6,181.8 1281.0,183.5 1281.3,186.2 1281.5,189.9 1281.6,194.6 1281.6,200.4 1281.7,205.3 1281.8,209.5 1282.1,212.8 1282.4,215.4 1282.9,217.3 1283.6,218.7 1284.5,219.4 1285.6,219.6 1286.6,219.2 1287.5,218.4 1288.3,217.1 1289.0,215.3 1289.7,214.7 1290.5,215.2 1291.2,216.9 1291.9,219.7 1292.6,221.3 1293.4,221.5 1294.1,220.5 1294.8,218.2 1295.5,216.6 1296.3,215.6 1297.0,215.2 1297.7,215.5 1298.4,216.5 1299.2,218.3 1299.9,220.8 1300.6,224.1 1301.4,226.7 1302.3,228.7 1303.3,230.0 1304.4,230.7 1305.5,230.8 1306.6,230.5 1307.7,229.6 1308.8,228.1 1309.8,226.8 1310.9,225.6 1312.0,224.6 1313.1,223.6 1314.1,222.9 1315.0,222.3 1315.8,221.9 1316.5,221.7 1317.2,221.4 1317.7,221.0 1318.2,220.5 1318.7,219.8 1319.0,219.4 1319.2,219.0 1319.3,218.9 1319.3,218.9 1319.4,218.7 1319.5,218.4 1319.8,218.0 1320.1,217.4 1320.4,216.1 1320.9,214.0 1321.4,211.1 1321.9,207.6 1322.4,204.2 1322.9,201.1 1323.2,198.3 1323.5,195.7 1323.7,193.5 1323.8,191.8 1323.9,190.6 1323.9,189.7 1324.0,187.9 1324.2,184.9 1324.4,180.9 1324.8,175.8 1325.2,170.4 1325.6,164.7 1326.1,158.6 1326.7,152.1 1327.2,145.5 1327.7,138.6 1328.2,131.4 1328.6,124.0 1329.1,117.0 1329.7,110.5 1330.3,104.3 1331.0,98.6 1331.7,93.0 1332.3,87.3 1333.0,81.8 1333.7,76.2 1334.3,71.5 1334.9,67.5 1335.4,64.4 1335.9,62.0 1336.4,59.9 1336.9,58.2 1337.4,56.9 1338.0,55.9 1338.6,55.3 1339.2,55.2 1339.8,55.5 1340.5,56.2 1341.1,57.2 1341.7,58.4 1342.3,59.8 1342.8,61.5 1343.4,63.7 1344.0,66.4 1344.6,69.6 1345.3,73.4 1346.0,77.4 1346.6,81.5 1347.3,85.8 1348.0,90.3 1348.6,95.1 1349.2,100.0 1349.7,105.2 1350.2,110.6 1350.6,116.2 1351.0,122.1 1351.4,128.2 1351.8,134.6 1352.1,141.0 1352.5,147.4 1352.8,153.8 1353.1,160.3 1353.5,166.4 1353.8,172.0 1354.2,177.2 1354.6,182.1 1354.9,185.9 1355.2,188.7 1355.4,190.5 1355.5,191.3 1355.7,192.9 1355.9,195.1 1356.2,198.1 1356.5,201.8 1356.8,205.9 1357.1,210.3 1357.5,215.1 1358.0,220.4 1358.4,225.1 1358.8,229.5 1359.2,233.4 1359.5,236.9 1359.8,239.6 1360.0,241.7 1360.2,243.1 1360.2,243.7 1360.3,243.6 1360.3,242.7 1360.3,241.0 1360.3,238.6 1360.4,237.4 1360.7,237.4 1361.1,238.7 1361.6,241.1 1362.3,242.8 1363.1,243.6 1364.0,243.5 1365.1,242.6 1366.2,242.1 1367.2,241.9 1368.3,242.1 1369.4,242.7 1370.4,243.9 1371.3,245.7 1372.1,248.2 1372.8,251.4 1373.6,254.1 1374.5,256.3 1375.6,258.2 1376.6,259.6 1377.6,260.4 1378.5,260.7 1379.3,260.5 1380.0,259.7 1380.8,259.5 1381.7,259.7 1382.8,260.5 1383.9,261.8 1384.9,263.0 1386.0,264.3 1387.1,265.5 1388.2,266.8 1389.3,267.8 1390.3,268.7 1391.4,269.3 1392.5,269.8 1393.4,269.4 1394.1,268.1 1394.7,265.9 1395.0,262.8 1395.3,260.5 1395.5,259.0 1395.6,258.2 1395.6,258.2 1395.7,257.6 1395.8,256.3 1396.0,254.4 1396.3,251.9 1396.6,248.8 1397.1,245.1 1397.6,240.9 1398.2,236.0 1398.8,231.5 1399.4,227.2 1400.0,223.2 1400.5,219.6 1401.1,216.2 1401.6,213.1 1402.2,210.3 1402.7,207.8 1403.1,205.1 1403.4,202.2 1403.7,199.0 1404.0,195.6 1404.2,193.0 1404.4,191.2 1404.5,190.2 1404.7,190.0 1404.9,188.7 1405.1,186.5 1405.4,183.2 1405.7,178.9 1406.1,175.2 1406.5,172.1 1407.0,169.6 1407.6,167.8 1408.1,166.3 1408.7,165.1 1409.3,164.3 1409.9,163.8 1410.5,163.6 1411.2,163.6 1411.9,163.8 1412.7,164.3 1413.4,165.2 1414.1,166.5 1414.7,168.2 1415.3,170.4 1415.9,172.5 1416.4,174.7 1416.8,176.7 1417.2,178.8 1417.6,180.7 1417.9,182.6 1418.2,184.3 1418.5,185.9 1418.7,187.4 1418.9,188.9 1418.9,190.2 1419.0,191.5 1419.1,193.5 1419.4,196.2 1419.8,199.7 1420.2,203.9 1420.8,208.3 1421.3,213.0 1421.9,217.9 1422.4,223.1 1423.0,227.9 1423.5,232.2 1424.0,236.1 1424.4,239.6 1424.8,241.8 1425.0,242.8 1425.1,242.4 1425.1,240.7 1425.1,239.9 1425.2,239.8 1425.4,240.5 1425.6,241.9 1425.9,243.1 1426.4,244.1 1427.0,244.9 1427.7,245.5 1428.4,246.1 1429.2,246.9 1429.9,247.7 1430.6,248.7 1431.4,249.1 1432.3,248.9 1433.3,248.1 1434.4,246.7 1435.5,245.5 1436.6,244.3 1437.6,243.3 1438.8,242.4 1439.8,241.9 1440.9,241.9 1442.0,242.4 1443.1,243.3 1443.9,244.1 1444.4,244.8 1444.7,245.4 1444.7,245.8 1444.9,245.6 1445.2,244.7 1445.8,243.2 1446.5,241.0 1447.3,238.5 1448.2,235.9 1449.2,233.1 1450.3,230.1 1451.4,227.2 1452.5,224.2 1453.6,221.3 1454.6,218.4 1455.7,215.5 1456.8,212.7 1457.9,209.9 1459.0,207.1 1460.0,204.3 1460.9,201.5 1461.7,198.7 1462.4,195.8 1463.0,193.6 1463.4,191.8 1463.6,190.6 1463.8,190.0 1463.9,188.6 1464.2,186.3 1464.5,183.2 1464.9,179.2 1465.4,175.2 1465.9,171.3 1466.5,167.3 1467.2,163.4 1467.9,159.6 1468.5,156.0 1469.2,152.6 1469.9,149.3 1470.6,146.0 1471.2,142.8 1471.9,139.5 1472.6,136.2 1473.3,132.7 1473.9,128.7 1474.6,124.5 1475.3,120.0 1476.0,116.2 1476.6,113.2 1477.3,111.0 1478.0,109.6 1478.7,108.5 1479.3,107.5 1480.0,106.8 1480.7,106.3 1481.3,104.9 1481.9,102.7 1482.5,99.5 1483.1,95.5 1483.6,91.9 1484.2,88.8 1484.8,86.2 1485.4,84.0 1486.0,82.8 1486.6,82.5 1487.2,83.1 1487.8,84.6 1488.4,86.3 1489.0,88.2 1489.6,90.3 1490.3,92.5 1490.8,95.7 1491.3,99.9 1491.7,105.0 1492.0,111.2 1492.3,117.1 1492.7,122.8 1493.0,128.3 1493.4,133.5 1493.7,138.7 1494.1,143.7 1494.4,148.6 1494.7,153.3 1495.0,158.6 1495.2,164.5 1495.3,170.9 1495.3,177.9 1495.3,183.3 1495.3,187.1 1495.3,189.4 1495.3,190.1 1495.3,191.6 1495.3,194.0 1495.3,197.2 1495.3,201.2 1495.3,204.3 1495.3,206.3 1495.3,207.3 1495.3,207.3 1495.3,333.0" fill="#f97f16" />
<polygon points="808.6,333.0 808.6,209.4 808.6,209.4 808.9,209.8 809.5,210.5 810.4,211.7 811.7,213.2 812.9,214.4 814.2,215.3 815.5,215.9 816.9,216.2 818.3,216.7 819.8,217.4 821.4,218.3 823.1,219.4 824.5,219.6 825.7,218.9 826.6,217.4 827.3,215.0 827.9,212.5 828.5,210.0 829.0,207.5 829.5,204.9 829.9,202.9 830.2,201.4 830.5,200.5 830.7,200.1 831.0,198.5 831.5,195.7 832.0,191.8 832.7,186.6 833.4,181.4 834.0,176.0 834.7,170.4 835.4,164.8 836.1,159.2 836.9,153.8 837.7,148.4 838.6,143.2 839.4,138.1 840.3,133.0 841.1,128.1 841.9,123.3 842.7,118.6 843.5,114.2 844.3,109.8 845.2,105.7 846.0,102.0 846.8,98.6 847.5,95.6 848.3,92.9 849.0,91.6 849.8,91.7 850.6,93.1 851.4,95.8 852.2,98.5 852.9,101.2 853.6,103.8 854.3,106.4 854.9,109.2 855.5,112.2 856.1,115.3 856.6,118.6 857.1,122.4 857.6,126.5 858.1,131.1 858.6,136.1 859.1,141.3 859.6,146.6 860.1,152.0 860.7,157.5 861.3,163.1 861.9,168.6 862.5,174.2 863.2,179.7 863.8,184.5 864.5,188.7 865.1,192.2 865.7,195.0 866.2,197.2 866.6,198.7 866.9,199.7 867.1,200.1 867.4,201.7 867.8,204.5 868.2,208.5 868.8,213.7 869.4,217.6 870.1,220.2 870.8,221.5 871.6,221.4 872.5,221.6 873.4,222.2 874.3,223.0 875.4,224.0 876.4,225.8 877.4,228.2 878.4,231.4 879.4,235.2 880.4,238.8 881.4,242.1 882.4,245.1 883.5,247.8 884.5,250.2 885.5,252.4 886.5,254.3 887.5,255.9 888.5,257.4 889.5,258.8 890.5,260.0 891.5,261.1 892.5,262.2 893.4,263.4 894.3,264.6 895.2,265.8 895.9,266.2 896.5,265.6 897.0,264.1 897.4,261.7 897.8,259.2 898.2,256.5 898.6,253.7 899.1,250.7 899.6,247.4 900.1,243.9 900.6,240.1 901.1,236.1 901.6,232.0 902.1,227.9 902.6,223.8 903.1,219.7 903.5,215.9 903.9,212.3 904.3,209.1 904.7,206.1 904.9,203.7 905.1,201.8 905.2,200.5 905.2,199.7 905.3,198.2 905.4,195.8 905.7,192.8 906.0,188.9 906.4,184.9 906.9,180.7 907.5,176.4 908.2,171.9 908.9,167.4 909.5,162.8 910.2,158.1 910.9,153.4 911.6,148.6 912.2,143.7 912.9,138.8 913.6,133.8 914.3,129.3 914.9,125.3 915.6,121.8 916.3,118.8 917.0,116.0 917.7,113.5 918.5,111.2 919.4,109.1 920.2,108.0 920.9,107.8 921.7,108.6 922.4,110.4 923.1,112.4 923.8,114.6 924.5,117.1 925.2,119.8 925.8,122.7 926.4,125.8 927.0,129.0 927.6,132.4 928.1,135.9 928.6,139.5 929.1,143.3 929.6,147.2 930.0,151.5 930.4,156.2 930.8,161.2 931.1,166.5 931.5,171.5 931.9,176.1 932.3,180.3 932.8,184.0 933.2,187.4 933.6,190.4 934.0,193.1 934.3,195.4 934.6,197.3 934.8,198.7 934.9,199.7 935.0,200.2 935.1,201.9 935.4,204.7 935.7,208.7 936.1,213.8 936.5,219.0 936.9,224.2 937.3,229.6 937.7,235.1 938.1,240.8 938.5,246.5 938.9,252.4 939.4,258.4 940.0,263.1 940.9,266.5 942.1,268.7 943.5,269.5 944.8,270.8 946.0,272.5 947.1,274.6 948.2,277.1 949.2,279.6 950.2,282.1 951.2,284.7 952.2,287.2 953.3,289.5 954.5,291.7 955.7,293.6 957.1,295.2 958.4,296.7 959.8,297.8 961.1,298.7 962.5,299.3 963.6,299.8 964.6,300.0 965.3,300.0 965.9,299.9 966.4,299.0 966.8,297.5 967.1,295.2 967.3,292.2 967.7,288.5 968.1,284.1 968.5,278.9 969.1,272.9 969.6,266.9 970.2,261.0 970.8,254.9 971.4,248.9 972.0,243.2 972.5,237.9 973.0,232.8 973.5,228.2 974.0,223.4 974.4,218.5 974.9,213.5 975.4,208.3 975.8,204.4 976.1,201.6 976.3,200.1 976.4,199.7 976.6,198.3 977.0,195.9 977.4,192.4 978.0,187.9 978.6,183.2 979.2,178.5 979.8,173.8 980.5,168.9 981.2,164.1 982.0,159.4 982.8,154.7 983.7,150.2 984.7,145.9 985.7,142.0 986.9,138.5 988.2,135.3 989.5,133.7 990.8,133.8 992.1,135.5 993.3,138.9 994.5,142.9 995.5,147.5 996.4,152.5 997.1,158.2 997.8,163.5 998.5,168.5 999.2,173.1 999.9,177.3 1000.5,181.5 1001.1,185.5 1001.6,189.4 1002.1,193.2 1002.5,196.2 1002.7,198.4 1002.9,199.8 1003.0,200.4 1003.1,201.7 1003.4,203.9 1003.7,206.8 1004.1,210.5 1004.5,214.6 1005.0,219.2 1005.5,224.2 1006.1,229.6 1006.6,234.9 1007.2,240.2 1007.7,245.5 1008.2,250.7 1008.7,256.0 1009.1,261.4 1009.5,267.0 1009.9,272.6 1010.3,276.9 1010.8,279.9 1011.4,281.7 1012.1,282.1 1012.9,282.6 1013.9,283.1 1015.1,283.7 1016.4,284.3 1017.7,284.8 1019.1,285.3 1020.4,285.8 1021.8,286.3 1023.3,286.7 1025.0,287.1 1026.8,287.5 1028.9,288.0 1030.7,288.4 1032.3,288.8 1033.7,289.3 1035.0,289.7 1036.0,289.5 1036.8,288.7 1037.4,287.3 1037.8,285.2 1038.2,282.3 1038.7,278.4 1039.2,273.5 1039.8,267.7 1040.3,262.1 1040.9,256.5 1041.5,251.1 1042.1,245.7 1042.7,240.3 1043.2,235.0 1043.7,229.6 1044.2,224.2 1044.6,219.3 1045.0,214.7 1045.4,210.5 1045.7,206.8 1046.0,203.9 1046.2,201.8 1046.3,200.6 1046.4,200.2 1046.5,199.1 1046.6,197.1 1046.7,194.3 1046.8,190.7 1047.1,187.2 1047.4,183.8 1047.9,180.5 1048.6,177.4 1049.2,174.4 1049.8,171.6 1050.5,168.9 1051.2,166.3 1051.9,163.7 1052.5,161.0 1053.2,158.3 1053.9,155.5 1054.6,152.9 1055.2,150.4 1055.9,148.2 1056.6,146.2 1057.2,144.4 1057.8,142.8 1058.4,141.3 1058.9,140.0 1059.5,139.5 1060.1,139.8 1060.7,140.9 1061.4,142.8 1062.1,144.9 1062.7,147.3 1063.4,149.9 1064.1,152.8 1064.8,155.6 1065.4,158.2 1066.1,160.8 1066.8,163.2 1067.4,165.9 1068.0,168.9 1068.5,172.1 1069.0,175.6 1069.5,179.3 1069.9,183.3 1070.4,187.5 1070.9,192.0 1071.3,195.6 1071.5,198.2 1071.7,199.8 1071.7,200.5 1071.9,201.8 1072.1,203.9 1072.5,206.7 1073.0,210.3 1073.5,214.3 1074.0,218.8 1074.5,223.9 1075.1,229.4 1075.6,235.0 1076.2,240.8 1076.8,246.7 1077.4,252.6 1077.9,258.3 1078.4,263.8 1078.9,268.9 1079.3,273.8 1079.7,278.2 1080.0,282.0 1080.3,285.2 1080.6,287.8 1081.0,289.9 1081.6,291.3 1082.3,292.1 1083.2,292.3 1084.1,292.1 1085.1,291.6 1086.0,290.7 1087.1,289.5 1088.2,288.2 1089.4,286.7 1090.6,285.1 1092.0,283.3 1093.3,281.7 1094.7,280.1 1096.0,278.6 1097.4,277.2 1098.7,276.0 1100.1,275.0 1101.4,274.2 1102.7,273.6 1104.0,272.9 1105.1,272.1 1106.2,271.3 1107.3,270.3 1108.3,268.7 1109.3,266.4 1110.3,263.4 1111.3,259.8 1112.3,256.0 1113.3,252.0 1114.3,247.9 1115.4,243.5 1116.4,239.3 1117.4,235.2 1118.4,231.3 1119.4,227.6 1120.3,223.9 1121.2,220.4 1121.9,216.9 1122.6,213.4 1123.2,210.5 1123.6,208.0 1124.0,206.0 1124.3,204.4 1124.5,202.8 1124.7,201.0 1124.8,199.2 1124.9,197.4 1125.0,195.4 1125.1,193.4 1125.2,191.3 1125.3,189.1 1125.6,186.5 1126.1,183.5 1126.8,180.0 1127.7,176.1 1128.5,172.3 1129.4,168.6 1130.2,165.0 1131.1,161.5 1131.8,158.4 1132.6,155.9 1133.3,153.8 1134.0,152.3 1134.7,151.4 1135.3,151.3 1136.0,152.0 1136.6,153.4 1137.3,155.4 1137.9,158.2 1138.6,161.7 1139.3,166.0 1139.9,170.2 1140.4,174.5 1140.9,178.7 1141.4,183.0 1141.7,186.8 1142.1,190.1 1142.4,193.0 1142.6,195.4 1142.8,197.3 1143.0,198.8 1143.1,199.8 1143.2,200.3 1143.4,202.1 1143.6,204.9 1144.0,208.9 1144.5,214.1 1145.0,219.3 1145.5,224.5 1146.0,229.7 1146.6,234.9 1147.1,239.9 1147.5,244.6 1147.9,249.0 1148.2,253.2 1148.5,256.7 1148.9,259.4 1149.2,261.4 1149.5,262.7 1150.1,263.7 1151.0,264.5 1152.2,265.0 1153.6,265.2 1155.1,265.0 1156.5,264.3 1158.0,263.3 1159.4,261.8 1160.9,260.2 1162.3,258.5 1163.7,256.5 1165.2,254.5 1166.6,252.7 1168.0,251.3 1169.5,250.3 1170.9,249.6 1172.4,249.2 1173.8,249.3 1175.3,249.8 1176.7,250.7 1178.1,251.0 1179.3,250.5 1180.5,249.4 1181.6,247.6 1182.6,245.4 1183.5,242.8 1184.3,239.7 1185.0,236.3 1185.7,232.7 1186.5,228.8 1187.2,224.6 1187.9,220.1 1188.6,215.8 1189.2,211.5 1189.9,207.3 1190.4,203.2 1190.9,199.9 1191.3,197.2 1191.6,195.2 1191.9,194.0 1192.1,192.6 1192.2,191.2 1192.4,189.7 1192.5,188.2 1192.6,185.9 1192.7,182.8 1192.8,179.0 1192.9,174.4 1193.1,169.3 1193.3,163.8 1193.6,157.9 1194.0,151.6 1194.4,146.0 1194.8,141.2 1195.2,137.3 1195.7,134.1 1196.3,131.3 1196.9,128.9 1197.7,126.9 1198.6,125.3 1199.5,123.3 1200.4,120.9 1201.4,118.2 1202.4,115.1 1203.4,113.5 1204.3,113.3 1205.1,114.5 1206.0,117.1 1206.7,120.2 1207.4,123.6 1208.0,127.4 1208.5,131.6 1209.0,136.0 1209.5,140.6 1209.9,145.3 1210.3,150.3 1210.7,155.3 1211.1,160.5 1211.5,165.9 1212.0,171.3 1212.3,176.1 1212.6,180.2 1212.9,183.6 1213.1,186.3 1213.4,188.2 1213.7,189.4 1214.1,189.7 1214.6,189.2 1215.0,189.5 1215.5,190.7 1215.9,192.6 1216.4,195.4 1216.8,198.3 1217.2,201.4 1217.7,204.5 1218.1,207.8 1218.5,211.3 1218.9,215.1 1219.2,219.1 1219.5,223.3 1219.8,227.6 1220.0,232.0 1220.2,236.4 1220.5,240.8 1220.7,244.7 1220.9,248.1 1221.1,251.0 1221.4,253.4 1221.7,255.2 1222.3,256.3 1223.0,256.7 1223.8,256.5 1224.7,257.6 1225.7,259.8 1226.8,263.2 1227.8,267.9 1228.9,272.0 1230.0,275.3 1231.1,278.0 1232.2,280.1 1233.3,281.9 1234.3,283.5 1235.4,284.8 1236.5,285.8 1237.7,286.7 1238.9,287.3 1240.3,287.8 1241.7,288.1 1243.1,288.4 1244.3,288.5 1245.5,288.5 1246.6,288.5 1247.5,287.8 1248.3,286.4 1248.9,284.4 1249.3,281.7 1249.8,278.4 1250.3,274.3 1250.9,269.6 1251.4,264.2 1252.0,258.8 1252.6,253.4 1253.2,248.0 1253.7,242.7 1254.3,237.4 1254.9,232.2 1255.6,227.1 1256.2,222.1 1256.9,217.4 1257.5,213.0 1258.1,208.9 1258.6,205.1 1259.1,201.6 1259.6,198.6 1259.9,195.9 1260.2,193.6 1260.5,191.7 1260.6,190.2 1260.7,189.0 1260.7,188.3 1260.8,186.6 1261.0,184.1 1261.3,180.8 1261.6,176.5 1262.1,172.4 1262.6,168.3 1263.2,164.2 1263.9,160.3 1264.6,156.8 1265.3,153.9 1266.0,151.5 1266.8,149.7 1267.5,148.0 1268.2,146.6 1268.9,145.3 1269.6,144.2 1270.2,143.9 1270.9,144.5 1271.5,145.9 1272.1,148.0 1272.7,150.6 1273.2,153.6 1273.7,156.9 1274.2,160.6 1274.7,164.3 1275.2,167.8 1275.7,171.3 1276.2,174.7 1276.7,177.9 1277.2,180.8 1277.7,183.4 1278.2,185.8 1278.6,187.7 1279.0,188.9 1279.3,189.7 1279.6,189.9 1279.9,190.9 1280.2,192.8 1280.6,195.5 1280.9,199.1 1281.3,202.9 1281.7,206.9 1282.0,211.0 1282.4,215.4 1282.9,220.3 1283.6,226.0 1284.5,232.3 1285.6,239.2 1286.7,244.7 1287.8,248.7 1288.9,251.2 1290.0,252.2 1291.0,252.6 1292.1,252.4 1293.2,251.5 1294.3,250.0 1295.4,248.6 1296.4,247.4 1297.5,246.2 1298.6,245.1 1299.8,244.0 1301.0,242.7 1302.4,241.4 1303.8,240.0 1305.3,238.5 1306.7,236.9 1308.2,235.2 1309.6,233.3 1311.1,231.5 1312.5,229.7 1314.0,228.0 1315.4,226.3 1316.7,224.7 1317.8,223.0 1318.7,221.3 1319.4,219.7 1320.1,217.5 1320.8,214.8 1321.4,211.6 1321.9,207.8 1322.4,204.3 1322.9,201.2 1323.2,198.3 1323.5,195.7 1323.7,193.5 1323.8,191.8 1323.9,190.6 1323.9,189.7 1324.0,187.9 1324.2,184.9 1324.4,180.9 1324.8,175.8 1325.2,170.4 1325.6,164.7 1326.1,158.6 1326.7,152.1 1327.2,145.5 1327.7,138.6 1328.2,131.4 1328.6,124.0 1329.1,117.0 1329.7,110.5 1330.3,104.3 1331.0,98.6 1331.7,93.0 1332.3,87.3 1333.0,81.8 1333.7,76.2 1334.3,71.5 1334.9,67.5 1335.4,64.4 1335.9,62.0 1336.4,59.9 1336.9,58.2 1337.4,56.9 1338.0,55.9 1338.6,55.3 1339.2,55.2 1339.8,55.5 1340.5,56.2 1341.1,57.2 1341.7,58.4 1342.3,59.8 1342.8,61.5 1343.4,63.7 1344.0,66.4 1344.6,69.6 1345.3,73.4 1346.0,77.4 1346.6,81.5 1347.3,85.8 1348.0,90.3 1348.6,95.1 1349.2,100.0 1349.7,105.2 1350.2,110.6 1350.6,116.2 1351.0,122.1 1351.4,128.2 1351.8,134.6 1352.1,141.0 1352.5,147.4 1352.8,153.8 1353.1,160.3 1353.5,166.4 1353.8,172.0 1354.2,177.2 1354.6,182.1 1354.9,185.9 1355.2,188.7 1355.4,190.5 1355.5,191.3 1355.7,192.9 1355.9,195.1 1356.2,198.1 1356.5,201.8 1356.8,205.9 1357.1,210.3 1357.5,215.1 1358.0,220.4 1358.4,225.2 1358.8,229.5 1359.2,233.5 1359.5,237.0 1359.9,240.0 1360.2,242.5 1360.4,244.5 1360.6,245.9 1360.9,248.0 1361.4,250.7 1362.0,253.9 1362.7,257.8 1363.4,261.0 1364.2,263.5 1364.9,265.4 1365.6,266.6 1366.4,267.8 1367.3,269.1 1368.3,270.4 1369.4,271.8 1370.5,273.2 1371.6,274.6 1372.6,276.2 1373.8,277.7 1374.8,279.1 1375.9,280.3 1377.0,281.3 1378.1,282.2 1379.2,282.5 1380.2,282.4 1381.3,281.7 1382.4,280.6 1383.5,279.9 1384.6,279.7 1385.6,280.0 1386.8,280.8 1387.8,281.2 1388.9,281.1 1390.0,280.7 1391.1,279.9 1392.0,278.3 1392.9,276.2 1393.6,273.3 1394.1,269.8 1394.7,266.1 1395.2,262.3 1395.6,258.3 1396.1,254.2 1396.5,249.9 1397.0,245.4 1397.6,240.8 1398.2,236.0 1398.8,231.4 1399.4,227.2 1400.0,223.2 1400.5,219.6 1401.1,216.2 1401.6,213.1 1402.2,210.3 1402.7,207.8 1403.1,205.1 1403.4,202.2 1403.7,199.0 1404.0,195.6 1404.2,193.0 1404.4,191.2 1404.5,190.2 1404.7,190.0 1404.9,188.7 1405.1,186.5 1405.4,183.2 1405.7,178.9 1406.1,175.2 1406.5,172.1 1407.0,169.6 1407.6,167.8 1408.1,166.3 1408.7,165.1 1409.3,164.3 1409.9,163.8 1410.5,163.6 1411.2,163.6 1411.9,163.8 1412.7,164.3 1413.4,165.2 1414.1,166.5 1414.7,168.2 1415.3,170.4 1415.9,172.5 1416.4,174.7 1416.8,176.7 1417.2,178.8 1417.6,180.7 1417.9,182.6 1418.2,184.3 1418.5,185.9 1418.7,187.4 1418.9,188.9 1418.9,190.2 1419.0,191.5 1419.1,193.5 1419.4,196.2 1419.8,199.7 1420.2,203.9 1420.8,208.3 1421.3,213.0 1421.9,218.0 1422.4,223.2 1423.0,228.2 1423.6,233.0 1424.2,237.6 1424.7,242.0 1425.3,245.8 1425.8,249.1 1426.3,251.8 1426.7,253.9 1427.2,256.0 1427.8,258.1 1428.5,260.2 1429.2,262.2 1429.9,264.3 1430.7,266.5 1431.4,268.6 1432.1,270.9 1432.8,272.1 1433.5,272.5 1434.3,271.9 1434.9,270.5 1435.7,269.0 1436.4,267.5 1437.1,266.0 1437.8,264.6 1438.5,263.1 1439.3,261.4 1440.0,259.7 1440.7,257.9 1441.4,256.0 1442.2,254.0 1442.9,251.9 1443.6,249.6 1444.3,247.4 1445.1,245.2 1445.8,243.0 1446.5,240.9 1447.3,238.5 1448.2,235.9 1449.2,233.1 1450.3,230.1 1451.4,227.2 1452.5,224.2 1453.6,221.3 1454.6,218.4 1455.7,215.5 1456.8,212.7 1457.9,209.9 1459.0,207.1 1460.0,204.3 1460.9,201.5 1461.7,198.7 1462.4,195.8 1463.0,193.6 1463.4,191.8 1463.6,190.6 1463.8,190.0 1463.9,188.6 1464.2,186.3 1464.5,183.2 1464.9,179.2 1465.4,175.2 1465.9,171.3 1466.5,167.3 1467.2,163.4 1467.9,159.6 1468.5,156.0 1469.2,152.6 1469.9,149.3 1470.6,146.0 1471.2,142.8 1471.9,139.5 1472.6,136.2 1473.3,132.7 1473.9,128.7 1474.6,124.5 1475.3,120.0 1476.0,116.2 1476.6,113.2 1477.3,111.0 1478.0,109.6 1478.7,108.5 1479.3,107.5 1480.0,106.8 1480.7,106.3 1481.3,104.9 1481.9,102.7 1482.5,99.5 1483.1,95.5 1483.6,91.9 1484.2,88.8 1484.8,86.2 1485.4,84.0 1486.0,82.8 1486.6,82.5 1487.2,83.1 1487.8,84.6 1488.4,86.3 1489.0,88.2 1489.6,90.3 1490.3,92.5 1490.8,95.7 1491.3,99.9 1491.7,105.0 1492.0,111.2 1492.3,117.1 1492.7,122.8 1493.0,128.3 1493.4,133.5 1493.7,138.7 1494.1,143.7 1494.4,148.6 1494.7,153.3 1495.0,158.6 1495.2,164.5 1495.3,170.9 1495.3,177.9 1495.3,183.3 1495.3,187.1 1495.3,189.4 1495.3,190.1 1495.3,191.6 1495.3,194.0 1495.3,197.2 1495.3,201.2 1495.3,204.3 1495.3,206.3 1495.3,207.3 1495.3,207.3 1495.3,333.0" fill="#0a1e9e" />
<polygon points="808.6,333.0 808.6,214.0 808.6,214.0 808.9,214.4 809.5,215.1 810.4,216.2 811.7,217.7 812.9,219.0 814.2,219.9 815.5,220.6 816.9,221.0 818.3,221.6 819.8,222.3 821.4,223.2 823.1,224.2 824.5,224.5 825.7,223.8 826.6,222.4 827.3,220.1 828.0,217.7 828.6,215.1 829.3,212.4 830.0,209.6 830.6,207.2 831.0,205.3 831.4,203.9 831.7,203.0 831.9,202.1 832.1,201.3 832.2,200.5 832.3,199.9 832.5,198.1 832.8,195.3 833.3,191.3 833.9,186.2 834.5,181.0 835.2,175.6 835.8,170.2 836.5,164.6 837.2,159.1 838.0,153.7 838.8,148.4 839.7,143.2 840.5,138.1 841.4,133.1 842.2,128.1 843.0,123.3 843.8,118.8 844.6,114.5 845.3,110.5 846.1,106.8 846.8,103.4 847.4,100.4 848.0,97.8 848.6,95.6 849.1,94.4 849.7,94.5 850.3,95.6 850.9,98.0 851.5,100.3 852.1,102.5 852.7,104.8 853.3,107.0 853.9,109.5 854.5,112.3 855.0,115.3 855.6,118.6 856.1,122.3 856.6,126.4 857.1,131.0 857.6,136.0 858.1,141.1 858.6,146.5 859.1,151.9 859.6,157.6 860.2,163.2 860.8,168.7 861.4,174.2 862.1,179.7 862.7,184.5 863.4,188.7 864.0,192.1 864.6,194.8 865.1,197.1 865.5,198.8 865.8,200.1 866.0,200.9 866.2,202.2 866.5,204.1 866.7,206.5 867.0,209.5 867.3,212.5 867.6,215.7 868.0,218.9 868.4,222.3 868.9,225.0 869.6,226.9 870.4,228.2 871.4,228.7 872.3,229.4 873.3,230.2 874.3,231.1 875.4,232.2 876.4,233.9 877.4,236.3 878.4,239.5 879.4,243.3 880.4,246.8 881.4,250.1 882.4,253.1 883.5,255.9 884.5,258.3 885.5,260.4 886.5,262.2 887.5,263.7 888.5,265.0 889.5,266.2 890.5,267.3 891.5,268.3 892.5,269.3 893.4,270.3 894.3,271.3 895.2,272.3 896.0,272.2 896.6,271.0 897.1,268.8 897.6,265.6 898.0,262.3 898.5,259.0 899.0,255.7 899.5,252.3 900.0,248.9 900.6,245.5 901.1,242.0 901.7,238.5 902.2,234.6 902.8,230.4 903.3,225.8 903.8,220.8 904.3,216.4 904.7,212.5 905.1,209.0 905.5,206.1 905.7,203.7 905.9,201.8 906.0,200.5 906.0,199.7 906.1,198.2 906.3,195.9 906.6,192.9 907.0,189.1 907.5,185.2 908.0,181.0 908.6,176.6 909.3,172.1 910.0,167.4 910.6,162.8 911.3,158.1 912.0,153.4 912.7,148.6 913.3,143.8 914.0,138.8 914.7,133.9 915.3,129.5 916.0,125.6 916.6,122.4 917.2,119.7 917.8,117.3 918.4,115.2 919.0,113.4 919.7,111.9 920.3,111.1 920.9,111.0 921.5,111.6 922.1,113.0 922.7,114.5 923.2,116.3 923.8,118.4 924.3,120.6 924.8,123.2 925.4,126.0 925.9,129.1 926.5,132.4 927.0,135.9 927.5,139.5 928.0,143.3 928.5,147.2 928.9,151.5 929.3,156.2 929.7,161.2 930.0,166.5 930.4,171.5 930.8,176.1 931.2,180.3 931.7,184.1 932.1,187.5 932.5,190.5 932.9,193.1 933.3,195.4 933.5,197.2 933.7,198.7 933.9,199.7 933.9,200.3 934.1,202.1 934.3,204.9 934.6,208.8 935.1,213.7 935.5,218.8 935.9,224.1 936.3,229.4 936.7,234.9 937.1,240.5 937.5,246.2 937.9,252.0 938.3,258.0 938.7,262.6 939.0,265.9 939.4,267.8 939.7,268.3 940.3,269.2 941.1,270.4 942.2,271.9 943.6,273.7 944.8,275.6 946.0,277.8 947.1,280.2 948.2,282.7 949.2,285.1 950.2,287.4 951.2,289.6 952.2,291.8 953.3,293.8 954.5,295.7 955.7,297.4 957.1,299.1 958.4,300.6 959.8,302.0 961.1,303.2 962.5,304.3 963.6,304.7 964.6,304.5 965.3,303.6 965.9,302.0 966.4,299.9 966.8,297.2 967.2,294.0 967.5,290.3 967.9,286.0 968.3,281.2 968.8,276.0 969.4,270.2 969.9,264.4 970.5,258.5 971.1,252.5 971.7,246.5 972.3,240.8 972.8,235.4 973.3,230.3 973.8,225.4 974.3,220.6 974.7,215.9 975.2,211.2 975.7,206.6 976.1,203.0 976.5,200.3 976.8,198.7 977.1,198.1 977.4,196.5 977.8,193.9 978.3,190.3 978.8,185.7 979.4,181.2 980.0,176.8 980.6,172.5 981.3,168.2 982.0,164.0 982.7,159.7 983.5,155.4 984.3,151.1 985.2,147.2 986.2,143.7 987.2,140.5 988.4,137.7 989.5,136.4 990.7,136.5 991.8,138.0 993.0,141.0 994.0,144.6 995.0,148.9 995.8,153.7 996.6,159.2 997.3,164.3 998.0,169.1 998.7,173.5 999.4,177.5 1000.0,181.5 1000.6,185.5 1001.1,189.4 1001.6,193.3 1002.0,196.3 1002.3,198.5 1002.5,199.8 1002.6,200.3 1002.8,201.5 1003.1,203.7 1003.4,206.6 1003.8,210.4 1004.2,214.6 1004.7,219.2 1005.2,224.2 1005.8,229.6 1006.3,234.9 1006.9,240.2 1007.4,245.5 1007.9,250.8 1008.4,255.9 1008.8,261.0 1009.2,266.0 1009.6,270.9 1009.9,275.2 1010.2,279.0 1010.5,282.3 1010.8,285.0 1011.4,287.4 1012.5,289.2 1013.9,290.7 1015.7,291.7 1017.4,292.7 1019.0,293.4 1020.4,294.1 1021.8,294.6 1023.3,295.1 1025.0,295.5 1026.8,295.9 1028.9,296.2 1030.7,296.6 1032.3,296.9 1033.7,297.4 1035.0,297.9 1036.0,297.2 1036.8,295.5 1037.4,292.7 1037.8,288.8 1038.2,284.5 1038.7,279.9 1039.2,275.0 1039.8,269.8 1040.3,264.3 1040.9,258.6 1041.5,252.7 1042.1,246.6 1042.7,240.6 1043.2,234.8 1043.7,229.1 1044.2,223.6 1044.7,218.5 1045.1,213.8 1045.6,209.4 1046.1,205.5 1046.5,202.4 1046.8,200.2 1047.0,198.8 1047.1,198.3 1047.3,197.1 1047.5,195.5 1047.7,193.2 1048.0,190.4 1048.3,187.4 1048.8,184.3 1049.3,181.1 1049.9,177.7 1050.5,174.5 1051.2,171.5 1051.8,168.8 1052.5,166.2 1053.2,163.6 1053.8,161.2 1054.5,158.8 1055.2,156.4 1055.8,154.2 1056.4,152.1 1057.0,150.2 1057.6,148.4 1058.1,146.8 1058.5,145.3 1058.9,144.0 1059.2,142.9 1059.6,142.4 1060.0,142.6 1060.5,143.4 1061.1,144.9 1061.7,146.7 1062.3,148.7 1062.9,151.1 1063.6,153.8 1064.3,156.4 1064.9,159.0 1065.6,161.4 1066.3,163.8 1066.9,166.5 1067.5,169.3 1068.0,172.4 1068.4,175.8 1068.9,179.5 1069.3,183.5 1069.8,187.8 1070.3,192.4 1070.7,196.0 1071.0,198.5 1071.2,200.0 1071.4,200.4 1071.6,201.5 1071.9,203.5 1072.3,206.4 1072.8,210.0 1073.3,214.1 1073.8,218.7 1074.3,223.8 1074.8,229.5 1075.4,235.2 1075.9,241.0 1076.5,247.0 1077.1,253.0 1077.7,258.8 1078.3,264.5 1078.8,269.9 1079.4,275.0 1079.9,280.1 1080.3,285.1 1080.6,289.9 1080.9,294.6 1081.4,298.2 1082.1,300.6 1083.0,301.9 1084.2,302.1 1085.4,301.8 1086.6,300.9 1087.9,299.5 1089.3,297.5 1090.6,295.5 1092.0,293.5 1093.3,291.3 1094.7,289.2 1096.0,287.2 1097.4,285.4 1098.7,283.9 1100.0,282.6 1101.3,281.5 1102.7,280.5 1104.0,279.6 1105.4,278.9 1106.6,277.9 1107.7,276.6 1108.6,275.0 1109.5,273.1 1110.3,270.6 1111.1,267.3 1111.9,263.4 1112.7,258.8 1113.5,254.1 1114.4,249.4 1115.3,244.5 1116.3,239.6 1117.2,235.1 1118.2,231.0 1119.1,227.2 1120.1,223.9 1121.0,220.8 1121.9,218.0 1122.8,215.5 1123.7,213.2 1124.5,211.0 1125.1,208.8 1125.7,206.6 1126.2,204.4 1126.6,202.7 1126.9,201.4 1127.2,200.5 1127.4,200.1 1127.7,198.5 1128.2,195.6 1128.7,191.4 1129.4,186.1 1130.1,181.0 1130.7,176.2 1131.4,171.7 1132.1,167.4 1132.7,164.0 1133.3,161.4 1133.9,159.5 1134.4,158.5 1135.0,158.0 1135.5,158.1 1136.1,158.7 1136.7,159.9 1137.3,162.0 1137.9,165.0 1138.4,168.9 1139.0,173.8 1139.5,178.5 1140.0,183.2 1140.5,187.7 1141.0,192.2 1141.4,195.7 1141.6,198.3 1141.8,199.8 1141.9,200.3 1142.1,202.0 1142.3,204.9 1142.7,208.9 1143.2,214.1 1143.7,219.5 1144.2,225.1 1144.8,231.0 1145.4,237.2 1146.0,242.9 1146.5,248.3 1147.1,253.2 1147.6,257.8 1148.1,261.6 1148.6,264.6 1149.0,266.8 1149.4,268.3 1150.1,269.4 1151.0,270.3 1152.2,270.8 1153.6,271.0 1155.1,270.8 1156.5,270.2 1158.0,269.1 1159.4,267.6 1160.9,266.0 1162.3,264.3 1163.7,262.3 1165.2,260.3 1166.6,258.5 1168.0,257.1 1169.5,256.1 1170.9,255.4 1172.4,255.1 1173.8,255.2 1175.3,255.7 1176.7,256.7 1178.1,256.9 1179.3,256.2 1180.5,254.8 1181.6,252.6 1182.6,249.9 1183.5,246.9 1184.3,243.4 1185.0,239.6 1185.7,235.6 1186.5,231.4 1187.2,227.1 1187.9,222.7 1188.6,218.3 1189.4,213.9 1190.1,209.5 1190.8,205.2 1191.4,201.5 1191.9,198.5 1192.4,196.0 1192.6,194.3 1192.9,192.6 1193.2,191.1 1193.4,189.7 1193.7,188.4 1193.9,186.4 1194.1,183.7 1194.3,180.3 1194.5,176.2 1194.7,171.3 1194.9,165.7 1195.1,159.2 1195.3,152.0 1195.6,146.0 1195.9,141.1 1196.3,137.4 1196.8,134.8 1197.3,132.5 1198.0,130.6 1198.7,129.0 1199.5,127.7 1200.3,126.0 1201.1,124.0 1201.9,121.7 1202.7,119.0 1203.5,117.5 1204.2,117.3 1204.9,118.3 1205.6,120.6 1206.2,123.2 1206.8,126.3 1207.3,129.8 1207.8,133.6 1208.2,137.7 1208.7,141.9 1209.1,146.2 1209.5,150.7 1209.9,155.5 1210.3,160.5 1210.7,165.7 1211.2,171.2 1211.5,176.1 1211.8,180.2 1212.1,183.6 1212.3,186.3 1212.6,188.2 1212.9,189.4 1213.4,189.7 1213.9,189.2 1214.4,189.5 1214.9,190.6 1215.4,192.6 1215.8,195.3 1216.3,198.2 1216.7,201.2 1217.1,204.4 1217.6,207.8 1218.0,211.3 1218.3,215.1 1218.6,219.1 1218.9,223.4 1219.1,227.6 1219.4,231.8 1219.6,236.0 1219.9,240.1 1220.1,244.3 1220.3,248.6 1220.5,252.9 1220.8,257.3 1221.0,261.2 1221.4,264.6 1221.7,267.5 1222.2,269.9 1222.7,272.1 1223.4,274.1 1224.2,275.8 1225.2,277.5 1226.2,279.2 1227.4,281.2 1228.7,283.3 1230.2,285.5 1231.6,287.5 1233.0,289.1 1234.5,290.4 1235.9,291.5 1237.4,292.4 1238.8,293.1 1240.3,293.7 1241.7,294.2 1243.1,294.7 1244.3,295.2 1245.5,295.7 1246.6,296.2 1247.5,295.3 1248.3,293.0 1249.0,289.3 1249.5,284.2 1250.0,278.9 1250.6,273.3 1251.2,267.6 1251.7,261.6 1252.3,255.8 1252.9,250.2 1253.5,244.8 1254.0,239.7 1254.6,234.6 1255.2,229.5 1255.9,224.6 1256.5,219.7 1257.2,215.0 1257.8,210.7 1258.4,206.7 1258.9,203.0 1259.5,199.5 1259.9,196.2 1260.3,193.1 1260.7,190.1 1260.9,187.9 1261.1,186.4 1261.2,185.7 1261.2,185.7 1261.3,185.0 1261.5,183.4 1261.8,181.2 1262.1,178.1 1262.6,174.8 1263.1,171.3 1263.7,167.6 1264.4,163.7 1265.1,160.4 1265.7,157.7 1266.4,155.7 1267.1,154.4 1267.8,153.2 1268.4,152.2 1269.0,151.5 1269.7,150.8 1270.3,150.7 1270.8,151.1 1271.4,152.0 1271.9,153.3 1272.4,155.2 1272.9,157.4 1273.4,160.2 1273.9,163.4 1274.4,166.6 1274.9,169.8 1275.4,173.0 1276.0,176.3 1276.5,179.2 1277.0,181.7 1277.4,183.9 1277.8,185.8 1278.2,187.3 1278.5,188.4 1278.9,189.2 1279.2,189.6 1279.6,191.0 1280.0,193.1 1280.5,196.2 1281.0,200.1 1281.5,204.4 1282.0,209.1 1282.4,214.2 1282.9,219.7 1283.2,223.8 1283.4,226.6 1283.5,227.9 1283.5,227.9 1283.6,229.4 1283.9,232.4 1284.4,236.9 1284.9,243.0 1285.5,248.4 1286.2,253.1 1286.9,257.3 1287.6,260.8 1288.3,264.0 1289.1,266.8 1289.8,269.3 1290.5,271.4 1291.2,273.2 1291.8,274.6 1292.3,275.6 1292.8,276.3 1293.4,275.8 1293.9,274.2 1294.5,271.3 1295.0,267.3 1295.7,263.7 1296.3,260.5 1297.0,257.6 1297.7,255.0 1298.5,252.7 1299.4,250.6 1300.4,248.7 1301.5,247.1 1302.7,245.4 1303.9,243.8 1305.3,242.1 1306.7,240.4 1308.2,238.6 1309.6,236.7 1311.1,234.6 1312.5,232.4 1313.9,230.4 1315.1,228.5 1316.3,226.8 1317.4,225.2 1318.4,223.3 1319.3,221.1 1320.1,218.5 1320.8,215.5 1321.5,212.3 1322.2,209.0 1322.8,205.4 1323.3,201.6 1323.8,198.5 1324.2,196.0 1324.4,194.1 1324.6,193.0 1324.7,192.0 1324.9,191.2 1325.0,190.7 1325.1,190.3 1325.3,188.7 1325.5,185.8 1325.8,181.6 1326.1,176.2 1326.5,170.5 1326.9,164.5 1327.4,158.4 1328.0,151.9 1328.5,145.3 1329.0,138.4 1329.5,131.3 1330.0,124.0 1330.5,117.1 1331.1,110.6 1331.7,104.4 1332.4,98.7 1333.0,93.2 1333.7,87.9 1334.3,82.8 1334.9,77.9 1335.4,73.9 1335.9,70.6 1336.4,68.2 1336.8,66.6 1337.2,65.2 1337.6,64.2 1337.9,63.5 1338.3,63.0 1338.7,62.8 1339.1,62.8 1339.6,63.1 1340.1,63.5 1340.6,64.2 1341.1,65.1 1341.6,66.2 1342.1,67.5 1342.6,69.3 1343.1,71.4 1343.7,74.0 1344.4,77.0 1345.0,80.3 1345.6,84.0 1346.2,88.0 1346.8,92.3 1347.4,96.8 1347.9,101.4 1348.4,106.2 1348.9,111.0 1349.3,116.3 1349.7,122.1 1350.1,128.2 1350.4,134.8 1350.7,141.4 1351.1,147.8 1351.4,154.3 1351.8,160.7 1352.2,166.6 1352.6,172.2 1353.0,177.3 1353.5,181.9 1353.9,185.7 1354.2,188.5 1354.4,190.3 1354.5,191.3 1354.6,192.9 1354.8,195.3 1355.0,198.3 1355.3,202.0 1355.6,206.1 1356.0,210.4 1356.4,215.1 1356.8,220.0 1357.3,225.1 1357.7,230.2 1358.1,235.4 1358.6,240.8 1359.0,245.7 1359.4,250.2 1359.8,254.3 1360.3,258.0 1360.8,261.4 1361.3,264.7 1362.0,267.8 1362.7,270.7 1363.5,273.2 1364.4,275.3 1365.4,276.9 1366.5,278.1 1367.6,279.2 1368.7,280.3 1369.8,281.4 1370.9,282.4 1371.9,283.5 1373.0,284.6 1374.1,285.9 1375.2,287.2 1376.3,288.0 1377.3,288.4 1378.4,288.3 1379.5,287.7 1380.6,287.1 1381.7,286.6 1382.8,286.1 1383.9,285.6 1384.9,285.5 1386.0,285.8 1387.1,286.6 1388.2,287.8 1389.3,287.7 1390.3,286.3 1391.4,283.7 1392.5,279.8 1393.4,275.5 1394.2,270.8 1394.9,265.8 1395.4,260.3 1396.0,255.0 1396.5,249.9 1397.1,244.9 1397.6,240.1 1398.2,235.5 1398.8,231.1 1399.4,226.9 1399.9,222.9 1400.5,219.2 1401.1,215.8 1401.7,212.8 1402.2,210.0 1402.7,207.4 1403.2,204.7 1403.5,202.2 1403.8,199.6 1404.1,197.4 1404.3,195.6 1404.5,194.0 1404.6,192.8 1404.8,191.7 1404.9,191.0 1405.1,190.4 1405.4,190.1 1405.6,189.0 1405.9,187.1 1406.3,184.4 1406.7,180.9 1407.1,178.0 1407.5,175.6 1407.9,173.8 1408.3,172.6 1408.7,171.6 1409.2,170.8 1409.6,170.3 1410.1,170.0 1410.6,169.8 1411.1,169.9 1411.7,170.1 1412.3,170.5 1412.9,171.3 1413.5,172.3 1414.0,173.6 1414.6,175.3 1415.1,176.9 1415.6,178.7 1416.0,180.4 1416.4,182.2 1416.8,183.8 1417.1,185.1 1417.4,186.1 1417.7,187.0 1417.9,187.9 1418.0,189.0 1418.1,190.2 1418.1,191.6 1418.2,193.6 1418.5,196.3 1419.0,199.7 1419.5,203.7 1420.1,208.1 1420.7,212.7 1421.3,217.6 1421.9,222.8 1422.5,228.0 1423.1,233.0 1423.7,238.0 1424.2,243.0 1424.8,247.3 1425.4,251.1 1426.0,254.3 1426.5,256.9 1427.1,259.2 1427.5,261.4 1427.9,263.3 1428.3,265.0 1428.7,267.2 1429.1,270.1 1429.5,273.4 1430.0,277.4 1430.6,281.2 1431.1,284.9 1431.7,288.4 1432.3,291.7 1432.9,293.8 1433.5,294.5 1434.1,293.8 1434.6,291.8 1435.2,289.7 1435.7,287.6 1436.2,285.3 1436.8,283.0 1437.3,280.5 1437.9,277.9 1438.6,275.2 1439.3,272.3 1440.0,269.4 1440.8,266.6 1441.5,263.7 1442.2,260.8 1442.9,257.9 1443.7,255.1 1444.4,252.2 1445.1,249.3 1445.8,246.4 1446.5,243.4 1447.3,240.3 1447.9,237.2 1448.8,234.2 1449.6,231.3 1450.6,228.6 1451.8,225.9 1452.8,223.1 1453.9,220.3 1455.0,217.5 1456.1,214.6 1457.2,211.7 1458.2,208.8 1459.3,206.0 1460.4,203.2 1461.3,200.6 1462.1,198.3 1462.8,196.2 1463.3,194.4 1463.7,192.8 1464.0,191.6 1464.2,190.6 1464.4,189.9 1464.6,188.5 1464.9,186.3 1465.3,183.2 1465.8,179.4 1466.4,175.6 1467.0,171.6 1467.6,167.6 1468.3,163.6 1469.0,159.7 1469.6,156.0 1470.3,152.6 1471.0,149.3 1471.7,146.0 1472.3,142.7 1473.0,139.3 1473.7,136.0 1474.4,132.5 1475.0,129.0 1475.7,125.4 1476.4,121.7 1477.1,118.6 1477.7,116.2 1478.4,114.3 1479.1,113.1 1479.8,112.0 1480.4,111.0 1481.1,110.1 1481.8,109.3 1482.4,107.8 1482.9,105.5 1483.4,102.5 1483.8,98.8 1484.2,95.7 1484.7,93.1 1485.1,91.1 1485.6,89.7 1486.1,88.9 1486.5,88.7 1487.0,89.2 1487.5,90.2 1488.0,91.4 1488.4,92.9 1488.9,94.5 1489.4,96.3 1489.8,99.0 1490.2,102.5 1490.6,106.9 1490.9,112.1 1491.2,117.3 1491.6,122.6 1491.9,128.0 1492.3,133.4 1492.6,138.6 1493.0,143.8 1493.3,148.9 1493.6,153.8 1493.9,159.3 1494.2,165.2 1494.4,171.6 1494.6,178.4 1494.8,183.8 1494.9,187.7 1494.9,190.0 1495.0,190.9 1495.0,193.2 1495.1,196.9 1495.1,202.2 1495.2,208.9 1495.2,213.9 1495.3,217.2 1495.3,218.9 1495.3,218.9 1495.3,333.0" fill="#41a8ea" />
<polygon points="808.6,333.0 808.6,294.4 808.6,294.4 809.7,294.4 811.8,294.5 815.0,294.7 819.2,294.8 822.5,294.7 824.8,294.3 826.1,293.7 826.5,292.8 826.8,291.4 827.1,289.7 827.4,287.5 827.6,285.0 828.0,281.3 828.4,276.4 828.9,270.5 829.6,263.4 830.2,256.7 830.8,250.6 831.5,244.9 832.2,239.7 832.9,234.5 833.6,229.2 834.4,224.0 835.2,218.7 835.9,214.1 836.5,210.1 836.9,206.7 837.3,204.0 837.7,202.0 838.2,200.7 838.8,200.2 839.5,200.3 840.2,199.5 840.8,197.9 841.5,195.3 842.1,191.8 842.8,188.4 843.4,185.2 844.1,182.1 844.8,179.1 845.5,176.7 846.1,174.9 846.8,173.7 847.5,173.1 848.2,172.9 848.8,173.0 849.5,173.6 850.2,174.5 850.9,176.1 851.5,178.2 852.2,180.9 852.9,184.2 853.5,187.3 854.0,190.0 854.5,192.5 855.0,194.7 855.3,196.6 855.6,198.1 855.8,199.3 855.9,200.1 856.1,201.4 856.5,203.2 856.9,205.5 857.5,208.3 858.0,211.8 858.6,216.0 859.3,220.9 859.9,226.4 860.6,232.2 861.2,238.1 861.9,244.2 862.6,250.4 863.3,256.4 863.9,262.3 864.6,268.0 865.3,273.5 865.9,278.6 866.6,283.2 867.2,287.4 867.9,291.2 868.4,294.3 869.0,296.6 869.5,298.2 870.0,299.1 871.0,299.9 872.5,300.7 874.5,301.5 877.1,302.3 879.9,303.0 882.9,303.5 886.1,304.0 889.6,304.4 892.4,304.2 894.3,303.6 895.5,302.4 895.9,300.8 896.4,298.1 896.9,294.5 897.4,290.0 898.1,284.4 898.7,278.8 899.2,273.2 899.8,267.5 900.3,261.7 900.9,256.1 901.5,250.6 902.1,245.2 902.8,239.9 903.5,234.8 904.1,229.9 904.8,225.1 905.5,220.5 906.1,216.3 906.6,212.5 907.1,209.1 907.5,206.0 907.8,203.5 908.1,201.6 908.2,200.1 908.3,199.2 908.4,197.9 908.7,196.1 909.0,193.8 909.4,191.0 909.8,187.9 910.3,184.3 910.8,180.4 911.4,176.1 912.0,172.0 912.6,168.2 913.2,164.6 913.9,161.2 914.6,158.3 915.3,156.1 916.1,154.4 916.9,153.3 917.7,152.7 918.5,152.7 919.3,153.3 920.2,154.5 921.0,155.9 921.8,157.7 922.6,159.8 923.4,162.2 924.2,164.8 924.9,167.5 925.6,170.4 926.3,173.5 927.0,176.8 927.6,180.4 928.3,184.4 929.0,188.6 929.5,192.0 930.0,194.5 930.3,196.3 930.5,197.2 930.6,198.0 930.7,198.9 930.8,199.7 930.8,200.5 930.8,202.5 930.9,205.9 931.1,210.5 931.3,216.3 931.6,222.0 932.0,227.5 932.4,232.8 933.0,237.9 933.5,243.2 934.1,248.8 934.6,254.5 935.1,260.5 935.7,266.5 936.2,272.5 936.8,278.6 937.4,284.6 938.0,290.1 938.6,294.8 939.1,299.0 939.7,302.5 940.2,305.1 940.6,307.0 941.0,308.0 941.4,308.3 942.4,308.7 944.0,309.2 946.3,309.9 949.3,310.7 952.2,311.3 955.2,311.7 958.2,311.9 961.1,311.9 963.5,310.7 965.2,308.3 966.2,304.8 966.6,300.1 967.1,294.8 967.6,288.9 968.2,282.4 968.9,275.2 969.5,268.4 970.2,261.8 970.8,255.5 971.4,249.5 972.0,243.8 972.5,238.5 973.0,233.5 973.5,228.8 974.0,223.9 974.4,218.9 974.9,213.5 975.4,208.0 975.8,203.9 976.2,201.2 976.5,199.8 976.8,199.9 977.1,198.8 977.5,196.4 978.0,192.8 978.5,188.0 979.1,183.3 979.7,178.6 980.3,174.1 981.0,169.6 981.7,165.2 982.5,160.9 983.3,156.6 984.2,152.3 985.1,148.5 986.1,145.3 987.2,142.5 988.4,140.2 989.5,139.1 990.7,139.2 991.8,140.5 993.0,143.1 994.0,146.3 995.0,150.2 995.8,154.8 996.6,160.1 997.3,165.0 998.0,169.6 998.7,173.7 999.4,177.5 1000.0,181.4 1000.5,185.3 1001.0,189.2 1001.4,193.3 1001.7,196.4 1002.0,198.6 1002.2,199.9 1002.3,200.3 1002.5,201.6 1002.8,203.6 1003.1,206.5 1003.6,210.2 1004.0,214.4 1004.5,219.0 1005.0,224.1 1005.5,229.7 1006.0,235.1 1006.6,240.5 1007.1,245.8 1007.7,251.0 1008.2,256.2 1008.7,261.5 1009.2,266.8 1009.7,272.2 1010.1,277.5 1010.5,282.7 1010.9,287.8 1011.2,292.8 1011.5,297.2 1011.8,300.8 1012.0,303.7 1012.2,305.9 1013.1,307.6 1014.6,308.8 1016.7,309.4 1019.6,309.5 1022.4,309.6 1025.3,309.7 1028.3,309.9 1031.2,310.1 1033.6,309.1 1035.3,307.1 1036.3,303.9 1036.7,299.5 1037.2,294.5 1037.8,288.9 1038.4,282.5 1039.2,275.5 1039.9,268.7 1040.6,262.2 1041.2,255.9 1041.8,249.9 1042.4,244.0 1042.9,238.2 1043.4,232.4 1043.9,226.7 1044.4,221.4 1044.8,216.4 1045.3,211.7 1045.8,207.4 1046.2,204.1 1046.5,201.6 1046.7,200.2 1046.8,199.7 1047.1,198.4 1047.4,196.3 1047.9,193.3 1048.6,189.6 1049.2,185.8 1049.8,182.0 1050.5,178.1 1051.2,174.2 1051.9,170.5 1052.6,167.1 1053.4,163.8 1054.2,160.8 1055.1,158.2 1056.0,156.0 1057.0,154.2 1058.1,152.8 1059.2,152.4 1060.2,153.1 1061.2,154.7 1062.3,157.4 1063.2,160.3 1064.1,163.4 1065.0,166.6 1065.8,170.1 1066.6,173.7 1067.3,177.5 1068.0,181.5 1068.7,185.7 1069.3,189.3 1069.7,192.3 1070.1,194.7 1070.4,196.4 1070.6,197.8 1070.8,199.0 1071.0,199.8 1071.1,200.3 1071.3,201.6 1071.6,203.6 1072.0,206.5 1072.5,210.1 1073.0,214.2 1073.5,218.8 1074.0,223.9 1074.6,229.4 1075.1,235.1 1075.7,240.9 1076.3,246.8 1076.9,252.8 1077.5,258.7 1078.0,264.4 1078.6,270.0 1079.1,275.3 1079.6,280.6 1080.1,285.8 1080.5,290.8 1081.0,295.8 1081.3,300.0 1081.7,303.3 1082.0,305.9 1082.2,307.7 1083.1,309.0 1084.7,309.9 1086.9,310.3 1089.7,310.3 1092.6,310.3 1095.5,310.2 1098.4,310.1 1101.4,310.0 1103.7,308.8 1105.5,306.5 1106.6,303.1 1107.2,298.6 1107.8,293.7 1108.5,288.2 1109.2,282.3 1110.0,275.9 1110.8,269.8 1111.7,264.0 1112.6,258.4 1113.6,253.1 1114.5,247.9 1115.5,242.9 1116.5,238.0 1117.5,233.1 1118.5,228.7 1119.6,224.6 1120.7,220.9 1121.8,217.6 1122.8,214.7 1123.9,212.1 1125.0,209.9 1126.1,208.0 1127.1,206.4 1127.9,205.0 1128.7,203.9 1129.4,203.0 1129.9,202.1 1130.3,201.3 1130.5,200.5 1130.5,199.8 1130.7,198.4 1130.9,196.4 1131.3,193.7 1131.8,190.4 1132.3,187.7 1132.7,185.6 1133.2,184.2 1133.7,183.4 1134.2,183.1 1134.7,183.3 1135.2,184.0 1135.8,185.1 1136.3,186.8 1136.8,189.1 1137.2,191.9 1137.6,195.3 1138.0,197.7 1138.4,199.3 1138.8,200.0 1139.2,199.9 1139.6,200.8 1140.1,202.7 1140.5,205.7 1141.0,209.8 1141.5,214.1 1142.0,218.5 1142.5,223.0 1143.1,227.8 1143.7,232.9 1144.3,238.3 1144.9,244.2 1145.5,250.4 1146.1,255.9 1146.7,260.6 1147.2,264.6 1147.7,267.8 1148.1,271.9 1148.6,277.0 1149.0,283.0 1149.4,289.9 1150.6,295.2 1152.6,298.8 1155.4,300.7 1159.0,300.9 1162.5,301.0 1165.9,301.0 1169.3,300.8 1172.5,300.5 1175.1,299.6 1177.1,298.1 1178.4,296.0 1179.0,293.4 1179.7,290.2 1180.3,286.6 1181.0,282.5 1181.6,277.9 1182.3,273.2 1183.0,268.4 1183.7,263.5 1184.4,258.5 1185.1,253.3 1185.9,248.1 1186.6,242.7 1187.3,237.2 1188.0,231.7 1188.8,226.2 1189.5,220.6 1190.2,215.1 1190.9,209.8 1191.6,204.8 1192.3,200.2 1192.9,195.8 1193.6,192.5 1194.2,190.4 1194.8,189.3 1195.5,189.3 1196.2,188.9 1196.9,188.0 1197.7,186.7 1198.6,184.9 1199.5,182.9 1200.4,180.4 1201.4,177.7 1202.4,174.5 1203.4,172.9 1204.3,172.9 1205.1,174.4 1206.0,177.5 1206.7,180.2 1207.4,182.4 1208.0,184.3 1208.5,185.7 1209.0,187.0 1209.3,188.1 1209.6,189.1 1209.8,189.9 1210.1,191.4 1210.5,193.7 1211.0,196.8 1211.5,200.7 1212.2,205.3 1212.8,210.5 1213.5,216.4 1214.2,223.0 1214.9,229.7 1215.7,236.6 1216.4,243.6 1217.1,250.9 1217.8,258.0 1218.5,265.0 1219.1,271.8 1219.6,278.6 1220.2,284.8 1220.7,290.4 1221.1,295.5 1221.6,300.0 1222.6,303.4 1224.3,305.8 1226.5,307.1 1229.5,307.3 1232.4,307.5 1235.4,307.7 1238.5,307.8 1241.5,307.9 1244.0,307.0 1245.9,305.1 1247.2,302.3 1247.8,298.5 1248.5,294.1 1249.1,289.1 1249.7,283.5 1250.2,277.3 1250.8,271.0 1251.4,264.5 1252.1,257.9 1252.7,251.2 1253.4,244.7 1254.1,238.5 1254.8,232.6 1255.5,226.9 1256.2,221.4 1257.0,216.1 1257.7,210.9 1258.4,205.8 1259.1,201.6 1259.6,198.3 1260.1,195.8 1260.4,194.1 1260.7,192.5 1260.9,190.9 1261.0,189.3 1261.1,187.8 1261.2,186.0 1261.5,183.8 1261.9,181.4 1262.5,178.6 1263.1,176.1 1263.8,173.7 1264.5,171.5 1265.3,169.5 1266.1,167.7 1267.0,166.1 1267.8,164.6 1268.7,163.3 1269.5,162.9 1270.4,163.4 1271.2,164.8 1272.0,167.2 1272.8,169.7 1273.5,172.3 1274.1,175.1 1274.8,178.0 1275.4,180.6 1275.9,182.8 1276.4,184.6 1276.9,186.1 1277.3,187.3 1277.7,188.3 1278.1,189.1 1278.4,189.6 1278.8,191.0 1279.2,193.3 1279.8,196.5 1280.3,200.5 1281.0,205.1 1281.6,210.4 1282.3,216.4 1283.0,223.0 1283.7,229.7 1284.5,236.7 1285.2,244.0 1285.9,251.4 1286.6,258.6 1287.3,265.5 1288.1,272.2 1288.8,278.7 1289.4,284.7 1290.0,290.2 1290.5,295.3 1290.9,299.9 1291.8,303.0 1293.1,304.6 1294.8,304.7 1297.0,303.3 1299.1,302.1 1301.3,301.0 1303.5,300.1 1305.6,299.3 1307.8,298.7 1310.0,298.2 1312.2,297.9 1314.3,297.6 1316.1,297.4 1317.6,297.2 1318.7,297.0 1319.4,296.7 1320.1,295.4 1320.9,293.0 1321.6,289.4 1322.3,284.8 1323.0,279.7 1323.7,274.3 1324.5,268.5 1325.2,262.3 1325.9,256.4 1326.6,250.9 1327.3,245.6 1328.0,240.7 1328.7,235.7 1329.5,230.7 1330.2,225.6 1330.9,220.5 1331.6,215.8 1332.2,211.4 1332.9,207.5 1333.4,203.9 1333.9,200.8 1334.4,198.3 1334.8,196.2 1335.1,194.7 1335.3,193.3 1335.5,192.1 1335.7,191.0 1335.9,190.2 1336.1,189.0 1336.3,187.6 1336.6,186.0 1336.9,184.1 1337.3,182.4 1337.8,181.0 1338.4,179.9 1339.1,179.0 1339.8,178.6 1340.4,178.9 1341.1,179.7 1341.8,181.1 1342.4,182.4 1342.9,183.7 1343.4,184.9 1343.8,186.0 1344.2,187.2 1344.5,188.4 1344.7,189.6 1345.0,190.9 1345.2,192.6 1345.6,194.7 1346.0,197.2 1346.4,200.3 1346.9,203.3 1347.5,206.5 1348.1,209.8 1348.9,213.1 1349.6,216.9 1350.3,221.1 1351.0,225.8 1351.7,230.9 1352.4,236.3 1353.2,241.8 1353.9,247.6 1354.6,253.6 1355.3,259.4 1356.1,265.0 1356.8,270.3 1357.5,275.4 1358.2,280.3 1359.0,285.1 1359.7,289.8 1360.4,294.3 1361.1,298.1 1361.8,301.0 1362.4,303.1 1362.9,304.5 1364.1,305.6 1365.8,306.6 1368.1,307.3 1371.1,307.9 1374.0,308.5 1377.1,309.2 1380.3,309.8 1383.5,310.6 1386.1,310.4 1388.0,309.5 1389.3,307.7 1389.8,305.1 1390.5,301.5 1391.2,296.8 1391.9,291.1 1392.7,284.4 1393.5,277.7 1394.2,270.9 1395.0,264.2 1395.7,257.4 1396.4,250.8 1397.1,244.5 1397.8,238.4 1398.5,232.5 1399.2,227.0 1400.0,221.9 1400.7,217.1 1401.4,212.6 1402.1,208.7 1402.9,205.4 1403.6,202.7 1404.3,200.5 1405.1,198.6 1405.8,197.0 1406.6,195.7 1407.4,194.6 1408.2,193.7 1408.9,193.1 1409.7,192.6 1410.4,192.3 1411.2,192.1 1412.0,192.1 1412.9,192.2 1413.8,192.4 1414.7,193.3 1415.6,194.9 1416.5,197.1 1417.4,200.1 1418.2,203.5 1419.1,207.4 1419.9,211.7 1420.7,216.5 1421.5,221.6 1422.2,227.0 1423.0,232.7 1423.7,238.8 1424.4,244.7 1425.2,250.6 1425.9,256.5 1426.6,262.2 1427.3,268.1 1428.1,273.9 1428.8,279.9 1429.5,285.9 1430.2,291.1 1430.8,295.6 1431.3,299.3 1431.8,302.3 1432.3,304.5 1432.8,305.8 1433.3,306.3 1433.8,305.9 1434.5,305.3 1435.3,304.3 1436.2,303.1 1437.3,301.6 1438.5,300.3 1439.7,299.2 1441.1,298.3 1442.5,297.6 1444.2,297.0 1446.0,296.6 1448.0,296.3 1450.1,296.1 1452.2,295.9 1454.2,295.6 1456.1,295.3 1457.9,295.0 1459.5,293.9 1461.0,292.0 1462.2,289.3 1463.3,285.9 1464.4,281.9 1465.5,277.5 1466.6,272.5 1467.6,267.1 1468.7,262.1 1469.7,257.8 1470.7,254.0 1471.6,250.8 1472.5,247.1 1473.3,243.0 1474.1,238.6 1474.8,233.7 1475.6,229.3 1476.4,225.4 1477.2,222.1 1478.1,219.3 1479.0,216.9 1479.8,214.9 1480.7,213.4 1481.6,212.4 1482.4,210.9 1483.1,209.1 1483.8,207.0 1484.3,204.4 1485.0,203.2 1485.6,203.2 1486.3,204.5 1487.0,207.1 1487.7,209.8 1488.4,212.8 1489.2,215.9 1489.8,219.2 1490.6,222.6 1491.3,226.3 1492.0,230.1 1492.7,234.1 1493.3,238.5 1493.9,243.3 1494.4,248.4 1494.7,253.9 1495.0,258.1 1495.2,260.8 1495.3,262.2 1495.3,262.2 1495.3,333.0" fill="#a8d60a" />
<polygon points="808.6,333.0 808.6,313.8 808.6,313.8 809.6,313.9 811.6,314.2 814.7,314.5 818.7,315.0 821.9,314.6 824.2,313.4 825.6,311.4 826.2,308.6 826.7,305.0 827.3,300.6 827.8,295.5 828.3,289.6 828.9,283.5 829.5,277.1 830.1,270.4 830.8,263.4 831.5,256.9 832.1,250.7 832.8,245.0 833.5,239.7 834.2,234.4 835.0,229.1 835.7,223.8 836.6,218.6 837.3,213.9 837.9,210.0 838.4,206.6 838.8,204.0 839.2,201.9 839.8,200.5 840.3,199.7 840.9,199.4 841.5,199.0 842.2,198.3 842.8,197.4 843.5,196.2 844.2,195.1 845.1,194.0 846.0,192.9 847.0,191.8 848.0,191.3 848.9,191.3 849.7,191.8 850.6,192.8 851.3,193.9 851.9,195.0 852.4,196.1 852.8,197.2 853.1,198.1 853.4,199.0 853.7,199.7 853.9,200.2 854.2,201.3 854.6,203.0 855.1,205.3 855.7,208.1 856.3,211.6 857.0,215.8 857.6,220.7 858.3,226.3 859.0,232.0 859.6,238.0 860.3,244.1 861.0,250.3 861.7,256.4 862.3,262.2 863.0,267.8 863.7,273.2 864.4,278.5 865.0,283.6 865.7,288.6 866.4,293.4 867.1,298.0 867.7,302.3 868.4,306.4 869.1,310.3 871.2,313.3 874.9,315.3 880.0,316.5 886.6,316.7 891.7,315.4 895.2,312.7 897.2,308.5 897.7,302.8 898.2,297.4 898.6,292.2 899.1,287.2 899.6,282.5 900.1,277.6 900.6,272.5 901.1,267.1 901.7,261.6 902.3,256.1 902.9,250.6 903.5,245.2 904.2,239.9 904.9,234.8 905.5,229.8 906.2,225.0 906.9,220.3 907.5,216.1 908.1,212.3 908.6,209.0 909.1,206.1 909.4,203.7 909.7,201.7 909.8,200.2 909.8,199.2 909.9,197.7 910.0,195.8 910.3,193.4 910.6,190.7 911.0,187.5 911.4,184.0 911.9,180.1 912.5,175.8 913.1,171.9 913.7,168.5 914.3,165.5 915.0,163.0 915.6,160.8 916.2,158.8 916.8,157.2 917.3,155.9 917.9,155.2 918.5,155.0 919.1,155.4 919.8,156.2 920.5,157.4 921.1,158.9 921.8,160.7 922.5,162.7 923.2,165.0 923.8,167.6 924.5,170.4 925.2,173.5 925.9,176.8 926.5,180.4 927.2,184.4 927.9,188.6 928.4,192.0 928.9,194.5 929.2,196.3 929.4,197.2 929.6,198.0 929.7,198.9 929.7,199.7 929.7,200.5 929.8,202.5 929.9,205.9 930.0,210.5 930.2,216.3 930.5,222.0 930.9,227.5 931.3,232.8 931.9,237.9 932.4,243.2 933.0,248.8 933.5,254.6 934.0,260.6 934.6,266.6 935.1,272.6 935.7,278.6 936.4,284.6 937.0,290.1 937.6,295.1 938.2,299.6 938.8,303.6 939.4,306.9 939.9,309.6 940.3,311.5 940.7,312.8 942.6,313.9 946.0,315.0 950.8,315.9 957.2,316.7 962.1,315.6 965.6,312.5 967.7,307.4 968.4,300.4 969.0,293.5 969.6,286.8 970.2,280.2 970.7,273.8 971.3,267.5 971.8,261.3 972.4,255.3 973.0,249.4 973.6,243.7 974.1,238.4 974.6,233.5 975.1,228.8 975.6,224.0 976.0,218.9 976.5,213.6 977.0,208.1 977.4,203.9 977.8,201.1 978.1,199.6 978.4,199.4 978.7,198.1 979.1,195.7 979.5,192.2 980.0,187.5 980.5,183.0 981.1,178.7 981.7,174.5 982.4,170.4 983.1,166.5 983.8,162.8 984.6,159.1 985.4,155.6 986.2,152.6 987.1,150.0 987.9,147.8 988.8,146.1 989.7,145.4 990.5,145.5 991.4,146.6 992.3,148.5 993.1,151.0 993.9,154.0 994.6,157.5 995.3,161.6 996.0,165.6 996.6,169.6 997.3,173.6 998.0,177.5 998.6,181.4 999.1,185.2 999.6,189.0 1000.0,192.8 1000.3,195.8 1000.6,198.0 1000.8,199.4 1001.0,200.0 1001.2,201.4 1001.5,203.6 1001.8,206.6 1002.2,210.4 1002.6,214.6 1003.1,219.2 1003.6,224.2 1004.2,229.6 1004.7,234.9 1005.3,240.3 1005.8,245.6 1006.3,251.0 1006.8,256.3 1007.3,261.6 1007.8,267.0 1008.3,272.4 1008.7,277.7 1009.1,282.9 1009.5,288.1 1009.9,293.2 1010.2,298.0 1010.6,302.5 1011.0,306.6 1011.4,310.4 1013.2,313.4 1016.6,315.5 1021.3,316.8 1027.5,317.3 1032.3,315.8 1035.8,312.6 1037.8,307.4 1038.5,300.4 1039.1,293.5 1039.7,286.8 1040.3,280.2 1040.8,273.7 1041.4,267.4 1041.9,261.3 1042.5,255.4 1043.2,249.7 1043.8,243.9 1044.3,238.2 1044.8,232.6 1045.3,226.9 1045.8,221.6 1046.2,216.5 1046.7,211.8 1047.1,207.4 1047.5,204.0 1047.8,201.4 1048.0,199.8 1048.2,199.2 1048.4,197.8 1048.8,195.6 1049.3,192.8 1049.9,189.2 1050.5,185.6 1051.2,182.1 1051.8,178.7 1052.5,175.3 1053.2,172.0 1053.8,168.8 1054.5,165.8 1055.2,162.9 1055.9,160.4 1056.7,158.4 1057.5,156.7 1058.4,155.5 1059.2,155.2 1060.1,155.7 1060.9,157.2 1061.7,159.5 1062.5,162.0 1063.2,164.7 1063.9,167.6 1064.6,170.7 1065.3,174.1 1065.9,177.7 1066.6,181.7 1067.3,185.9 1067.9,189.4 1068.3,192.3 1068.7,194.4 1069.0,195.9 1069.2,197.2 1069.4,198.3 1069.6,199.2 1069.8,199.9 1070.0,201.4 1070.3,203.6 1070.7,206.5 1071.1,210.2 1071.6,214.3 1072.1,218.9 1072.6,224.0 1073.2,229.5 1073.7,235.1 1074.3,240.9 1074.9,246.9 1075.5,252.9 1076.1,258.9 1076.7,264.6 1077.2,270.1 1077.8,275.5 1078.3,280.8 1078.8,285.9 1079.3,291.0 1079.8,295.9 1080.2,300.3 1080.7,304.4 1081.1,307.9 1081.5,311.0 1083.3,313.5 1086.6,315.3 1091.4,316.5 1097.6,317.1 1102.5,315.7 1106.0,312.4 1108.1,307.1 1108.9,299.9 1109.7,293.1 1110.4,286.6 1111.1,280.6 1111.8,274.9 1112.5,269.3 1113.3,263.8 1114.2,258.4 1115.2,253.1 1116.1,247.9 1117.1,242.8 1118.1,237.9 1119.2,233.1 1120.2,228.7 1121.3,224.6 1122.4,220.9 1123.5,217.6 1124.6,214.7 1125.7,212.1 1126.9,209.9 1128.0,208.1 1128.9,206.5 1129.8,205.0 1130.5,203.6 1131.1,202.4 1131.6,201.4 1132.1,200.6 1132.5,200.0 1132.8,199.6 1133.1,199.3 1133.5,199.0 1133.8,198.8 1134.2,198.7 1134.5,198.7 1134.9,198.6 1135.3,198.7 1135.7,198.8 1136.1,198.9 1136.4,199.1 1136.8,199.3 1137.1,199.6 1137.5,200.8 1137.9,202.9 1138.3,206.1 1138.8,210.2 1139.3,214.4 1139.8,218.8 1140.4,223.3 1141.1,228.0 1141.7,233.1 1142.4,238.4 1143.2,244.1 1144.0,250.1 1144.8,256.0 1145.5,261.7 1146.2,267.4 1146.9,272.9 1147.6,278.3 1148.2,283.5 1148.9,288.7 1149.6,293.8 1150.2,298.4 1150.8,302.6 1151.2,306.4 1151.7,309.7 1153.6,312.3 1157.2,314.0 1162.3,315.0 1168.9,315.2 1174.1,314.2 1177.8,312.1 1180.0,308.8 1180.7,304.3 1181.4,299.7 1182.2,294.9 1182.9,290.0 1183.6,284.8 1184.3,279.5 1185.1,274.0 1185.8,268.3 1186.5,262.4 1187.2,256.6 1188.0,250.8 1188.7,245.0 1189.4,239.3 1190.1,233.4 1190.8,227.4 1191.6,221.2 1192.2,214.9 1193.0,209.4 1193.7,204.7 1194.4,200.8 1195.1,197.6 1195.9,195.0 1196.7,192.8 1197.5,191.1 1198.4,189.9 1199.3,188.8 1200.2,187.8 1201.1,187.0 1202.1,186.3 1203.0,185.9 1203.8,185.9 1204.7,186.2 1205.4,186.9 1206.1,187.8 1206.8,188.7 1207.4,189.9 1207.9,191.1 1208.4,192.9 1208.9,195.2 1209.5,198.1 1210.0,201.4 1210.5,205.6 1211.1,210.6 1211.8,216.4 1212.5,222.9 1213.2,229.7 1214.0,236.6 1214.7,243.6 1215.4,250.9 1216.1,258.0 1216.8,265.0 1217.4,272.0 1217.9,278.8 1218.5,285.0 1219.0,290.6 1219.5,295.6 1220.0,299.9 1220.5,303.6 1220.9,306.8 1221.3,309.3 1221.7,311.2 1223.6,312.7 1227.0,314.0 1232.0,314.9 1238.5,315.5 1243.5,314.4 1247.0,311.5 1249.1,307.0 1249.6,300.6 1250.2,294.5 1250.8,288.4 1251.4,282.5 1252.0,276.8 1252.6,270.8 1253.2,264.5 1253.9,258.0 1254.5,251.3 1255.2,244.8 1255.9,238.6 1256.6,232.7 1257.3,227.0 1258.0,221.5 1258.7,216.1 1259.5,210.8 1260.2,205.6 1260.8,201.4 1261.4,198.0 1261.9,195.5 1262.3,193.9 1262.7,192.2 1262.9,190.3 1263.1,188.2 1263.2,185.9 1263.3,183.9 1263.5,181.9 1263.8,180.2 1264.1,178.6 1264.5,177.0 1265.0,175.3 1265.6,173.6 1266.3,171.9 1267.0,170.4 1267.6,169.1 1268.3,168.0 1269.0,167.1 1269.7,166.9 1270.3,167.4 1271.0,168.7 1271.7,170.6 1272.3,172.6 1272.9,174.7 1273.4,176.8 1273.9,178.9 1274.3,180.9 1274.7,182.7 1275.1,184.3 1275.4,185.7 1275.8,186.9 1276.1,187.8 1276.5,188.5 1276.8,188.9 1277.2,190.2 1277.7,192.6 1278.2,196.0 1278.7,200.4 1279.2,205.4 1279.8,210.8 1280.5,216.7 1281.2,223.2 1281.9,229.9 1282.7,236.8 1283.4,244.0 1284.1,251.5 1284.8,258.7 1285.6,265.7 1286.3,272.5 1287.0,279.0 1287.7,285.0 1288.3,290.5 1289.0,295.5 1289.5,299.9 1290.1,303.8 1290.6,306.9 1291.1,309.4 1291.5,311.3 1293.5,312.7 1297.1,313.8 1302.2,314.5 1308.9,314.9 1314.2,314.1 1317.9,312.0 1320.1,308.8 1320.8,304.3 1321.5,299.7 1322.3,294.9 1323.0,290.0 1323.7,284.8 1324.4,279.5 1325.2,274.0 1325.9,268.2 1326.6,262.2 1327.3,256.4 1328.1,250.9 1328.8,245.7 1329.5,240.7 1330.2,235.7 1331.0,230.6 1331.7,225.4 1332.4,220.1 1333.1,215.2 1333.9,210.6 1334.6,206.5 1335.3,202.7 1336.0,199.6 1336.8,197.3 1337.5,195.6 1338.2,194.7 1338.9,194.1 1339.6,193.8 1340.3,193.8 1341.0,194.2 1341.8,195.0 1342.5,196.2 1343.2,197.9 1343.9,200.1 1344.6,202.7 1345.4,205.6 1346.1,208.9 1346.8,212.5 1347.5,216.5 1348.3,220.9 1349.0,225.7 1349.7,230.9 1350.4,236.2 1351.2,241.8 1351.9,247.6 1352.6,253.6 1353.3,259.4 1354.1,265.0 1354.8,270.3 1355.5,275.4 1356.2,280.3 1357.0,285.1 1357.7,289.7 1358.4,294.1 1359.1,298.1 1359.9,301.8 1360.6,305.0 1361.3,307.8 1361.9,310.0 1362.5,311.6 1362.9,312.4 1363.3,312.7 1365.2,313.0 1368.6,313.4 1373.5,313.9 1380.0,314.5 1385.1,313.9 1388.7,312.0 1390.9,308.9 1391.6,304.6 1392.3,299.9 1393.1,294.7 1393.8,289.2 1394.5,283.2 1395.2,277.1 1396.0,270.7 1396.7,264.2 1397.4,257.4 1398.1,250.9 1398.9,244.6 1399.6,238.5 1400.3,232.6 1401.0,227.0 1401.8,221.9 1402.5,217.0 1403.2,212.6 1403.9,208.7 1404.7,205.4 1405.4,202.8 1406.1,200.8 1406.8,199.1 1407.5,197.8 1408.3,196.8 1408.9,196.2 1409.8,195.7 1410.6,195.4 1411.6,195.4 1412.8,195.5 1413.8,196.2 1414.7,197.6 1415.5,199.6 1416.2,202.2 1416.9,205.2 1417.7,208.7 1418.4,212.7 1419.1,217.1 1419.8,221.9 1420.5,227.1 1421.3,232.8 1421.9,238.8 1422.7,244.8 1423.4,250.7 1424.1,256.5 1424.8,262.3 1425.5,268.1 1426.3,274.0 1427.0,279.9 1427.7,285.9 1428.4,291.5 1429.2,296.7 1429.9,301.4 1430.6,305.6 1431.2,308.9 1431.7,311.2 1432.0,312.4 1432.3,312.7 1434.2,312.9 1437.8,313.2 1443.1,313.6 1450.1,313.9 1455.5,313.5 1459.4,312.3 1461.7,310.3 1462.4,307.6 1463.1,304.6 1463.9,301.4 1464.6,297.9 1465.3,294.2 1466.0,290.3 1466.8,286.2 1467.5,281.8 1468.2,277.3 1468.9,272.9 1469.7,268.9 1470.4,265.0 1471.1,261.4 1471.8,258.0 1472.6,254.8 1473.3,251.7 1474.0,248.8 1474.7,246.1 1475.4,243.6 1476.2,241.2 1476.8,239.0 1477.7,236.8 1478.6,234.7 1479.6,232.6 1480.6,230.5 1481.7,228.6 1482.6,226.8 1483.4,225.3 1484.1,223.9 1484.8,223.1 1485.6,223.0 1486.3,223.5 1487.0,224.6 1487.7,226.3 1488.4,228.3 1489.2,230.8 1489.8,233.8 1490.6,237.0 1491.3,240.6 1492.0,244.4 1492.7,248.5 1493.3,252.9 1493.9,257.7 1494.4,262.9 1494.7,268.4 1495.0,272.6 1495.2,275.3 1495.3,276.7 1495.3,276.7 1495.3,333.0" fill="#ffff00" />
<polygon points="808.6,313.3 1494.8,313.3 1496.5,333.0 808.6,333.0" fill="#7b4600"/>
<polyline points="808.6,208.1 808.7,208.6 809.0,209.7 809.4,211.3 810.0,213.4 810.6,215.7 811.4,218.1 812.3,220.7 813.3,223.5 814.3,226.0 815.3,228.2 816.3,230.2 817.4,231.8 818.5,233.3 819.7,234.7 820.9,235.9 822.3,236.9 823.5,237.7 824.7,238.0 825.8,238.1 826.8,237.7 827.8,237.1 828.8,236.1 829.8,234.8 830.9,233.2 831.8,231.2 832.6,228.9 833.4,226.3 834.1,223.3 834.8,220.5 835.4,217.6 836.1,214.9 836.8,212.2 837.4,209.8 837.9,207.8 838.4,206.0 838.8,204.6 839.1,202.8 839.4,200.7 839.6,198.3 839.7,195.5 839.8,193.1 840.0,191.1 840.1,189.5 840.3,188.3 840.6,186.5 840.9,184.2 841.5,181.3 842.1,177.9 842.8,174.6 843.4,171.5 844.1,168.5 844.8,165.6 845.5,163.1 846.3,161.1 847.1,159.5 848.0,158.3 848.9,157.7 849.7,157.7 850.4,158.3 851.0,159.4 851.7,161.2 852.3,163.6 853.0,166.6 853.7,170.3 854.4,173.9 855.0,177.5 855.6,180.9 856.3,184.3 856.8,187.4 857.3,190.1 857.8,192.6 858.2,194.7 858.5,196.5 858.8,198.0 858.9,199.2 859.0,200.1 859.1,201.7 859.4,204.1 859.7,207.3 860.1,211.2 860.7,214.0 861.6,215.7 862.7,216.4 864.1,215.9 865.4,215.8 866.8,216.0 868.1,216.5 869.5,217.3 870.8,217.9 872.2,218.2 873.5,218.3 874.9,218.1 876.1,218.7 877.3,220.2 878.4,222.4 879.4,225.5 880.4,228.3 881.4,230.9 882.4,233.2 883.5,235.3 884.6,237.2 885.7,238.9 887.0,240.4 888.3,241.7 889.6,242.8 891.0,243.7 892.3,244.4 893.7,245.0 895.0,245.4 896.4,245.7 897.7,245.9 899.1,245.9 900.3,245.3 901.5,244.1 902.6,242.2 903.7,239.7 904.6,237.0 905.5,234.3 906.2,231.4 906.9,228.5 907.6,225.4 908.5,222.3 909.4,219.2 910.4,216.0 911.3,212.9 912.1,210.1 912.7,207.4 913.3,204.9 913.8,202.8 914.2,201.1 914.5,199.8 914.8,198.9 915.1,197.7 915.5,196.1 916.0,194.2 916.5,191.9 917.1,189.9 917.8,188.1 918.5,186.5 919.4,185.1 920.2,184.5 920.9,184.4 921.7,185.1 922.4,186.5 923.1,188.1 923.8,190.0 924.4,192.3 925.0,194.8 925.5,197.1 925.9,199.1 926.2,200.8 926.5,202.2 926.8,203.8 927.1,205.5 927.6,207.5 928.1,209.7 928.7,211.6 929.4,213.3 930.1,214.7 930.9,215.9 931.6,216.4 932.3,216.3 932.8,215.4 933.3,213.9 933.8,213.6 934.3,214.4 934.8,216.5 935.4,219.7 936.0,222.0 936.8,223.3 937.7,223.8 938.7,223.3 939.7,222.6 940.7,221.9 941.7,221.1 942.8,220.2 943.7,219.3 944.5,218.6 945.3,218.0 946.0,217.4 946.7,217.2 947.3,217.5 948.0,218.0 948.7,219.0 949.4,220.5 950.0,222.6 950.7,225.2 951.4,228.4 952.1,231.4 953.0,234.2 953.9,236.8 954.9,239.3 956.0,241.3 957.2,243.0 958.4,244.3 959.8,245.1 961.1,245.6 962.5,245.6 963.8,245.1 965.2,244.3 966.4,243.0 967.6,241.5 968.7,239.6 969.8,237.4 970.7,234.7 971.5,231.4 972.3,227.5 972.9,223.1 973.5,218.9 974.1,215.1 974.6,211.4 975.1,208.1 975.5,205.1 975.8,202.4 976.1,200.0 976.3,198.0 976.5,195.4 976.8,192.3 977.1,188.5 977.5,184.2 977.9,179.7 978.4,175.2 979.0,170.6 979.7,165.9 980.4,161.6 981.0,157.6 981.7,153.9 982.4,150.6 983.1,147.5 983.7,144.7 984.4,142.1 985.1,139.7 985.8,137.4 986.7,135.1 987.6,132.8 988.6,130.6 989.6,129.5 990.5,129.5 991.4,130.5 992.3,132.6 993.1,135.0 993.9,137.7 994.6,140.6 995.3,143.8 996.0,147.2 996.6,150.9 997.3,154.8 998.0,158.9 998.6,161.9 999.2,163.9 999.7,164.8 1000.2,164.6 1000.6,165.7 1001.0,167.9 1001.4,171.4 1001.8,176.1 1002.2,180.1 1002.7,183.3 1003.3,185.8 1004.0,187.5 1004.7,189.2 1005.6,190.7 1006.5,192.1 1007.5,193.5 1008.5,194.5 1009.5,195.2 1010.5,195.7 1011.6,195.8 1012.6,196.0 1013.5,196.4 1014.4,196.9 1015.3,197.5 1016.0,198.2 1016.6,199.0 1017.0,199.8 1017.3,200.7 1017.6,201.8 1018.0,203.2 1018.5,204.8 1019.1,206.7 1019.7,208.8 1020.3,211.1 1020.9,213.7 1021.6,216.6 1022.3,219.4 1023.0,222.3 1023.8,225.2 1024.6,228.1 1025.4,230.5 1026.3,232.4 1027.1,233.8 1028.0,234.7 1028.9,235.3 1029.8,235.7 1030.8,236.0 1031.9,236.0 1032.8,235.8 1033.7,235.3 1034.6,234.7 1035.4,233.9 1036.1,232.6 1036.8,230.8 1037.4,228.6 1038.0,225.9 1038.5,222.7 1039.1,218.8 1039.6,214.3 1040.1,209.1 1040.6,204.3 1041.1,199.7 1041.6,195.4 1042.1,191.4 1042.5,188.0 1042.8,185.1 1043.1,182.8 1043.2,181.1 1043.6,179.9 1044.2,179.2 1045.0,179.0 1046.1,179.3 1046.9,178.8 1047.7,177.4 1048.3,175.3 1048.8,172.4 1049.3,169.2 1049.9,165.7 1050.5,161.8 1051.2,157.6 1051.9,153.5 1052.5,149.7 1053.2,146.0 1053.9,142.5 1054.6,139.4 1055.2,136.7 1055.9,134.3 1056.6,132.3 1057.3,130.5 1057.9,129.0 1058.6,127.7 1059.2,126.7 1059.9,126.8 1060.5,127.8 1061.2,129.9 1061.9,133.0 1062.6,136.3 1063.2,139.7 1063.9,143.1 1064.6,146.8 1065.3,150.1 1065.9,153.1 1066.6,155.9 1067.3,158.4 1067.9,160.9 1068.4,163.4 1068.8,166.0 1069.2,168.5 1069.6,170.0 1070.0,170.3 1070.5,169.5 1071.0,167.5 1071.5,166.7 1071.9,167.1 1072.2,168.6 1072.5,171.3 1072.7,174.1 1073.0,177.1 1073.2,180.1 1073.4,183.3 1073.6,186.0 1073.9,188.2 1074.2,189.9 1074.6,191.1 1075.1,192.0 1075.8,192.5 1076.6,192.6 1077.6,192.4 1078.6,192.5 1079.6,193.1 1080.6,194.0 1081.7,195.3 1082.5,196.5 1083.1,197.4 1083.4,198.1 1083.6,198.7 1083.9,199.5 1084.4,200.4 1085.1,201.5 1086.0,202.9 1086.9,204.8 1087.8,207.1 1088.8,210.1 1089.9,213.5 1090.9,216.5 1091.9,219.0 1092.9,221.1 1093.9,222.7 1094.9,224.0 1095.8,225.1 1096.6,225.9 1097.5,226.4 1098.3,226.6 1099.2,226.4 1100.0,225.9 1100.9,225.0 1101.8,223.9 1102.7,222.7 1103.7,221.2 1104.7,219.6 1105.7,217.7 1106.7,215.3 1107.7,212.6 1108.8,209.4 1109.7,206.4 1110.5,203.5 1111.3,200.7 1112.0,198.1 1112.6,195.4 1113.2,192.7 1113.7,190.0 1114.2,187.3 1114.6,184.8 1114.9,182.4 1115.1,180.1 1115.3,178.1 1115.6,176.4 1116.0,175.0 1116.5,174.1 1117.2,173.5 1118.0,173.4 1118.8,173.8 1119.7,174.8 1120.8,176.3 1121.7,176.4 1122.5,175.2 1123.3,172.6 1124.0,168.7 1124.6,164.9 1125.2,161.4 1125.7,158.2 1126.2,155.2 1126.8,152.5 1127.4,150.2 1128.2,148.2 1129.1,146.6 1129.9,144.9 1130.5,143.0 1131.1,141.0 1131.6,138.8 1132.1,136.5 1132.6,133.9 1133.1,131.2 1133.6,128.3 1134.2,126.5 1134.9,125.9 1135.6,126.5 1136.4,128.2 1137.2,130.0 1137.9,131.9 1138.6,133.9 1139.3,136.0 1139.9,138.6 1140.4,141.8 1140.9,145.5 1141.4,149.7 1141.7,154.0 1142.1,158.4 1142.4,163.0 1142.6,167.7 1142.9,172.0 1143.3,176.0 1143.6,179.8 1144.1,183.1 1144.5,186.0 1144.9,188.2 1145.4,189.9 1145.8,191.1 1146.3,191.9 1146.7,192.5 1147.2,192.8 1147.7,192.7 1148.1,193.0 1148.6,193.6 1149.0,194.5 1149.4,195.8 1150.0,196.9 1150.7,198.0 1151.6,198.9 1152.7,199.8 1153.8,201.0 1154.9,202.3 1156.0,203.9 1157.0,205.8 1158.1,207.7 1159.2,209.7 1160.3,211.9 1161.4,214.1 1162.4,216.1 1163.3,218.0 1164.1,219.8 1164.8,221.4 1165.6,222.8 1166.4,224.1 1167.3,225.3 1168.2,226.3 1169.1,226.5 1170.0,225.8 1170.9,224.4 1171.8,222.2 1172.6,220.1 1173.4,218.1 1174.2,216.3 1174.9,214.6 1175.7,213.5 1176.6,213.1 1177.6,213.4 1178.7,214.4 1179.8,214.6 1180.9,214.2 1182.0,213.0 1183.0,211.1 1184.1,209.6 1185.2,208.5 1186.3,207.8 1187.4,207.4 1188.4,206.6 1189.3,205.5 1190.1,204.0 1190.8,202.2 1191.4,200.3 1192.0,198.5 1192.4,196.7 1192.8,194.9 1193.1,192.5 1193.4,189.5 1193.8,185.9 1194.1,181.8 1194.4,178.0 1194.8,174.6 1195.2,171.5 1195.7,168.8 1196.3,166.4 1196.9,164.5 1197.7,163.0 1198.6,161.8 1199.5,160.7 1200.4,159.7 1201.4,158.8 1202.4,158.0 1203.3,157.7 1204.2,157.9 1204.9,158.8 1205.6,160.2 1206.2,161.9 1206.8,164.1 1207.4,166.6 1208.0,169.5 1208.5,172.4 1209.0,175.4 1209.5,178.4 1210.0,181.4 1210.5,183.8 1210.9,185.7 1211.4,186.9 1211.9,187.6 1212.3,188.4 1212.7,189.4 1213.0,190.4 1213.2,191.7 1213.6,192.5 1214.2,192.9 1214.9,192.9 1215.7,192.4 1216.5,192.9 1217.2,194.4 1217.9,196.7 1218.4,200.1 1219.0,203.2 1219.7,206.1 1220.4,208.7 1221.1,211.2 1221.9,212.7 1222.8,213.2 1223.9,212.7 1225.0,211.3 1226.0,210.5 1226.9,210.4 1227.7,210.9 1228.4,212.1 1229.1,213.6 1229.8,215.3 1230.6,217.4 1231.2,219.7 1232.0,222.1 1232.7,224.6 1233.4,227.1 1234.1,229.7 1234.9,231.4 1235.7,232.3 1236.6,232.4 1237.6,231.7 1238.5,230.9 1239.3,230.2 1240.1,229.5 1240.8,228.7 1241.5,228.8 1242.1,229.5 1242.7,231.1 1243.2,233.4 1243.7,235.4 1244.3,237.2 1245.0,238.7 1245.7,239.8 1246.4,240.7 1247.2,241.2 1247.9,241.5 1248.6,241.4 1249.3,240.3 1250.1,238.4 1250.8,235.4 1251.5,231.5 1252.2,227.3 1253.0,222.7 1253.7,217.8 1254.4,212.5 1255.1,207.6 1255.6,203.2 1256.1,199.2 1256.6,195.6 1257.0,192.7 1257.4,190.6 1257.8,189.3 1258.1,188.7 1258.5,187.8 1259.0,186.5 1259.4,184.8 1259.9,182.7 1260.4,180.3 1261.0,177.5 1261.6,174.4 1262.3,171.0 1263.0,167.6 1263.6,164.2 1264.3,160.9 1265.0,157.6 1265.7,154.8 1266.3,152.6 1267.0,150.9 1267.7,149.7 1268.3,148.6 1268.9,147.7 1269.5,146.9 1270.0,146.2 1270.5,146.5 1271.1,147.8 1271.6,150.0 1272.2,153.2 1272.7,156.3 1273.3,159.3 1273.9,162.1 1274.5,164.8 1275.1,167.5 1275.8,170.1 1276.4,172.7 1277.1,175.2 1277.7,177.6 1278.2,179.9 1278.7,182.0 1279.1,184.0 1279.4,186.1 1279.6,188.1 1279.7,190.2 1279.7,192.2 1279.8,194.2 1280.0,196.2 1280.4,198.1 1280.8,200.0 1281.4,201.3 1282.2,202.1 1283.1,202.4 1284.2,202.2 1285.3,202.2 1286.3,202.3 1287.4,202.5 1288.5,203.0 1289.6,203.5 1290.7,204.2 1291.8,205.0 1292.8,205.9 1293.9,206.8 1295.0,207.5 1296.1,208.2 1297.2,208.9 1298.2,209.9 1299.1,211.2 1299.9,212.8 1300.6,214.8 1301.3,217.4 1302.1,220.4 1302.8,224.0 1303.5,228.1 1304.2,231.7 1305.0,234.8 1305.7,237.4 1306.4,239.5 1307.2,241.5 1308.1,243.5 1309.1,245.4 1310.2,247.3 1311.3,248.8 1312.5,250.0 1313.8,250.9 1315.1,251.4 1316.2,251.7 1317.3,251.7 1318.3,251.6 1319.2,251.2 1320.0,250.2 1320.8,248.7 1321.6,246.6 1322.3,243.9 1323.0,240.9 1323.7,237.7 1324.5,234.2 1325.2,230.3 1325.9,226.6 1326.6,223.1 1327.3,219.6 1328.0,216.2 1328.7,212.5 1329.4,208.5 1330.1,204.2 1330.7,199.6 1331.3,195.2 1331.7,191.1 1331.9,187.1 1332.1,183.4 1332.3,180.0 1332.7,176.8 1333.2,173.8 1333.8,171.1 1334.5,169.1 1335.2,167.6 1335.9,166.8 1336.8,166.7 1337.6,166.8 1338.3,167.2 1339.1,167.9 1339.8,168.8 1340.5,170.3 1341.2,172.3 1341.9,174.8 1342.6,177.8 1343.2,180.4 1343.8,182.4 1344.3,184.0 1344.8,185.2 1345.2,186.8 1345.6,189.0 1345.9,191.8 1346.1,195.1 1346.5,198.0 1347.0,200.6 1347.6,202.8 1348.3,204.7 1349.0,206.6 1349.8,208.4 1350.5,210.3 1351.2,212.1 1352.0,214.1 1352.9,216.1 1353.9,218.3 1355.0,220.7 1356.1,222.5 1357.1,223.9 1358.2,224.8 1359.3,225.2 1360.4,225.8 1361.5,226.6 1362.5,227.6 1363.6,228.8 1364.7,229.9 1365.8,230.9 1366.9,231.9 1368.0,232.9 1369.1,234.1 1370.1,235.6 1371.2,237.4 1372.3,239.4 1373.4,241.2 1374.5,242.7 1375.6,243.9 1376.6,244.9 1377.7,245.9 1378.8,247.0 1379.9,248.1 1381.0,249.4 1382.1,250.3 1383.1,251.1 1384.2,251.6 1385.3,251.8 1386.5,252.1 1387.7,252.4 1389.1,252.8 1390.5,253.2 1391.8,253.2 1392.9,253.1 1393.8,252.6 1394.5,251.8 1395.2,250.4 1396.0,248.3 1396.7,245.6 1397.4,242.1 1398.1,238.3 1398.9,234.2 1399.6,229.8 1400.3,225.1 1401.0,220.8 1401.8,216.9 1402.5,213.5 1403.2,210.5 1404.0,208.0 1404.8,206.0 1405.6,204.6 1406.4,203.7 1407.3,203.0 1408.2,202.5 1409.1,202.3 1410.1,202.3 1411.0,202.6 1411.8,203.1 1412.6,204.0 1413.3,205.1 1414.0,206.4 1414.8,207.9 1415.5,209.6 1416.2,211.4 1416.9,213.5 1417.7,215.8 1418.4,218.3 1419.1,221.1 1419.8,223.6 1420.5,225.8 1421.3,227.7 1421.9,229.3 1422.8,230.3 1423.6,230.8 1424.6,230.7 1425.8,230.0 1426.8,229.4 1427.9,228.8 1429.0,228.1 1430.1,227.5 1431.2,227.1 1432.2,227.0 1433.3,227.1 1434.4,227.5 1435.5,227.6 1436.6,227.2 1437.6,226.6 1438.8,225.6 1439.8,225.2 1440.7,225.5 1441.5,226.4 1442.2,227.9 1442.9,229.5 1443.7,231.2 1444.4,233.1 1445.1,235.0 1445.8,236.8 1446.5,238.6 1447.3,240.3 1447.9,241.9 1448.7,243.2 1449.4,244.1 1450.1,244.7 1450.8,244.9 1451.5,244.7 1452.3,244.1 1453.0,243.0 1453.7,241.5 1454.5,239.8 1455.4,238.0 1456.5,236.1 1457.5,234.1 1458.6,231.9 1459.7,229.5 1460.8,226.9 1461.9,224.1 1462.9,221.2 1463.8,218.0 1464.6,214.6 1465.3,210.9 1465.9,207.3 1466.4,203.6 1466.8,200.0 1467.1,196.3 1467.6,192.9 1468.3,189.7 1469.3,186.8 1470.5,184.1 1471.5,181.2 1472.4,178.1 1473.1,174.7 1473.6,171.2 1474.1,167.8 1474.6,164.6 1475.1,161.5 1475.6,158.7 1476.1,156.0 1476.7,153.5 1477.3,151.3 1478.0,149.2 1478.7,147.7 1479.5,146.5 1480.2,145.8 1481.1,145.6 1481.8,144.6 1482.5,142.9 1483.1,140.4 1483.6,137.2 1484.1,134.6 1484.7,132.6 1485.2,131.3 1485.8,130.7 1486.4,130.6 1487.0,130.9 1487.6,131.8 1488.3,133.3 1489.0,135.0 1489.6,137.0 1490.3,139.3 1491.0,141.8 1491.6,144.7 1492.2,148.0 1492.7,151.6 1493.2,155.6 1493.6,160.0 1494.0,164.9 1494.4,170.3 1494.7,176.1 1495.0,180.4 1495.1,183.3 1495.2,184.8 1494.8,190.0 1496.8,333.2 1507.0,333.2" fill="none" stroke="#ee0f12" stroke-width="2.5" stroke-linejoin="round" stroke-linecap="butt"/>
</g>
<defs><linearGradient id="gw" x1="0" x2="1" y1="0" y2="0"><stop offset="0" stop-color="#f87b1c"/><stop offset="0.5" stop-color="#fb9416"/><stop offset="1" stop-color="#fdbb0a"/></linearGradient></defs><path d="M285.3,61.5 Q280.8,61.5 283.3,57.5 C294.3,37.2 320.3,14.2 350.3,14.2 L527.8,14.2 Q533.3,14.2 530.8,18.2 C519.8,38.5 493.8,61.5 463.8,61.5 Z" fill="url(#gw)"/>
<defs><linearGradient id="gs" x1="0" x2="1" y1="0" y2="0"><stop offset="0" stop-color="#f87b1c"/><stop offset="0.5" stop-color="#fb9416"/><stop offset="1" stop-color="#fdbb0a"/></linearGradient></defs><path d="M1036.3,61.5 Q1031.8,61.5 1034.3,57.5 C1045.3,37.2 1071.3,14.2 1101.3,14.2 L1278.8,14.2 Q1284.3,14.2 1281.8,18.2 C1270.8,38.5 1244.8,61.5 1214.8,61.5 Z" fill="url(#gs)"/>
<g id="logo" transform="translate(30,455) scale(0.11561)">
<defs>
<linearGradient id="lgo" x1="0" x2="1" y1="1" y2="0"><stop offset="0" stop-color="#ffdc14"/><stop offset="0.55" stop-color="#f9a21c"/><stop offset="1" stop-color="#ee7a22"/></linearGradient>
<linearGradient id="lgb" x1="1" x2="0" y1="0" y2="1"><stop offset="0" stop-color="#2b62c4"/><stop offset="0.55" stop-color="#2a86d8"/><stop offset="1" stop-color="#1fa9ea"/></linearGradient>
</defs>
<path d="M75,250 C120,252 170,266 205,296 C235,322 255,352 290,370 C320,383 360,378 394,350 C362,410 300,440 240,435 C150,428 80,350 75,250 Z" fill="#2545a6"/>
<path d="M76,246 C96,208 170,198 240,186 C275,180 292,168 272,158 C247,148 192,150 152,163 C125,170 103,166 108,152 C135,115 200,90 262,94 C307,97 337,120 331,150 C325,190 285,212 230,222 C170,232 110,236 76,246 Z" fill="url(#lgo)"/>
<path d="M332,108 C382,135 420,200 419,265 C418,312 400,347 375,370 C345,386 308,376 294,350 C280,324 290,290 310,255 C335,213 352,160 332,108 Z" fill="url(#lgb)"/>
<path d="M388,222 C394,262 374,300 338,344" fill="none" stroke="#fff" stroke-width="17" stroke-linecap="round"/>
<g fill="#ffdc1e">
<circle cx="120" cy="298" r="14"/><circle cx="157" cy="348" r="14"/><circle cx="207" cy="380" r="14"/><circle cx="265" cy="397" r="14"/>
</g>
</g>
</svg>
<div class="ttl" id="tw" style="left:351.5px;top:25.6px">WINTER</div>
<div class="ttl" id="ts" style="left:1099px;top:25.6px">SUMMER</div>
<div class="sw" style="left:76.3px;top:349.4px;background:#7b4600"></div><div class="lt" style="left:107px;top:347.0px">RES Baseload</div><div class="sw" style="left:238.7px;top:349.4px;background:#ffee00"></div><div class="lt" style="left:269.4px;top:347.0px">PV</div><div class="sw" style="left:316.4px;top:349.4px;background:#a6d608"></div><div class="lt" style="left:346.8px;top:347.0px">Wind Offshore</div><div class="sw" style="left:485.4px;top:349.4px;background:#41a8ea"></div><div class="lt" style="left:516.1px;top:347.0px">Wind Onshore</div><div class="sw" style="left:651.9px;top:349.4px;background:#0b2fa0"></div><div class="lt" style="left:682.6px;top:347.0px">Hydro</div><div class="sw" style="left:755.4px;top:349.4px;background:#f7821e"></div><div class="lt" style="left:786px;top:346.2px">CHP</div><div class="sw" style="left:843.4px;top:349.4px;background:#f40d10"></div><div class="lt" style="left:873.9px;top:346.2px">Demand</div><div class="sw" style="left:964.8px;top:349.4px;background:#808080"></div><div class="lt" style="left:996.1px;top:346.2px">Peaker</div><div class="sw" style="left:1067px;top:349.4px;background:#a83c0c"></div><div class="lt" style="left:1097.4px;top:346.2px">Batteries</div><div class="sw" style="left:1199.3px;top:349.4px;background:#d8d8d8"></div><div class="lt" style="left:1230.6px;top:346.2px">Transmissions</div><div class="sw" style="left:1368.6px;top:349.4px;background:#a5720a"></div><div class="lt" style="left:1399.3px;top:346.2px">Loss of Load</div><div class="lt" style="left:999.2px;top:365.6px">Plants</div>
<div class="para" id="pw" style="left:77.2px;top:385.4px;width:683.8px"><span>CHP runs as base load during low wind and sun periods, covering high</span><span class="last">shared of remaining peak demand.</span></div>
<div class="para" id="ps" style="left:818.2px;top:383.5px;width:685.4px"><span>CHP stops producing when variable renewable&nbsp; generation is sufficient to</span><span class="last">cover demand.</span></div>
<div class="cogen">COGEN</div>
<div class="europe">EUROPE</div>
<div class="copy">COPYRIGHT © COGEN 2020</div>
</body></html>
